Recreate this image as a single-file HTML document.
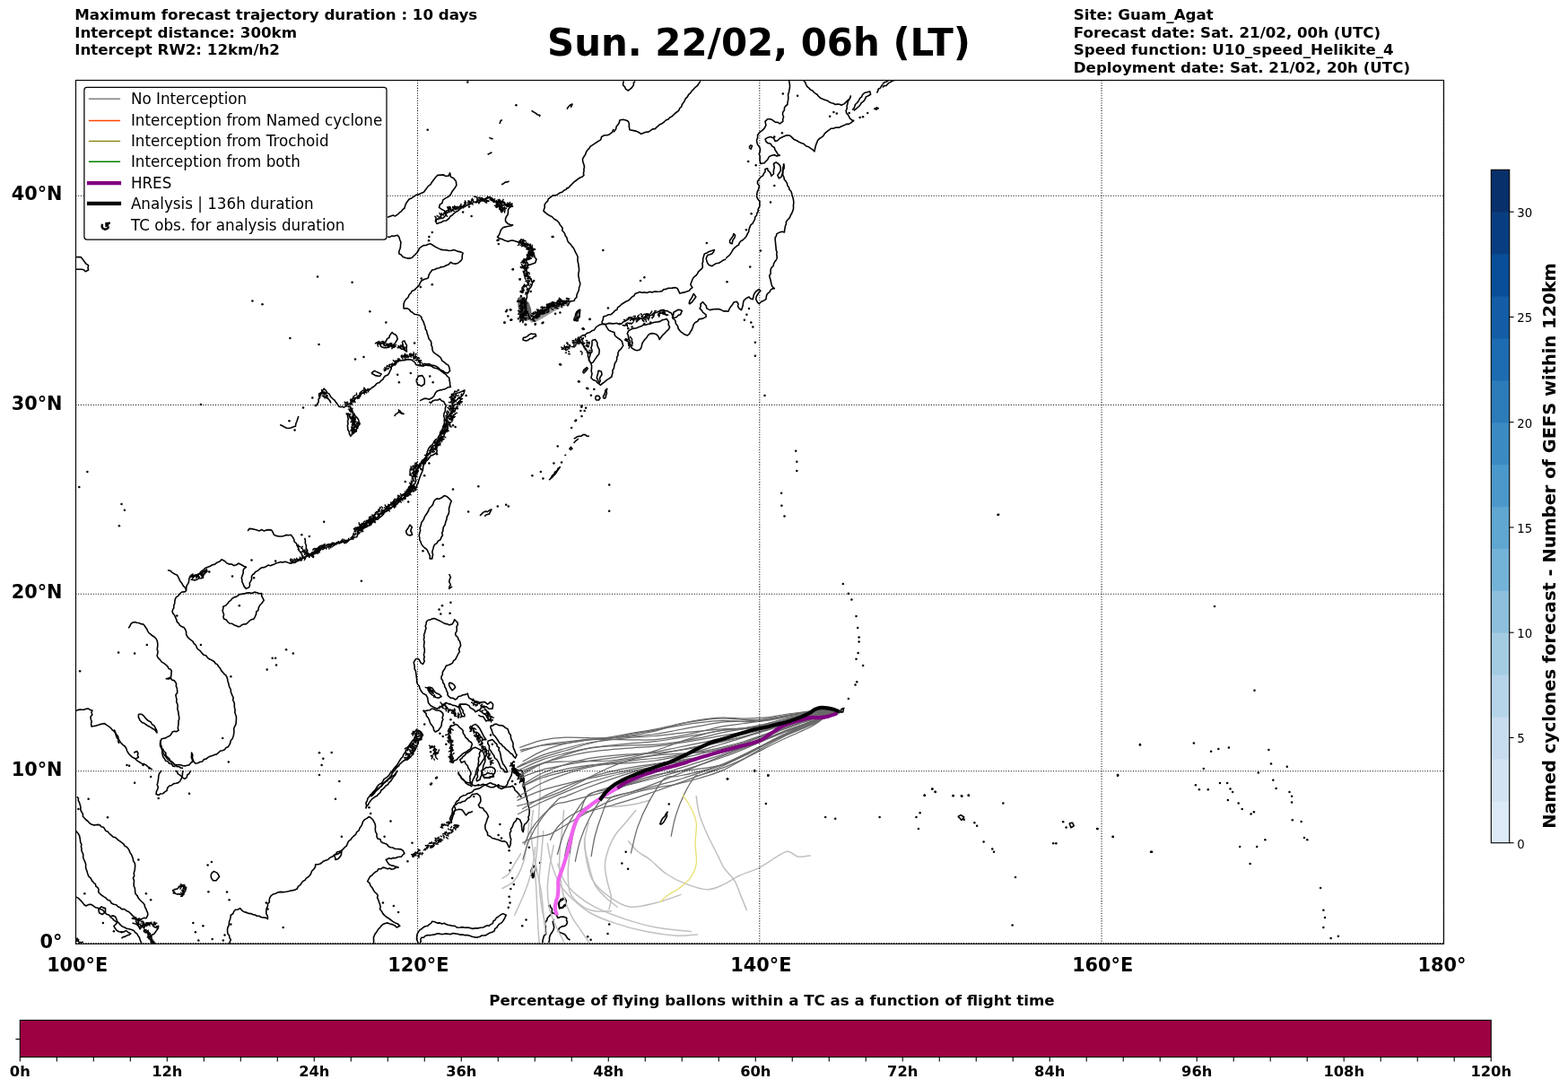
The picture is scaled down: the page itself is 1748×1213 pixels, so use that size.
<!DOCTYPE html><html><head><meta charset="utf-8"><title>Trajectory forecast</title><style>html,body{margin:0;padding:0;background:#fff;overflow:hidden}svg{display:block}</style></head><body><svg width="1748" height="1213" viewBox="0 0 1748 1213" font-family="'DejaVu Sans', 'Liberation Sans', sans-serif">
<rect width="1748" height="1213" fill="#fff"/>
<g font-weight="bold" font-size="16.67" fill="#000">
<text x="83.2" y="22.0">Maximum forecast trajectory duration : 10 days</text>
<text x="83.2" y="41.5">Intercept distance: 300km</text>
<text x="83.2" y="61.0">Intercept RW2: 12km/h2</text>
<text x="1196.8" y="22.0">Site: Guam_Agat</text>
<text x="1196.8" y="41.5">Forecast date: Sat. 21/02, 00h (UTC)</text>
<text x="1196.8" y="61.0">Speed function: U10_speed_Helikite_4</text>
<text x="1196.8" y="80.5">Deployment date: Sat. 21/02, 20h (UTC)</text>
</g>
<text x="846" y="61.5" text-anchor="middle" font-weight="bold" font-size="41.9">Sun. 22/02, 06h (LT)</text>
<defs><clipPath id="ax"><rect x="84.5" y="89.5" width="1525" height="962.8"/></clipPath></defs>
<g clip-path="url(#ax)">
<g fill="none" stroke="#000" stroke-width="1.6" stroke-linejoin="round">
<circle cx="521.3" cy="91.6" r="1.25" fill="#000" stroke="none"/>
<circle cx="476.7" cy="144.8" r="1.25" fill="#000" stroke="none"/>
<circle cx="575.4" cy="117.3" r="1.25" fill="#000" stroke="none"/>
<circle cx="615.7" cy="264.0" r="1.25" fill="#000" stroke="none"/>
<circle cx="672.3" cy="279.1" r="1.25" fill="#000" stroke="none"/>
<circle cx="481.8" cy="258.9" r="1.25" fill="#000" stroke="none"/>
<circle cx="478.4" cy="264.0" r="1.25" fill="#000" stroke="none"/>
<circle cx="478.0" cy="268.3" r="1.25" fill="#000" stroke="none"/>
<circle cx="523.0" cy="230.6" r="1.25" fill="#000" stroke="none"/>
<circle cx="516.1" cy="236.6" r="1.25" fill="#000" stroke="none"/>
<circle cx="525.6" cy="240.9" r="1.25" fill="#000" stroke="none"/>
<circle cx="555.6" cy="267.5" r="1.25" fill="#000" stroke="none"/>
<circle cx="354.0" cy="308.4" r="1.25" fill="#000" stroke="none"/>
<circle cx="281.4" cy="335.4" r="1.25" fill="#000" stroke="none"/>
<circle cx="292.5" cy="339.3" r="1.25" fill="#000" stroke="none"/>
<circle cx="323.4" cy="377.1" r="1.25" fill="#000" stroke="none"/>
<circle cx="355.5" cy="383.9" r="1.25" fill="#000" stroke="none"/>
<circle cx="223.9" cy="450.9" r="1.25" fill="#000" stroke="none"/>
<circle cx="338.0" cy="454.6" r="1.25" fill="#000" stroke="none"/>
<circle cx="348.3" cy="443.5" r="1.25" fill="#000" stroke="none"/>
<circle cx="351.7" cy="452.1" r="1.25" fill="#000" stroke="none"/>
<circle cx="872.8" cy="104.4" r="1.25" fill="#000" stroke="none"/>
<circle cx="889.1" cy="106.7" r="1.25" fill="#000" stroke="none"/>
<circle cx="834.2" cy="180.0" r="1.25" fill="#000" stroke="none"/>
<circle cx="842.7" cy="184.2" r="1.25" fill="#000" stroke="none"/>
<circle cx="863.3" cy="152.5" r="1.25" fill="#000" stroke="none"/>
<circle cx="871.9" cy="148.2" r="1.25" fill="#000" stroke="none"/>
<circle cx="863.3" cy="207.1" r="1.25" fill="#000" stroke="none"/>
<circle cx="859.0" cy="225.4" r="1.25" fill="#000" stroke="none"/>
<circle cx="837.6" cy="238.3" r="1.25" fill="#000" stroke="none"/>
<circle cx="831.9" cy="256.3" r="1.25" fill="#000" stroke="none"/>
<circle cx="787.8" cy="270.9" r="1.25" fill="#000" stroke="none"/>
<circle cx="847.9" cy="279.5" r="1.25" fill="#000" stroke="none"/>
<circle cx="929.4" cy="125.0" r="1.25" fill="#000" stroke="none"/>
<circle cx="932.8" cy="126.4" r="1.25" fill="#000" stroke="none"/>
<circle cx="925.1" cy="129.8" r="1.25" fill="#000" stroke="none"/>
<circle cx="946.6" cy="125.9" r="1.25" fill="#000" stroke="none"/>
<circle cx="958.6" cy="131.0" r="1.25" fill="#000" stroke="none"/>
<circle cx="962.0" cy="130.2" r="1.25" fill="#000" stroke="none"/>
<circle cx="967.2" cy="125.9" r="1.25" fill="#000" stroke="none"/>
<circle cx="835.0" cy="343.9" r="1.25" fill="#000" stroke="none"/>
<circle cx="832.4" cy="350.8" r="1.25" fill="#000" stroke="none"/>
<circle cx="829.9" cy="356.8" r="1.25" fill="#000" stroke="none"/>
<circle cx="837.3" cy="359.4" r="1.25" fill="#000" stroke="none"/>
<circle cx="839.3" cy="364.5" r="1.25" fill="#000" stroke="none"/>
<circle cx="841.9" cy="381.7" r="1.25" fill="#000" stroke="none"/>
<circle cx="841.9" cy="396.8" r="1.25" fill="#000" stroke="none"/>
<circle cx="852.5" cy="440.9" r="1.25" fill="#000" stroke="none"/>
<circle cx="836.2" cy="297.6" r="1.25" fill="#000" stroke="none"/>
<circle cx="810.5" cy="314.2" r="1.25" fill="#000" stroke="none"/>
<circle cx="714.0" cy="313.0" r="1.25" fill="#000" stroke="none"/>
<circle cx="718.3" cy="309.3" r="1.25" fill="#000" stroke="none"/>
<circle cx="701.2" cy="355.1" r="1.25" fill="#000" stroke="none"/>
<circle cx="706.3" cy="356.8" r="1.25" fill="#000" stroke="none"/>
<circle cx="718.3" cy="354.2" r="1.25" fill="#000" stroke="none"/>
<circle cx="728.6" cy="350.8" r="1.25" fill="#000" stroke="none"/>
<circle cx="735.5" cy="349.1" r="1.25" fill="#000" stroke="none"/>
<circle cx="700.3" cy="366.2" r="1.25" fill="#000" stroke="none"/>
<circle cx="704.6" cy="364.5" r="1.25" fill="#000" stroke="none"/>
<circle cx="718.3" cy="361.1" r="1.25" fill="#000" stroke="none"/>
<circle cx="725.2" cy="359.4" r="1.25" fill="#000" stroke="none"/>
<circle cx="690.9" cy="361.1" r="1.25" fill="#000" stroke="none"/>
<circle cx="697.7" cy="378.2" r="1.25" fill="#000" stroke="none"/>
<circle cx="701.2" cy="385.1" r="1.25" fill="#000" stroke="none"/>
<circle cx="650.0" cy="366.2" r="1.25" fill="#000" stroke="none"/>
<circle cx="644.9" cy="378.2" r="1.25" fill="#000" stroke="none"/>
<circle cx="651.7" cy="412.6" r="1.25" fill="#000" stroke="none"/>
<circle cx="645.7" cy="425.4" r="1.25" fill="#000" stroke="none"/>
<circle cx="625.1" cy="406.6" r="1.25" fill="#000" stroke="none"/>
<circle cx="655.2" cy="433.2" r="1.25" fill="#000" stroke="none"/>
<circle cx="648.3" cy="453.8" r="1.25" fill="#000" stroke="none"/>
<circle cx="651.7" cy="458.0" r="1.25" fill="#000" stroke="none"/>
<circle cx="641.4" cy="469.2" r="1.25" fill="#000" stroke="none"/>
<circle cx="637.1" cy="476.9" r="1.25" fill="#000" stroke="none"/>
<circle cx="392.6" cy="314.7" r="1.25" fill="#000" stroke="none"/>
<circle cx="412.3" cy="347.3" r="1.25" fill="#000" stroke="none"/>
<circle cx="430.3" cy="359.4" r="1.25" fill="#000" stroke="none"/>
<circle cx="462.1" cy="382.5" r="1.25" fill="#000" stroke="none"/>
<circle cx="481.8" cy="317.3" r="1.25" fill="#000" stroke="none"/>
<circle cx="443.2" cy="417.7" r="1.25" fill="#000" stroke="none"/>
<circle cx="457.8" cy="416.0" r="1.25" fill="#000" stroke="none"/>
<circle cx="479.2" cy="419.4" r="1.25" fill="#000" stroke="none"/>
<circle cx="482.7" cy="426.3" r="1.25" fill="#000" stroke="none"/>
<circle cx="444.9" cy="426.3" r="1.25" fill="#000" stroke="none"/>
<circle cx="396.0" cy="400.5" r="1.25" fill="#000" stroke="none"/>
<circle cx="405.5" cy="398.0" r="1.25" fill="#000" stroke="none"/>
<circle cx="571.9" cy="300.2" r="1.25" fill="#000" stroke="none"/>
<circle cx="569.3" cy="345.6" r="1.25" fill="#000" stroke="none"/>
<circle cx="564.2" cy="347.3" r="1.25" fill="#000" stroke="none"/>
<circle cx="562.5" cy="359.4" r="1.25" fill="#000" stroke="none"/>
<circle cx="569.3" cy="356.8" r="1.25" fill="#000" stroke="none"/>
<circle cx="585.6" cy="361.9" r="1.25" fill="#000" stroke="none"/>
<circle cx="596.8" cy="361.1" r="1.25" fill="#000" stroke="none"/>
<circle cx="605.4" cy="359.4" r="1.25" fill="#000" stroke="none"/>
<circle cx="579.6" cy="311.3" r="1.25" fill="#000" stroke="none"/>
<circle cx="580.5" cy="325.0" r="1.25" fill="#000" stroke="none"/>
<circle cx="591.7" cy="325.0" r="1.25" fill="#000" stroke="none"/>
<circle cx="595.1" cy="313.0" r="1.25" fill="#000" stroke="none"/>
<circle cx="469.8" cy="310.5" r="1.25" fill="#000" stroke="none"/>
<circle cx="468.9" cy="319.9" r="1.25" fill="#000" stroke="none"/>
<circle cx="511.0" cy="434.9" r="1.25" fill="#000" stroke="none"/>
<circle cx="519.6" cy="440.9" r="1.25" fill="#000" stroke="none"/>
<circle cx="505.0" cy="474.3" r="1.25" fill="#000" stroke="none"/>
<circle cx="507.6" cy="476.1" r="1.25" fill="#000" stroke="none"/>
<circle cx="564.2" cy="562.8" r="1.25" fill="#000" stroke="none"/>
<circle cx="554.8" cy="564.5" r="1.25" fill="#000" stroke="none"/>
<circle cx="522.1" cy="570.5" r="1.25" fill="#000" stroke="none"/>
<circle cx="505.0" cy="545.6" r="1.25" fill="#000" stroke="none"/>
<circle cx="533.3" cy="542.2" r="1.25" fill="#000" stroke="none"/>
<circle cx="593.4" cy="530.2" r="1.25" fill="#000" stroke="none"/>
<circle cx="605.4" cy="533.6" r="1.25" fill="#000" stroke="none"/>
<circle cx="602.8" cy="525.9" r="1.25" fill="#000" stroke="none"/>
<circle cx="621.7" cy="497.6" r="1.25" fill="#000" stroke="none"/>
<circle cx="626.0" cy="515.6" r="1.25" fill="#000" stroke="none"/>
<circle cx="679.2" cy="540.5" r="1.25" fill="#000" stroke="none"/>
<circle cx="679.2" cy="569.7" r="1.25" fill="#000" stroke="none"/>
<circle cx="402.9" cy="647.7" r="1.25" fill="#000" stroke="none"/>
<circle cx="471.5" cy="614.3" r="1.25" fill="#000" stroke="none"/>
<circle cx="493.8" cy="607.4" r="1.25" fill="#000" stroke="none"/>
<circle cx="494.7" cy="620.3" r="1.25" fill="#000" stroke="none"/>
<circle cx="502.4" cy="671.8" r="1.25" fill="#000" stroke="none"/>
<circle cx="493.0" cy="675.2" r="1.25" fill="#000" stroke="none"/>
<circle cx="489.5" cy="679.5" r="1.25" fill="#000" stroke="none"/>
<circle cx="491.3" cy="684.6" r="1.25" fill="#000" stroke="none"/>
<circle cx="501.6" cy="683.8" r="1.25" fill="#000" stroke="none"/>
<circle cx="566.8" cy="564.5" r="1.25" fill="#000" stroke="none"/>
<circle cx="617.4" cy="516.5" r="1.25" fill="#000" stroke="none"/>
<circle cx="478.4" cy="516.5" r="1.25" fill="#000" stroke="none"/>
<circle cx="473.2" cy="530.2" r="1.25" fill="#000" stroke="none"/>
<circle cx="469.8" cy="523.3" r="1.25" fill="#000" stroke="none"/>
<circle cx="457.8" cy="523.3" r="1.25" fill="#000" stroke="none"/>
<circle cx="451.8" cy="537.1" r="1.25" fill="#000" stroke="none"/>
<circle cx="455.2" cy="559.4" r="1.25" fill="#000" stroke="none"/>
<circle cx="440.6" cy="564.5" r="1.25" fill="#000" stroke="none"/>
<circle cx="426.9" cy="571.4" r="1.25" fill="#000" stroke="none"/>
<circle cx="413.2" cy="585.1" r="1.25" fill="#000" stroke="none"/>
<circle cx="399.4" cy="593.7" r="1.25" fill="#000" stroke="none"/>
<circle cx="487.0" cy="506.2" r="1.25" fill="#000" stroke="none"/>
<circle cx="485.3" cy="501.0" r="1.25" fill="#000" stroke="none"/>
<circle cx="97.4" cy="525.9" r="1.25" fill="#000" stroke="none"/>
<circle cx="88.3" cy="543.1" r="1.25" fill="#000" stroke="none"/>
<circle cx="135.5" cy="562.0" r="1.25" fill="#000" stroke="none"/>
<circle cx="138.9" cy="568.8" r="1.25" fill="#000" stroke="none"/>
<circle cx="132.9" cy="586.3" r="1.25" fill="#000" stroke="none"/>
<circle cx="361.2" cy="581.7" r="1.25" fill="#000" stroke="none"/>
<circle cx="280.5" cy="624.6" r="1.25" fill="#000" stroke="none"/>
<circle cx="259.0" cy="642.6" r="1.25" fill="#000" stroke="none"/>
<circle cx="322.5" cy="469.3" r="1.25" fill="#000" stroke="none"/>
<circle cx="328.6" cy="479.6" r="1.25" fill="#000" stroke="none"/>
<circle cx="336.3" cy="596.3" r="1.25" fill="#000" stroke="none"/>
<circle cx="344.9" cy="598.0" r="1.25" fill="#000" stroke="none"/>
<circle cx="233.3" cy="637.5" r="1.25" fill="#000" stroke="none"/>
<circle cx="283.1" cy="644.3" r="1.25" fill="#000" stroke="none"/>
<circle cx="307.1" cy="625.5" r="1.25" fill="#000" stroke="none"/>
<circle cx="324.3" cy="623.8" r="1.25" fill="#000" stroke="none"/>
<circle cx="197.3" cy="686.5" r="1.25" fill="#000" stroke="none"/>
<circle cx="223.9" cy="719.1" r="1.25" fill="#000" stroke="none"/>
<circle cx="257.3" cy="754.2" r="1.25" fill="#000" stroke="none"/>
<circle cx="248.2" cy="822.9" r="1.25" fill="#000" stroke="none"/>
<circle cx="254.8" cy="849.5" r="1.25" fill="#000" stroke="none"/>
<circle cx="163.8" cy="719.1" r="1.25" fill="#000" stroke="none"/>
<circle cx="132.1" cy="727.6" r="1.25" fill="#000" stroke="none"/>
<circle cx="150.1" cy="728.5" r="1.25" fill="#000" stroke="none"/>
<circle cx="89.1" cy="748.2" r="1.25" fill="#000" stroke="none"/>
<circle cx="319.1" cy="724.2" r="1.25" fill="#000" stroke="none"/>
<circle cx="326.8" cy="728.5" r="1.25" fill="#000" stroke="none"/>
<circle cx="303.7" cy="733.7" r="1.25" fill="#000" stroke="none"/>
<circle cx="307.1" cy="733.7" r="1.25" fill="#000" stroke="none"/>
<circle cx="308.0" cy="741.4" r="1.25" fill="#000" stroke="none"/>
<circle cx="297.7" cy="746.5" r="1.25" fill="#000" stroke="none"/>
<circle cx="356.0" cy="839.2" r="1.25" fill="#000" stroke="none"/>
<circle cx="369.7" cy="838.9" r="1.25" fill="#000" stroke="none"/>
<circle cx="360.3" cy="845.7" r="1.25" fill="#000" stroke="none"/>
<circle cx="358.6" cy="852.9" r="1.25" fill="#000" stroke="none"/>
<circle cx="141.5" cy="852.9" r="1.25" fill="#000" stroke="none"/>
<circle cx="144.1" cy="853.8" r="1.25" fill="#000" stroke="none"/>
<circle cx="266.8" cy="675.3" r="1.25" fill="#000" stroke="none"/>
<circle cx="159.5" cy="852.9" r="1.25" fill="#000" stroke="none"/>
<circle cx="166.4" cy="856.4" r="1.25" fill="#000" stroke="none"/>
<circle cx="235.9" cy="961.1" r="1.25" fill="#000" stroke="none"/>
<circle cx="231.6" cy="964.5" r="1.25" fill="#000" stroke="none"/>
<circle cx="253.0" cy="994.6" r="1.25" fill="#000" stroke="none"/>
<circle cx="255.6" cy="1003.2" r="1.25" fill="#000" stroke="none"/>
<circle cx="232.4" cy="994.2" r="1.25" fill="#000" stroke="none"/>
<circle cx="226.4" cy="1032.3" r="1.25" fill="#000" stroke="none"/>
<circle cx="217.9" cy="1039.2" r="1.25" fill="#000" stroke="none"/>
<circle cx="315.7" cy="1034.0" r="1.25" fill="#000" stroke="none"/>
<circle cx="374.0" cy="890.7" r="1.25" fill="#000" stroke="none"/>
<circle cx="378.3" cy="871.0" r="1.25" fill="#000" stroke="none"/>
<circle cx="356.0" cy="864.1" r="1.25" fill="#000" stroke="none"/>
<circle cx="380.9" cy="932.8" r="1.25" fill="#000" stroke="none"/>
<circle cx="98.6" cy="890.7" r="1.25" fill="#000" stroke="none"/>
<circle cx="120.0" cy="911.3" r="1.25" fill="#000" stroke="none"/>
<circle cx="87.4" cy="901.9" r="1.25" fill="#000" stroke="none"/>
<circle cx="154.4" cy="958.5" r="1.25" fill="#000" stroke="none"/>
<circle cx="162.9" cy="996.3" r="1.25" fill="#000" stroke="none"/>
<circle cx="168.1" cy="1003.2" r="1.25" fill="#000" stroke="none"/>
<circle cx="94.3" cy="996.3" r="1.25" fill="#000" stroke="none"/>
<circle cx="114.9" cy="1028.9" r="1.25" fill="#000" stroke="none"/>
<circle cx="126.9" cy="1038.3" r="1.25" fill="#000" stroke="none"/>
<circle cx="135.5" cy="1039.2" r="1.25" fill="#000" stroke="none"/>
<circle cx="211.0" cy="884.7" r="1.25" fill="#000" stroke="none"/>
<circle cx="176.7" cy="889.9" r="1.25" fill="#000" stroke="none"/>
<circle cx="168.1" cy="865.9" r="1.25" fill="#000" stroke="none"/>
<circle cx="150.1" cy="872.7" r="1.25" fill="#000" stroke="none"/>
<circle cx="215.3" cy="1028.9" r="1.25" fill="#000" stroke="none"/>
<circle cx="221.3" cy="1048.6" r="1.25" fill="#000" stroke="none"/>
<circle cx="236.7" cy="1046.9" r="1.25" fill="#000" stroke="none"/>
<circle cx="248.8" cy="1048.6" r="1.25" fill="#000" stroke="none"/>
<circle cx="250.5" cy="1042.6" r="1.25" fill="#000" stroke="none"/>
<circle cx="257.3" cy="1030.6" r="1.25" fill="#000" stroke="none"/>
<circle cx="296.8" cy="1006.6" r="1.25" fill="#000" stroke="none"/>
<circle cx="298.5" cy="1013.5" r="1.25" fill="#000" stroke="none"/>
<circle cx="193.8" cy="995.4" r="1.25" fill="#000" stroke="none"/>
<circle cx="204.1" cy="994.6" r="1.25" fill="#000" stroke="none"/>
<circle cx="480.1" cy="833.2" r="1.25" fill="#000" stroke="none"/>
<circle cx="483.5" cy="836.6" r="1.25" fill="#000" stroke="none"/>
<circle cx="487.0" cy="840.0" r="1.25" fill="#000" stroke="none"/>
<circle cx="481.8" cy="843.5" r="1.25" fill="#000" stroke="none"/>
<circle cx="480.1" cy="838.3" r="1.25" fill="#000" stroke="none"/>
<circle cx="486.1" cy="867.5" r="1.25" fill="#000" stroke="none"/>
<circle cx="481.0" cy="873.5" r="1.25" fill="#000" stroke="none"/>
<circle cx="473.2" cy="807.4" r="1.25" fill="#000" stroke="none"/>
<circle cx="490.4" cy="817.7" r="1.25" fill="#000" stroke="none"/>
<circle cx="493.8" cy="821.1" r="1.25" fill="#000" stroke="none"/>
<circle cx="497.3" cy="829.7" r="1.25" fill="#000" stroke="none"/>
<circle cx="504.1" cy="792.0" r="1.25" fill="#000" stroke="none"/>
<circle cx="502.4" cy="802.3" r="1.25" fill="#000" stroke="none"/>
<circle cx="505.8" cy="805.7" r="1.25" fill="#000" stroke="none"/>
<circle cx="528.2" cy="888.1" r="1.25" fill="#000" stroke="none"/>
<circle cx="533.3" cy="875.2" r="1.25" fill="#000" stroke="none"/>
<circle cx="555.6" cy="875.2" r="1.25" fill="#000" stroke="none"/>
<circle cx="547.0" cy="819.4" r="1.25" fill="#000" stroke="none"/>
<circle cx="548.8" cy="829.7" r="1.25" fill="#000" stroke="none"/>
<circle cx="572.8" cy="860.6" r="1.25" fill="#000" stroke="none"/>
<circle cx="576.2" cy="864.0" r="1.25" fill="#000" stroke="none"/>
<circle cx="579.6" cy="867.5" r="1.25" fill="#000" stroke="none"/>
<circle cx="571.1" cy="870.9" r="1.25" fill="#000" stroke="none"/>
<circle cx="574.5" cy="874.3" r="1.25" fill="#000" stroke="none"/>
<circle cx="567.6" cy="948.2" r="1.25" fill="#000" stroke="none"/>
<circle cx="569.3" cy="962.0" r="1.25" fill="#000" stroke="none"/>
<circle cx="568.5" cy="970.5" r="1.25" fill="#000" stroke="none"/>
<circle cx="571.1" cy="979.1" r="1.25" fill="#000" stroke="none"/>
<circle cx="572.8" cy="986.0" r="1.25" fill="#000" stroke="none"/>
<circle cx="569.3" cy="991.1" r="1.25" fill="#000" stroke="none"/>
<circle cx="567.6" cy="999.7" r="1.25" fill="#000" stroke="none"/>
<circle cx="568.5" cy="1006.6" r="1.25" fill="#000" stroke="none"/>
<circle cx="566.8" cy="1011.7" r="1.25" fill="#000" stroke="none"/>
<circle cx="586.5" cy="1025.5" r="1.25" fill="#000" stroke="none"/>
<circle cx="582.2" cy="1032.3" r="1.25" fill="#000" stroke="none"/>
<circle cx="677.5" cy="1040.9" r="1.25" fill="#000" stroke="none"/>
<circle cx="679.2" cy="1030.6" r="1.25" fill="#000" stroke="none"/>
<circle cx="658.6" cy="1047.8" r="1.25" fill="#000" stroke="none"/>
<circle cx="655.2" cy="1044.3" r="1.25" fill="#000" stroke="none"/>
<circle cx="602.0" cy="962.0" r="1.25" fill="#000" stroke="none"/>
<circle cx="411.5" cy="900.2" r="1.25" fill="#000" stroke="none"/>
<circle cx="413.2" cy="907.1" r="1.25" fill="#000" stroke="none"/>
<circle cx="435.5" cy="915.6" r="1.25" fill="#000" stroke="none"/>
<circle cx="428.6" cy="932.8" r="1.25" fill="#000" stroke="none"/>
<circle cx="459.5" cy="939.7" r="1.25" fill="#000" stroke="none"/>
<circle cx="454.4" cy="960.3" r="1.25" fill="#000" stroke="none"/>
<circle cx="480.1" cy="874.4" r="1.25" fill="#000" stroke="none"/>
<circle cx="487.0" cy="866.7" r="1.25" fill="#000" stroke="none"/>
<circle cx="557.3" cy="919.1" r="1.25" fill="#000" stroke="none"/>
<circle cx="555.6" cy="931.1" r="1.25" fill="#000" stroke="none"/>
<circle cx="559.0" cy="934.5" r="1.25" fill="#000" stroke="none"/>
<circle cx="589.9" cy="944.8" r="1.25" fill="#000" stroke="none"/>
<circle cx="612.2" cy="1010.0" r="1.25" fill="#000" stroke="none"/>
<circle cx="426.9" cy="1006.6" r="1.25" fill="#000" stroke="none"/>
<circle cx="444.1" cy="1016.9" r="1.25" fill="#000" stroke="none"/>
<circle cx="438.9" cy="1010.0" r="1.25" fill="#000" stroke="none"/>
<circle cx="887.2" cy="502.7" r="1.25" fill="#000" stroke="none"/>
<circle cx="888.3" cy="514.7" r="1.25" fill="#000" stroke="none"/>
<circle cx="888.3" cy="525.0" r="1.25" fill="#000" stroke="none"/>
<circle cx="871.1" cy="549.8" r="1.25" fill="#000" stroke="none"/>
<circle cx="871.4" cy="563.8" r="1.25" fill="#000" stroke="none"/>
<circle cx="874.5" cy="575.5" r="1.25" fill="#000" stroke="none"/>
<circle cx="1113.1" cy="573.8" r="1.25" fill="#000" stroke="none"/>
<circle cx="939.8" cy="651.0" r="1.25" fill="#000" stroke="none"/>
<circle cx="945.9" cy="661.7" r="1.25" fill="#000" stroke="none"/>
<circle cx="949.4" cy="668.5" r="1.25" fill="#000" stroke="none"/>
<circle cx="954.5" cy="687.1" r="1.25" fill="#000" stroke="none"/>
<circle cx="956.2" cy="700.1" r="1.25" fill="#000" stroke="none"/>
<circle cx="957.6" cy="710.4" r="1.25" fill="#000" stroke="none"/>
<circle cx="957.6" cy="715.6" r="1.25" fill="#000" stroke="none"/>
<circle cx="956.6" cy="727.9" r="1.25" fill="#000" stroke="none"/>
<circle cx="954.5" cy="734.8" r="1.25" fill="#000" stroke="none"/>
<circle cx="962.1" cy="742.0" r="1.25" fill="#000" stroke="none"/>
<circle cx="955.2" cy="760.2" r="1.25" fill="#000" stroke="none"/>
<circle cx="953.5" cy="763.6" r="1.25" fill="#000" stroke="none"/>
<circle cx="945.9" cy="779.1" r="1.25" fill="#000" stroke="none"/>
<circle cx="1271.0" cy="830.6" r="1.25" fill="#000" stroke="none"/>
<circle cx="1246.0" cy="863.9" r="1.25" fill="#000" stroke="none"/>
<circle cx="811.0" cy="868.3" r="1.25" fill="#000" stroke="none"/>
<circle cx="841.2" cy="859.8" r="1.25" fill="#000" stroke="none"/>
<circle cx="856.3" cy="864.2" r="1.25" fill="#000" stroke="none"/>
<circle cx="1030.7" cy="886.5" r="1.25" fill="#000" stroke="none"/>
<circle cx="1039.3" cy="879.7" r="1.25" fill="#000" stroke="none"/>
<circle cx="1042.7" cy="882.8" r="1.25" fill="#000" stroke="none"/>
<circle cx="1062.6" cy="887.2" r="1.25" fill="#000" stroke="none"/>
<circle cx="1071.9" cy="887.2" r="1.25" fill="#000" stroke="none"/>
<circle cx="1079.8" cy="886.5" r="1.25" fill="#000" stroke="none"/>
<circle cx="841.2" cy="858.9" r="1.25" fill="#000" stroke="none"/>
<circle cx="856.3" cy="864.7" r="1.25" fill="#000" stroke="none"/>
<circle cx="811.0" cy="868.5" r="1.25" fill="#000" stroke="none"/>
<circle cx="745.8" cy="896.6" r="1.25" fill="#000" stroke="none"/>
<circle cx="697.7" cy="949.8" r="1.25" fill="#000" stroke="none"/>
<circle cx="693.3" cy="962.5" r="1.25" fill="#000" stroke="none"/>
<circle cx="700.1" cy="968.7" r="1.25" fill="#000" stroke="none"/>
<circle cx="853.9" cy="895.9" r="1.25" fill="#000" stroke="none"/>
<circle cx="920.2" cy="911.0" r="1.25" fill="#000" stroke="none"/>
<circle cx="931.2" cy="912.8" r="1.25" fill="#000" stroke="none"/>
<circle cx="980.6" cy="911.0" r="1.25" fill="#000" stroke="none"/>
<circle cx="1021.5" cy="911.0" r="1.25" fill="#000" stroke="none"/>
<circle cx="1025.6" cy="906.2" r="1.25" fill="#000" stroke="none"/>
<circle cx="1023.9" cy="924.1" r="1.25" fill="#000" stroke="none"/>
<circle cx="1030.7" cy="887.0" r="1.25" fill="#000" stroke="none"/>
<circle cx="1039.3" cy="879.5" r="1.25" fill="#000" stroke="none"/>
<circle cx="1042.7" cy="882.9" r="1.25" fill="#000" stroke="none"/>
<circle cx="1062.6" cy="887.0" r="1.25" fill="#000" stroke="none"/>
<circle cx="1072.3" cy="887.7" r="1.25" fill="#000" stroke="none"/>
<circle cx="1079.8" cy="887.0" r="1.25" fill="#000" stroke="none"/>
<circle cx="1074.7" cy="913.8" r="1.25" fill="#000" stroke="none"/>
<circle cx="1086.3" cy="917.2" r="1.25" fill="#000" stroke="none"/>
<circle cx="1089.1" cy="920.7" r="1.25" fill="#000" stroke="none"/>
<circle cx="1096.6" cy="938.5" r="1.25" fill="#000" stroke="none"/>
<circle cx="1106.2" cy="946.4" r="1.25" fill="#000" stroke="none"/>
<circle cx="1108.0" cy="949.8" r="1.25" fill="#000" stroke="none"/>
<circle cx="1118.3" cy="895.6" r="1.25" fill="#000" stroke="none"/>
<circle cx="1132.0" cy="978.0" r="1.25" fill="#000" stroke="none"/>
<circle cx="1128.6" cy="1031.5" r="1.25" fill="#000" stroke="none"/>
<circle cx="1174.2" cy="940.2" r="1.25" fill="#000" stroke="none"/>
<circle cx="1177.3" cy="940.2" r="1.25" fill="#000" stroke="none"/>
<circle cx="1185.2" cy="916.2" r="1.25" fill="#000" stroke="none"/>
<circle cx="1188.6" cy="922.4" r="1.25" fill="#000" stroke="none"/>
<circle cx="1223.6" cy="924.1" r="1.25" fill="#000" stroke="none"/>
<circle cx="1240.8" cy="932.7" r="1.25" fill="#000" stroke="none"/>
<circle cx="1246.0" cy="864.7" r="1.25" fill="#000" stroke="none"/>
<circle cx="1283.0" cy="949.8" r="1.25" fill="#000" stroke="none"/>
<circle cx="1354.0" cy="676.1" r="1.25" fill="#000" stroke="none"/>
<circle cx="1398.5" cy="769.7" r="1.25" fill="#000" stroke="none"/>
<circle cx="1270.9" cy="830.1" r="1.25" fill="#000" stroke="none"/>
<circle cx="1330.9" cy="828.5" r="1.25" fill="#000" stroke="none"/>
<circle cx="1350.1" cy="837.7" r="1.25" fill="#000" stroke="none"/>
<circle cx="1358.3" cy="835.0" r="1.25" fill="#000" stroke="none"/>
<circle cx="1369.9" cy="833.4" r="1.25" fill="#000" stroke="none"/>
<circle cx="1414.4" cy="836.0" r="1.25" fill="#000" stroke="none"/>
<circle cx="1417.0" cy="851.5" r="1.25" fill="#000" stroke="none"/>
<circle cx="1434.8" cy="854.8" r="1.25" fill="#000" stroke="none"/>
<circle cx="1341.8" cy="857.1" r="1.25" fill="#000" stroke="none"/>
<circle cx="1402.8" cy="861.4" r="1.25" fill="#000" stroke="none"/>
<circle cx="1246.2" cy="864.1" r="1.25" fill="#000" stroke="none"/>
<circle cx="1419.3" cy="869.7" r="1.25" fill="#000" stroke="none"/>
<circle cx="1422.6" cy="878.9" r="1.25" fill="#000" stroke="none"/>
<circle cx="1332.9" cy="875.3" r="1.25" fill="#000" stroke="none"/>
<circle cx="1336.9" cy="880.2" r="1.25" fill="#000" stroke="none"/>
<circle cx="1346.8" cy="880.2" r="1.25" fill="#000" stroke="none"/>
<circle cx="1360.0" cy="873.0" r="1.25" fill="#000" stroke="none"/>
<circle cx="1368.2" cy="873.0" r="1.25" fill="#000" stroke="none"/>
<circle cx="1371.5" cy="879.6" r="1.25" fill="#000" stroke="none"/>
<circle cx="1374.1" cy="882.9" r="1.25" fill="#000" stroke="none"/>
<circle cx="1368.9" cy="892.1" r="1.25" fill="#000" stroke="none"/>
<circle cx="1380.7" cy="895.4" r="1.25" fill="#000" stroke="none"/>
<circle cx="1384.7" cy="902.0" r="1.25" fill="#000" stroke="none"/>
<circle cx="1394.6" cy="907.6" r="1.25" fill="#000" stroke="none"/>
<circle cx="1397.9" cy="905.3" r="1.25" fill="#000" stroke="none"/>
<circle cx="1437.5" cy="882.9" r="1.25" fill="#000" stroke="none"/>
<circle cx="1440.1" cy="887.8" r="1.25" fill="#000" stroke="none"/>
<circle cx="1440.1" cy="894.4" r="1.25" fill="#000" stroke="none"/>
<circle cx="1440.8" cy="914.2" r="1.25" fill="#000" stroke="none"/>
<circle cx="1450.7" cy="915.9" r="1.25" fill="#000" stroke="none"/>
<circle cx="1454.0" cy="934.0" r="1.25" fill="#000" stroke="none"/>
<circle cx="1457.3" cy="936.3" r="1.25" fill="#000" stroke="none"/>
<circle cx="1410.4" cy="936.3" r="1.25" fill="#000" stroke="none"/>
<circle cx="1401.2" cy="943.9" r="1.25" fill="#000" stroke="none"/>
<circle cx="1382.1" cy="943.9" r="1.25" fill="#000" stroke="none"/>
<circle cx="1393.6" cy="963.0" r="1.25" fill="#000" stroke="none"/>
<circle cx="1284.1" cy="949.8" r="1.25" fill="#000" stroke="none"/>
<circle cx="1240.6" cy="933.0" r="1.25" fill="#000" stroke="none"/>
<circle cx="1223.1" cy="924.1" r="1.25" fill="#000" stroke="none"/>
<circle cx="1472.1" cy="990.1" r="1.25" fill="#000" stroke="none"/>
<circle cx="1475.4" cy="1014.8" r="1.25" fill="#000" stroke="none"/>
<circle cx="1477.0" cy="1023.0" r="1.25" fill="#000" stroke="none"/>
<circle cx="1475.4" cy="1033.9" r="1.25" fill="#000" stroke="none"/>
<circle cx="1483.6" cy="1046.1" r="1.25" fill="#000" stroke="none"/>
<circle cx="1491.9" cy="1043.8" r="1.25" fill="#000" stroke="none"/>
<circle cx="1112.5" cy="573.9" r="1.25" fill="#000" stroke="none"/>
<circle cx="554.5" cy="268.0" r="1.25" fill="#000" stroke="none"/>
<circle cx="555.8" cy="272.0" r="1.25" fill="#000" stroke="none"/>
<circle cx="571.6" cy="300.3" r="1.25" fill="#000" stroke="none"/>
<circle cx="579.6" cy="311.5" r="1.25" fill="#000" stroke="none"/>
<circle cx="583.5" cy="323.4" r="1.25" fill="#000" stroke="none"/>
<circle cx="580.9" cy="330.0" r="1.25" fill="#000" stroke="none"/>
<circle cx="569.0" cy="345.2" r="1.25" fill="#000" stroke="none"/>
<circle cx="565.1" cy="345.8" r="1.25" fill="#000" stroke="none"/>
<circle cx="566.4" cy="352.4" r="1.25" fill="#000" stroke="none"/>
<circle cx="570.3" cy="356.4" r="1.25" fill="#000" stroke="none"/>
<circle cx="562.4" cy="359.7" r="1.25" fill="#000" stroke="none"/>
<circle cx="586.2" cy="361.7" r="1.25" fill="#000" stroke="none"/>
<circle cx="596.7" cy="361.7" r="1.25" fill="#000" stroke="none"/>
<circle cx="604.6" cy="360.3" r="1.25" fill="#000" stroke="none"/>
<circle cx="616.5" cy="264.1" r="1.25" fill="#000" stroke="none"/>
<circle cx="650.8" cy="366.9" r="1.25" fill="#000" stroke="none"/>
<circle cx="657.4" cy="355.7" r="1.25" fill="#000" stroke="none"/>
<circle cx="624.4" cy="348.5" r="1.25" fill="#000" stroke="none"/>
<circle cx="619.1" cy="349.8" r="1.25" fill="#000" stroke="none"/>
<circle cx="624.2" cy="406.2" r="1.25" fill="#000" stroke="none"/>
<circle cx="645.0" cy="425.2" r="1.25" fill="#000" stroke="none"/>
<circle cx="654.3" cy="432.7" r="1.25" fill="#000" stroke="none"/>
<circle cx="662.3" cy="433.9" r="1.25" fill="#000" stroke="none"/>
<circle cx="658.9" cy="440.8" r="1.25" fill="#000" stroke="none"/>
<circle cx="648.5" cy="452.4" r="1.25" fill="#000" stroke="none"/>
<circle cx="653.1" cy="454.7" r="1.25" fill="#000" stroke="none"/>
<circle cx="647.3" cy="458.1" r="1.25" fill="#000" stroke="none"/>
<circle cx="648.5" cy="463.9" r="1.25" fill="#000" stroke="none"/>
<circle cx="642.1" cy="468.5" r="1.25" fill="#000" stroke="none"/>
<circle cx="677.9" cy="343.6" r="1.25" fill="#000" stroke="none"/>
<circle cx="657.7" cy="356.0" r="1.25" fill="#000" stroke="none"/>
<circle cx="649.6" cy="366.4" r="1.25" fill="#000" stroke="none"/>
<path d="M432.1,242.3 L435.5,240.9 L438.1,240.0 L440.6,240.9 L443.2,239.2 L445.2,237.2 L447.5,235.7 L448.8,233.6 L450.9,232.3 L451.8,228.9 L453.5,225.4 L456.1,222.0 L458.8,220.9 L461.2,219.4 L463.5,217.5 L466.4,216.9 L469.4,215.6 L472.4,214.3 L475.0,210.8 L477.5,207.4 L480.1,205.7 L481.2,203.4 L482.7,201.4 L485.3,198.0 L487.8,195.4 L492.1,195.1 L494.5,194.9 L496.4,196.3 L499.8,196.3 L501.6,192.8 L502.4,197.1 L505.8,198.8 L508.4,202.3 L508.9,206.6 L506.7,210.0 L504.1,213.4 L502.4,216.9 L499.8,219.4 L496.4,221.1 L493.8,222.9 L493.0,226.3 L490.4,228.0 L489.5,231.4 L492.1,233.2 L495.5,234.9 L496.4,237.0 L497.3,239.2 L495.5,241.7 L493.7,243.3 L491.3,243.5 L487.0,244.3 L485.3,246.0 L487.0,249.5 L489.5,248.5 L492.1,247.7 L494.5,246.2 L497.3,246.0 L500.7,243.5 L501.9,241.2 L504.1,240.0 L505.8,238.2 L507.6,236.6 L510.4,235.3 L512.7,233.2 L515.0,231.3 L517.9,230.6 L520.2,228.9 L523.0,228.0 L525.7,226.9 L528.2,225.4 L530.7,225.3 L532.8,223.8 L535.0,222.9 L537.3,222.4 L539.7,223.1 L541.9,222.0 L544.2,220.4 L547.0,220.3"/>
<path d="M432.1,264.0 L434.4,264.4 L436.6,263.1 L438.9,263.2 L443.2,262.3 L445.0,264.6 L445.8,267.5 L446.9,269.9 L446.6,272.6 L446.5,275.3 L445.8,277.8 L444.8,280.3 L444.9,282.9 L447.4,284.2 L449.2,286.4 L451.7,287.3 L454.4,288.1 L457.0,287.9 L459.5,287.2 L461.1,285.3 L462.9,283.8 L464.7,281.7 L466.4,279.5 L467.5,276.9 L469.8,275.2 L472.1,273.6 L475.0,273.5 L477.4,272.2 L480.1,271.8 L482.7,273.5 L485.3,275.2 L488.7,276.9 L491.2,278.1 L493.8,278.6 L496.1,278.8 L498.4,278.9 L500.7,279.5 L503.3,279.2 L505.8,278.6 L508.4,279.4 L511.0,280.4 L513.7,280.9 L516.1,282.1 L515.4,284.3 L515.2,286.6 L515.3,288.9"/>
<path d="M684.0,143.9 L682.6,147.3 L679.2,149.9 L676.7,150.8 L674.0,150.8 L670.6,152.5 L669.7,155.9 L667.5,157.1 L665.4,158.5 L662.9,160.2 L660.3,161.9 L658.1,163.2 L656.9,165.4 L654.8,167.3 L653.4,169.7 L652.5,172.4 L650.9,174.8 L649.5,177.2 L649.7,180.0 L650.9,183.4 L651.5,186.0 L650.9,188.5 L651.0,190.8 L650.4,193.1 L650.9,195.4 L649.0,197.2 L646.6,198.0 L643.1,200.5 L639.7,203.1 L637.6,205.3 L635.4,207.4 L633.7,209.4 L631.1,210.0"/>
<path d="M559.0,205.7 L561.3,204.7 L563.3,203.1 L565.6,203.0 L567.6,201.9"/>
<path d="M592.5,123.3 L594.6,124.7 L596.8,125.9 L599.1,127.8 L602.0,128.5 L601.1,130.2"/>
<path d="M632.0,121.6 L633.5,119.3 L635.4,117.3 L638.0,116.1 L636.3,119.9"/>
<path d="M557.0,137.9 L558.2,134.5 L559.9,133.6"/>
<path d="M545.3,153.4 L547.4,154.4 L549.6,154.7"/>
<path d="M543.6,172.2 L546.1,171.1 L548.4,169.7"/>
<path d="M84.9,286.5 L87.4,286.6 L90.0,286.5 L91.8,288.6 L93.4,290.7 L96.0,294.2 L98.6,295.9 L98.0,298.5 L98.6,301.0 L95.2,302.8 L93.4,300.8 L90.9,300.2 L87.9,300.2 L84.9,300.2"/>
<path d="M351.7,452.9 L353.7,450.5 L355.2,447.8 L355.0,445.3 L356.6,443.3 L356.9,440.9 L358.4,438.4 L359.4,435.8 L361.2,433.2 L363.7,435.8 L364.9,438.1 L367.2,439.2 L368.4,442.1 L370.6,444.3 L372.6,445.8 L374.0,447.8 L375.9,450.2 L377.5,452.9 L379.6,453.8 L382.0,453.3 L384.0,454.6"/>
<path d="M358.6,440.9 L360.9,442.0 L363.4,442.7 L365.4,444.3 L367.7,446.6 L368.9,449.5"/>
<path d="M684.0,147.3 L686.6,143.9 L687.2,141.0 L689.1,138.8 L690.4,136.5 L690.9,134.0 L694.3,133.3 L697.7,134.0 L700.3,135.3 L701.4,137.8 L701.2,140.5 L702.0,144.8 L706.3,145.6 L709.0,146.1 L711.5,147.3 L714.9,149.4 L717.4,148.2 L720.0,147.3 L722.8,147.1 L725.2,145.6 L727.5,143.9 L730.3,143.6 L732.0,141.9 L733.8,140.4 L735.5,138.8 L738.1,137.7 L740.4,136.0 L742.3,134.0 L745.0,133.1 L746.7,130.9 L749.2,129.8 L750.8,128.1 L752.5,126.5 L754.4,125.0 L756.6,123.3 L757.8,120.7 L759.7,119.0 L760.4,116.5 L762.9,113.0 L764.2,110.1 L766.4,107.9 L767.7,105.4 L769.8,103.6 L771.2,101.3 L773.2,99.6 L775.1,97.3 L777.5,95.5 L779.2,92.9 L781.0,90.4"/>
<path d="M695.2,90.4 L694.7,92.7 L694.6,95.0 L696.5,96.9 L697.7,99.3 L700.3,101.0 L703.7,98.4 L706.3,95.0 L706.4,92.4 L708.0,90.4"/>
<path d="M879.6,89.9 L880.2,92.8 L880.5,95.9 L880.4,98.2 L879.8,100.4 L879.6,102.7 L878.6,104.9 L878.7,107.3 L878.8,109.6 L878.5,111.9 L878.0,114.1 L877.9,116.5 L876.0,118.0 L874.5,119.9 L874.4,122.7 L872.8,125.0 L872.5,127.7 L873.6,130.2 L872.7,132.7 L872.8,135.3 L869.3,137.9 L867.0,136.4 L864.2,136.2 L860.8,133.6 L858.3,132.7 L855.6,132.8 L853.0,135.3 L853.9,139.6 L852.8,141.9 L851.3,143.9 L849.3,145.8 L847.0,147.3 L844.5,150.8 L844.7,153.5 L843.6,155.9 L843.8,158.5 L844.5,161.1 L847.0,164.5 L847.5,166.9 L847.2,169.2 L846.2,171.4 L847.0,173.6 L847.3,175.9 L847.0,178.2 L847.9,182.5 L852.2,181.7 L853.7,179.8 L855.6,178.2 L857.3,174.8 L860.8,173.1 L863.5,172.8 L865.9,173.9 L869.3,173.1 L867.0,172.0 L865.9,169.7 L864.1,167.3 L863.3,164.5 L860.7,162.8 L859.0,160.2 L855.6,159.4 L853.9,157.6 L853.0,155.1 L855.6,153.4 L859.0,152.5 L862.5,153.9 L864.2,157.6 L866.8,156.8 L869.3,154.2 L872.8,152.5 L875.3,151.4 L877.9,150.8 L880.9,151.3 L883.1,153.4 L885.3,155.6 L888.2,156.8 L890.7,158.2 L893.4,159.4 L896.3,160.6 L898.5,162.8 L901.3,163.7 L903.7,165.4 L906.0,166.9 L908.0,168.8 L908.8,164.5 L909.5,161.9 L910.5,159.4 L911.7,156.4 L914.0,154.2 L916.1,152.9 L918.0,151.4 L919.1,149.1 L920.8,147.6 L922.5,146.2 L924.3,144.8 L926.6,143.2 L929.4,143.1 L932.3,142.0 L935.4,142.2 L938.3,140.7 L941.4,139.6 L943.6,138.4 L946.2,138.4 L948.3,137.1 L951.7,134.5 L949.3,133.7 L947.4,131.9 L945.7,128.5 L943.7,126.3 L943.1,123.3 L944.3,120.9 L944.0,118.2 L944.9,115.9 L945.2,113.4 L946.6,111.3 L947.5,109.2 L948.3,107.0 L947.7,109.6 L945.7,111.3 L943.5,113.4 L941.4,115.6 L938.0,117.3 L935.8,116.2 L933.5,116.1 L931.1,116.5 L929.1,115.3 L926.8,114.7 L924.5,113.8 L922.5,112.2 L919.9,111.5 L917.4,110.5 L914.5,109.2 L912.2,107.0 L910.8,105.2 L908.9,104.1 L907.1,102.7 L905.7,100.9 L903.5,100.1 L902.0,98.4 L899.9,96.6 L898.5,94.1 L897.7,91.7 L895.9,89.9"/>
<path d="M950.0,122.5 L951.9,120.9 L952.8,118.8 L953.4,116.5 L955.6,114.5 L957.3,112.2 L958.6,109.6 L960.6,107.9 L961.7,105.3 L963.7,103.6 L966.7,102.8 L969.7,101.9 L970.6,105.3 L968.1,106.8 L965.4,107.9 L964.4,110.6 L962.7,112.9 L960.3,114.7 L958.9,117.0 L957.2,119.0 L955.2,120.7 L951.7,123.3"/>
<path d="M977.5,103.6 L978.6,101.6 L979.2,99.3 L981.4,98.1 L982.6,95.9 L984.0,94.1"/>
<path d="M974.0,121.6 L977.5,119.9 L979.2,120.7 L975.7,122.5"/>
<path d="M847.0,198.8 L848.4,197.1 L850.5,195.9 L851.3,193.7 L853.0,191.4 L853.0,188.5 L855.6,187.7 L856.2,190.2 L858.2,192.0 L859.3,194.0 L859.9,196.3 L862.5,193.7 L862.3,191.3 L862.6,189.1 L863.3,186.8 L862.5,182.5 L865.1,180.8 L867.6,182.5 L869.4,184.4 L870.2,186.8 L870.3,189.5 L869.3,192.0 L866.8,195.4 L868.5,198.8 L871.1,197.1 L871.7,194.7 L872.6,192.4 L872.9,189.9 L872.7,187.4 L873.5,185.0 L873.6,182.5"/>
<path d="M847.0,198.8 L844.5,202.3 L844.5,204.7 L846.3,206.7 L846.2,209.1 L845.3,211.6 L844.2,214.1 L843.8,216.7 L843.6,219.4 L845.0,222.2 L847.0,224.6 L846.8,226.9 L847.0,229.2 L846.2,231.4 L845.1,233.4 L845.2,235.8 L843.8,237.7 L843.6,240.0 L841.7,242.0 L841.5,244.7 L840.2,246.9 L839.0,249.1 L836.9,250.8 L836.0,253.1 L835.0,255.5 L834.7,258.2 L833.3,260.6 L832.1,263.3 L830.3,265.5 L828.2,267.5 L826.0,268.7 L824.4,270.5 L823.4,273.1 L821.3,274.3 L819.1,276.1 L817.2,278.1 L815.9,280.6 L814.4,282.9 L812.9,284.8 L810.9,286.3 L809.3,288.1"/>
<path d="M873.6,182.5 L874.1,185.1 L874.1,187.7 L872.3,190.2 L872.7,192.8 L872.8,195.4 L873.9,197.7 L874.4,200.3 L876.2,202.3 L877.5,204.5 L877.9,207.1 L879.6,209.1 L880.0,211.5 L881.8,213.2 L882.6,215.4 L883.1,217.7 L884.0,220.5 L884.6,223.3 L884.8,226.3 L884.4,229.1 L884.6,232.1 L883.9,234.9 L882.8,237.5 L881.4,240.0 L880.2,242.9 L877.9,245.2 L876.4,247.2 L876.4,249.8 L875.4,252.0 L875.1,254.3 L874.6,256.6 L874.5,258.9 L871.9,258.2 L869.3,258.9 L865.9,260.6 L865.5,262.9 L864.1,265.0 L864.2,267.5 L864.5,270.3 L864.7,273.2 L865.1,276.1 L865.2,278.6 L866.2,281.2 L865.7,283.8 L866.3,286.3 L865.9,288.9"/>
<path d="M813.6,270.9 L813.6,268.1 L815.3,265.8 L817.0,263.4 L817.9,260.6 L819.6,262.3 L818.8,265.2 L817.0,267.5 L816.1,271.8 L813.6,270.9"/>
<path d="M783.5,288.9 L784.4,285.9 L785.3,282.9 L788.0,282.0 L790.4,280.4 L793.4,279.6 L796.4,278.6 L795.4,280.9 L793.8,282.9 L791.2,283.8 L788.7,284.6 L787.7,286.8 L787.0,288.9"/>
<path d="M835.0,164.5 L836.7,161.9 L838.5,162.5 L837.1,166.2 L835.0,164.5"/>
<path d="M809.3,289.0 L806.5,289.9 L804.1,291.6 L801.4,293.3 L798.1,293.8 L795.9,295.2 L793.8,296.7 L790.4,295.5 L788.7,293.3 L787.8,290.7 L787.5,289.0"/>
<path d="M783.5,289.0 L783.8,291.4 L782.9,293.7 L783.3,296.1 L783.2,298.4 L781.7,300.1 L780.0,301.6 L778.4,303.1 L777.5,305.3 L775.9,307.1 L774.0,308.6 L772.4,310.5 L771.5,312.7 L770.6,315.0 L769.8,317.3 L771.9,320.7 L769.8,322.2 L768.1,324.2 L765.5,325.1 L762.9,325.9 L760.4,326.4 L757.8,327.1 L756.5,324.4 L755.2,321.6 L752.3,320.6 L749.2,321.1 L746.9,321.2 L744.5,321.4 L742.3,322.5 L739.8,322.6 L737.9,324.6 L735.5,325.0 L732.6,325.2 L729.7,324.9 L726.9,325.9 L724.0,325.3 L721.2,326.5 L718.3,325.9 L715.7,326.3 L713.2,325.4 L710.6,326.6 L708.0,327.6 L706.8,329.8 L704.6,331.0 L702.6,333.1 L700.5,335.1 L697.7,336.2 L695.3,337.7 L692.9,339.2 L690.9,341.3 L688.7,342.6 L687.8,345.2 L685.5,346.2 L684.0,348.2"/>
<path d="M865.9,289.0 L864.0,291.4 L862.5,294.1 L862.2,296.5 L860.2,298.2 L859.2,300.3 L859.0,302.7 L859.2,305.1 L857.7,307.2 L858.2,309.6 L858.9,311.8 L859.4,314.2 L859.9,316.5 L860.9,319.5 L863.3,321.6 L861.0,321.9 L859.0,323.3 L858.1,325.4 L856.3,326.8 L854.8,328.5 L854.3,331.0 L853.9,333.6 L851.4,335.2 L848.8,336.2 L846.2,338.8 L844.5,337.1 L842.7,333.6 L843.1,330.9 L844.5,328.5 L845.9,326.1 L847.9,324.2 L846.2,322.5 L842.7,325.0 L841.1,327.0 L840.2,329.3 L839.3,333.6 L836.7,333.0 L835.0,331.0 L831.6,332.8 L829.0,335.3 L828.5,337.9 L828.2,340.5 L827.4,343.1 L826.4,345.6 L823.9,343.9 L822.6,341.5 L823.0,338.8 L821.3,336.2 L817.9,337.1 L816.4,339.8 L814.4,342.2 L813.0,344.7 L811.9,347.3 L809.3,346.8 L806.5,346.9 L804.1,345.6 L801.4,344.5 L798.5,344.6 L795.5,344.8 L791.3,345.6 L787.8,343.9 L787.3,341.0 L785.3,338.8 L783.5,336.7 L781.0,338.8 L781.2,341.5 L780.1,343.9 L782.1,345.8 L783.5,348.2 L787.0,350.8 L787.0,353.4 L783.5,355.1 L779.2,355.9 L777.6,358.3 L775.0,359.4 L773.2,361.7 L772.4,364.5 L771.4,367.3 L769.8,369.7 L768.6,372.2 L766.4,373.9 L764.2,373.2 L762.1,372.2 L758.7,369.7 L756.1,366.2 L755.4,363.3 L753.5,361.1 L752.6,356.8 L750.1,355.1 L749.7,351.9 L748.4,349.1 L746.0,348.1 L744.1,346.5 L741.4,346.6 L738.9,345.6 L736.4,345.8 L734.3,347.2 L732.1,348.2 L729.8,348.7 L728.0,350.6 L725.9,351.5 L723.5,351.6 L721.2,352.2 L719.2,353.5 L717.3,354.9 L714.9,355.1 L712.0,354.3 L709.2,354.8 L706.3,355.1 L703.8,354.1 L701.2,354.2 L699.9,356.4 L697.7,357.6 L694.8,358.9 L692.6,361.1 L689.9,361.4 L687.4,360.2 L684.0,361.1"/>
<path d="M749.2,354.2 L750.7,351.4 L750.9,348.2 L753.5,346.7 L756.1,345.3 L758.3,345.6 L760.4,346.5 L759.4,348.6 L758.7,350.8 L756.1,351.4 L754.4,353.4 L751.9,354.2 L749.2,354.2"/>
<path d="M768.1,338.8 L768.8,335.5 L770.7,332.8 L772.0,330.2 L773.2,327.6 L775.8,331.0 L773.2,334.5 L771.4,336.9 L768.9,338.8 L768.1,338.8"/>
<path d="M515.3,289.0 L512.7,291.6 L510.4,293.5 L507.6,294.1 L504.8,293.8 L502.4,292.4 L500.3,294.8 L497.3,295.9 L494.9,297.2 L492.1,297.6 L489.6,298.7 L487.0,299.3 L484.5,300.5 L481.8,301.0 L479.2,304.4 L478.0,306.9 L477.5,309.6 L475.5,310.8 L473.2,311.3 L469.8,313.0 L468.4,315.3 L467.4,317.9 L465.5,319.9 L463.7,321.5 L462.0,323.4 L459.5,324.2 L458.1,326.6 L456.1,328.5 L455.0,331.5 L452.6,333.6 L451.0,336.0 L450.1,338.8 L450.0,341.3 L450.1,343.9 L454.4,343.9 L456.5,345.3 L457.8,347.3 L460.1,348.5 L462.0,350.3 L464.7,350.8 L467.5,351.5 L469.8,353.4 L470.2,355.7 L471.5,357.6 L472.5,359.9 L473.2,362.2 L474.1,364.5 L474.2,366.8 L475.6,368.7 L476.0,370.9 L476.7,373.1 L477.5,375.5 L478.2,378.0 L480.1,380.0 L480.9,382.2 L480.7,384.7 L481.8,386.8 L481.9,389.5 L482.7,392.0 L484.7,393.9 L487.0,395.4 L489.2,397.0 L491.3,398.8 L493.0,402.3 L495.3,403.8 L497.3,405.7 L499.5,406.9 L500.7,409.1 L501.6,413.4 L499.0,416.0 L496.1,415.3 L493.8,413.4 L490.9,412.3 L488.7,410.0 L486.3,408.3 L483.5,407.4 L480.8,407.0 L478.4,405.7 L475.8,406.1 L473.2,405.4 L470.9,407.0 L468.1,407.4 L463.8,406.6 L462.5,404.0 L460.4,402.3 L458.4,401.0 L456.1,400.9 L453.8,400.8 L451.5,401.6 L449.2,401.4 L446.3,402.3 L443.2,402.3 L441.7,404.2 L439.8,405.7 L438.1,407.5 L436.3,409.1 L436.0,411.6 L434.7,413.7 L433.8,416.0 L432.3,418.0 L429.8,418.9 L428.1,420.6 L426.9,422.9 L424.7,424.5 L422.9,426.6 L420.0,427.4 L418.3,429.7 L416.3,431.3 L414.2,432.5 L412.3,434.3 L409.7,434.9 L407.7,436.3 L405.5,437.5 L403.3,438.7 L401.2,440.0 L399.3,442.1 L396.9,443.4 L395.3,445.8 L392.6,446.9 L391.1,448.6 L389.6,450.3 L387.4,451.2 L384.0,453.8"/>
<path d="M466.4,407.4 L469.0,407.7 L471.5,408.3 L474.4,407.1 L477.5,407.4 L480.9,408.0 L483.5,410.0 L485.9,410.5 L488.3,411.3 L490.4,412.6 L492.6,414.4 L494.9,416.0 L497.3,417.7 L498.7,419.7 L500.7,421.1 L500.9,423.8 L501.6,426.3 L501.6,428.9 L502.4,431.4 L499.6,431.7 L497.3,433.2 L495.0,433.9 L492.8,434.6 L490.4,434.9 L487.4,435.9 L485.3,438.3 L484.0,441.2 L481.8,443.5 L478.4,445.2 L475.9,444.4 L473.2,444.3 L470.6,445.4 L468.1,446.9"/>
<path d="M478.4,447.7 L480.1,449.5 L482.2,447.1 L485.3,446.0 L488.0,446.0 L490.4,444.8 L492.2,446.8 L494.7,447.7 L495.8,450.0 L497.3,452.0 L496.4,455.0 L496.4,458.0 L495.0,460.9 L494.7,464.0 L495.6,466.3 L495.2,468.6 L495.5,470.9 L495.0,473.2 L493.9,475.4 L493.8,477.8 L492.2,479.8 L491.0,482.1 L490.4,484.6 L489.0,486.7 L487.8,488.9"/>
<path d="M500.7,443.5 L502.9,442.2 L504.1,440.0 L506.8,439.5 L509.3,438.3 L512.0,437.8 L514.4,436.6 L517.9,434.9 L517.4,437.6 L516.1,440.0 L514.0,442.4 L511.0,443.5 L509.7,445.6 L507.6,446.9 L506.0,448.8 L504.1,450.3 L505.6,452.7 L505.8,455.5 L503.7,457.7 L502.4,460.6 L500.6,463.1 L499.0,465.8 L498.2,468.0 L497.6,470.3 L497.3,472.6 L496.4,474.8 L496.1,477.2 L495.5,479.5 L495.5,482.3 L493.8,484.6"/>
<path d="M389.1,457.2 L391.4,459.3 L394.3,460.6 L395.7,463.2 L397.7,465.2 L399.4,467.5 L400.2,470.1 L401.2,472.6 L399.2,475.1 L397.7,477.8 L396.6,480.8 L394.3,482.9 L392.3,484.4 L390.9,486.4 L389.6,483.9 L389.1,481.2 L387.9,479.1 L387.6,476.7 L387.4,474.3 L388.1,472.1 L387.5,469.7 L388.3,467.5 L387.8,465.0 L387.3,462.6 L385.7,460.6"/>
<path d="M463.8,424.6 L465.1,422.0 L466.4,419.4 L470.7,418.6 L472.1,420.6 L473.2,422.9 L473.3,425.4 L473.2,428.0 L469.8,430.6 L467.8,429.4 L465.5,428.9 L465.1,426.6 L463.8,424.6"/>
<path d="M423.5,383.4 L426.1,382.7 L428.6,381.7 L430.5,380.1 L431.5,377.7 L433.8,376.5 L434.4,374.2 L435.7,372.3 L437.2,370.5 L438.7,372.3 L440.8,373.1 L442.3,374.8 L443.2,378.2 L441.8,380.3 L440.6,382.5 L438.4,384.6 L435.5,385.1 L433.2,387.1 L430.3,387.7 L427.7,387.6 L425.2,386.8 L423.5,383.4"/>
<path d="M448.4,380.8 L450.9,380.0 L452.0,382.7 L453.5,385.1 L453.2,387.4 L453.2,389.7 L453.5,392.0 L450.9,390.3 L449.7,387.8 L449.2,385.1 L448.4,380.8"/>
<path d="M414.0,416.0 L417.5,413.4 L420.9,415.1 L423.0,416.0 L425.2,416.9 L423.5,419.4 L420.9,419.1 L418.3,418.6 L416.1,417.3 L414.0,416.0"/>
<path d="M439.8,464.0 L441.0,461.9 L443.2,460.6 L445.8,458.0 L447.5,460.3 L450.1,461.5 L447.7,461.1 L445.8,459.8 L444.1,456.3"/>
<path d="M583.1,376.5 L585.7,376.1 L588.0,374.9 L589.9,373.1 L592.1,372.0 L594.5,372.5 L596.8,372.2 L597.7,374.8 L595.2,375.6 L593.4,377.4 L590.8,377.5 L588.8,379.2 L586.5,380.0 L583.1,379.1 L583.1,376.5"/>
<path d="M639.7,357.6 L640.2,354.9 L641.4,352.5 L641.8,349.8 L643.1,347.3 L645.7,345.6 L645.0,348.2 L645.7,350.8 L644.9,353.6 L643.1,355.9 L639.7,357.6"/>
<path d="M639.7,488.9 L641.8,488.2 L643.6,486.7 L645.9,486.4 L648.2,486.2 L650.0,484.6 L652.4,484.6 L654.4,486.3 L656.9,486.4"/>
<path d="M495.5,489.0 L493.4,490.3 L490.9,491.0 L488.9,492.6 L487.0,494.1 L485.3,496.2 L482.5,497.1 L481.0,499.3 L479.8,501.6 L479.4,504.2 L477.5,506.2 L476.7,508.4 L474.7,509.6 L473.2,511.3 L471.6,513.6 L470.1,516.1 L468.1,518.2 L466.9,521.1 L464.7,523.3 L463.8,525.7 L462.7,528.0 L461.2,530.2 L460.1,532.3 L460.9,535.0 L459.5,537.1 L458.5,539.2 L457.8,541.5 L457.8,543.9 L456.5,546.1 L453.8,546.8 L452.6,549.1 L450.7,550.5 L448.7,552.0 L447.5,554.2 L445.4,556.2 L443.1,557.8 L440.6,559.4 L438.5,561.2 L435.5,562.1 L433.8,564.5 L431.4,566.1 L429.3,568.1 L426.9,569.7 L425.3,571.5 L423.7,573.4 L422.3,575.4 L420.5,577.0 L418.3,578.2 L416.2,579.6 L415.1,581.9 L412.7,582.9 L411.5,585.1 L409.4,586.6 L407.1,587.7 L404.6,588.5 L402.0,590.2 L399.4,592.0 L399.4,594.4 L398.5,596.6 L397.7,598.8 L394.9,599.0 L392.6,600.5 L389.6,601.7 L387.4,604.0 L384.0,605.7"/>
<path d="M487.0,489.0 L484.8,491.0 L483.4,493.4 L481.8,495.9 L479.5,497.7 L477.8,500.0 L476.7,502.7 L476.0,505.0 L475.2,507.2 L475.0,509.6 L473.8,511.9 L471.2,512.7 L469.8,514.7 L468.7,517.1 L467.1,519.1 L466.4,521.6 L465.0,523.8 L464.4,526.3 L462.9,528.5 L464.0,530.7 L462.8,533.1 L463.8,535.3 L463.1,538.2 L461.2,540.5 L460.1,542.8 L459.2,545.2 L457.8,547.3 L456.4,550.1 L454.4,552.5 L451.6,553.9 L449.2,555.9 L446.4,557.0 L444.9,559.7 L442.3,561.1 L439.9,562.6 L438.0,564.8 L435.5,566.2 L433.1,567.9 L431.0,569.8 L428.6,571.4 L427.3,573.5 L425.6,575.2 L423.5,576.5 L421.5,578.6 L418.5,579.4 L416.6,581.7 L414.3,583.4 L412.3,585.5 L409.7,586.8 L407.0,588.0 L404.7,589.6 L402.9,592.0"/>
<path d="M490.4,490.7 L488.8,493.1 L487.5,495.7 L485.3,497.6 L486.3,499.7 L487.1,502.0 L487.0,504.4 L484.8,505.8 L482.7,507.4 L480.1,507.9 L478.7,510.3 L477.0,512.4 L474.9,514.2 L473.2,516.5 L472.0,518.6 L471.7,520.9 L471.5,523.3 L470.8,525.5 L469.9,527.7 L468.9,529.7 L468.1,531.9 L467.4,534.1 L466.6,536.3 L466.2,538.6 L464.7,540.5 L464.5,542.9 L462.7,544.9 L462.9,547.3"/>
<path d="M495.5,552.5 L498.5,553.7 L500.7,555.9 L503.3,558.5 L502.4,560.6 L501.6,562.8 L501.1,565.1 L500.4,567.3 L500.7,569.7 L500.3,572.1 L499.3,574.4 L498.1,576.5 L498.0,578.9 L497.1,581.1 L496.4,583.4 L495.9,585.6 L494.4,587.5 L493.9,589.7 L493.8,592.0 L492.6,594.1 L493.5,596.7 L492.1,598.8 L491.0,601.6 L488.4,603.2 L487.0,605.7 L484.8,606.9 L483.5,609.1 L483.0,611.4 L482.2,613.7 L481.8,616.0 L482.7,618.3 L482.0,620.6 L481.8,622.9 L479.2,622.9 L479.4,620.4 L478.6,618.1 L477.5,616.0 L476.6,613.9 L475.3,612.0 L473.2,610.8 L471.4,608.8 L469.8,606.6 L468.9,604.0 L467.8,601.8 L467.8,599.4 L467.2,597.1 L467.8,594.3 L468.6,591.5 L468.1,588.5 L469.3,585.6 L469.8,582.5 L471.2,580.7 L472.5,578.7 L473.2,576.5 L474.6,574.2 L476.2,572.0 L477.5,569.7 L478.6,566.7 L481.0,564.5 L482.7,562.2 L483.5,559.4 L484.9,557.3 L487.0,555.9 L489.7,556.2 L492.1,555.1 L495.5,552.5"/>
<path d="M455.2,588.5 L456.9,585.1 L459.5,587.7 L458.4,589.7 L457.8,592.0 L459.0,594.0 L459.5,596.3 L456.9,596.9 L454.4,596.3 L453.1,594.3 L452.6,592.0 L455.2,588.5"/>
<path d="M612.2,535.3 L614.2,532.9 L615.7,530.2 L617.6,528.7 L618.6,526.3 L620.8,525.0 L622.0,522.4 L624.3,520.7 L622.5,523.3 L620.8,525.9 L619.1,528.5 L617.3,530.1 L615.8,532.0 L614.0,533.6"/>
<path d="M629.4,507.9 L631.1,507.0"/>
<path d="M634.6,501.0 L636.3,498.4 L638.0,500.2 L635.4,501.9"/>
<path d="M639.7,494.1 L641.1,492.1 L643.1,490.7 L644.9,489.0"/>
<path d="M535.0,574.8 L536.9,573.2 L538.5,571.4 L540.9,570.1 L543.6,570.5 L545.6,568.9 L547.9,567.9 L546.7,570.5 L545.3,573.1 L542.4,573.7 L540.2,575.7"/>
<path d="M500.7,640.0 L502.4,643.5 L501.3,645.9 L500.7,648.6 L502.4,652.0 L501.0,653.9 L500.7,656.3 L504.1,653.8"/>
<path d="M384.0,604.0 L381.2,604.3 L378.5,605.0 L375.7,604.9 L373.6,605.9 L371.0,605.3 L368.9,606.6 L366.5,606.8 L364.4,608.1 L362.0,608.3 L360.1,610.2 L357.4,610.6 L355.2,611.7 L352.4,613.2 L350.0,615.2 L347.5,617.0 L344.9,618.6 L342.8,620.1 L340.2,620.6 L338.0,622.0 L335.4,622.5 L333.6,624.7 L331.1,625.5 L329.1,627.1 L326.6,627.4 L324.3,628.0 L321.9,627.6 L319.8,626.6 L317.4,626.3 L315.2,627.1 L312.8,626.4 L310.5,627.2 L308.1,627.7 L306.0,628.9 L303.7,629.8 L301.5,630.8 L298.9,630.1 L296.8,631.5 L294.6,632.6 L292.0,632.7 L289.9,634.0 L287.6,636.1 L284.8,637.5 L283.4,639.5 L281.4,640.9 L280.4,643.1 L280.6,645.6 L279.6,647.8 L278.3,649.9 L278.5,652.4 L277.9,654.6 L274.5,656.4 L272.3,654.1 L271.1,651.2 L270.0,649.0 L269.8,646.7 L269.3,644.3 L270.2,641.5 L271.2,638.8 L271.1,635.8 L272.4,633.6 L274.5,632.3 L271.8,631.2 L269.3,629.8 L265.9,628.0 L263.6,629.8 L260.8,630.6 L258.4,629.0 L255.6,628.9 L252.7,627.7 L250.5,625.5 L247.0,623.8 L244.9,626.1 L241.9,627.2 L239.6,629.1 L236.7,629.8 L234.2,631.2 L231.6,632.3 L228.6,633.5 L226.4,635.8 L224.3,637.0 L222.7,638.9 L221.3,640.9 L218.5,641.0 L216.1,642.6 L213.3,642.8 L211.0,644.3 L210.7,646.7 L210.4,649.1 L209.3,651.2 L208.0,653.3 L207.7,655.7 L207.6,658.1"/>
<path d="M187.0,635.8 L189.9,636.3 L192.1,638.3 L194.6,639.9 L197.3,640.9 L198.6,643.1 L199.7,645.4 L200.7,647.8 L202.7,650.2 L204.1,652.9 L205.8,654.6 L207.2,656.5 L207.6,658.9"/>
<path d="M276.2,592.0 L277.9,589.4 L280.9,589.6 L283.7,590.3 L286.5,591.1 L289.1,591.9 L291.7,590.5 L294.2,591.9 L296.8,591.1 L299.8,590.6 L302.8,591.1 L304.3,593.6 L305.4,596.3 L308.1,597.4 L311.0,598.0 L314.0,598.0 L316.5,597.5 L319.0,596.4 L321.7,596.7 L324.3,596.3 L326.2,598.7 L327.7,601.4 L328.2,604.0 L330.4,605.8 L331.1,608.3 L332.5,610.5 L332.8,613.2 L334.6,615.2 L336.6,617.9 L337.1,621.2"/>
<path d="M339.7,599.7 L340.4,602.6 L340.3,605.5 L341.4,608.3 L341.3,611.2 L342.8,613.9 L342.3,616.9 L344.3,619.1 L344.9,622.0"/>
<path d="M348.3,613.5 L350.2,611.6 L353.2,611.8 L355.2,610.0 L357.3,608.5 L359.9,608.1 L362.0,606.6 L359.7,608.8 L358.6,611.7 L356.5,613.7 L354.2,615.5 L351.7,616.9 L348.7,618.0 L346.6,620.3"/>
<path d="M211.0,642.6 L213.3,642.5 L215.5,641.7 L217.9,641.8 L220.3,641.3 L222.3,639.8 L224.7,639.2 L227.1,637.2 L229.9,635.8 L229.8,638.2 L227.8,639.9 L226.6,641.9 L226.4,644.3 L224.1,644.7 L221.7,644.8 L219.6,646.1 L217.3,646.9 L215.0,646.5 L212.7,646.1"/>
<path d="M312.2,473.6 L314.8,474.8 L317.4,476.2 L319.6,477.2 L321.9,477.5 L324.3,477.0 L326.8,476.0 L329.4,475.3 L329.9,472.2 L331.1,469.3 L331.9,466.7 L332.8,464.1"/>
<path d="M207.6,659.0 L205.3,659.9 L202.7,660.0 L200.7,661.6 L198.9,664.1 L196.4,665.9 L195.3,668.0 L194.9,670.3 L194.7,672.7 L193.7,675.2 L193.8,677.9 L192.5,679.9 L192.1,682.2 L193.1,684.3 L194.7,686.0 L195.5,688.2 L196.7,690.7 L197.3,693.3 L199.1,694.9 L200.4,697.1 L202.4,698.5 L205.0,699.6 L206.7,701.9 L207.6,704.4 L207.6,707.1 L208.9,709.9 L211.0,712.2 L213.0,713.6 L215.0,715.1 L216.1,717.3 L218.5,719.5 L219.6,722.5 L221.2,724.3 L223.2,725.7 L224.7,727.6 L226.8,730.0 L229.9,731.1 L231.2,733.0 L232.8,734.6 L235.0,735.4 L237.0,736.5 L238.9,737.7 L240.2,739.7 L242.4,740.9 L243.6,743.1 L245.3,744.8 L246.7,747.6 L248.8,750.0 L250.2,751.6 L252.0,753.1 L253.0,755.1 L253.7,757.4 L254.0,759.7 L254.8,762.0 L255.3,764.4 L256.1,766.7 L257.3,768.8 L257.3,771.3 L258.2,773.5 L259.0,775.7 L260.2,777.8 L259.6,780.4 L260.8,782.6 L261.4,784.8 L261.2,787.2 L261.6,789.4 L262.1,791.7 L261.8,794.1 L262.5,796.3 L263.3,798.5 L263.5,800.8 L263.3,803.2 L263.2,805.5 L262.8,807.9 L261.6,810.0 L260.7,812.2 L260.9,814.6 L260.8,816.9 L260.5,819.2 L259.8,821.5 L259.0,823.8 L257.2,825.7 L256.7,828.3 L255.6,830.6 L254.2,832.7 L251.8,833.7 L250.5,835.8 L248.1,836.7 L245.5,837.3 L243.6,839.2 L241.6,840.9 L239.0,841.5 L236.7,842.6 L234.2,843.3 L231.9,844.4 L229.9,846.1 L227.3,846.6 L225.6,849.0 L223.0,849.5 L220.5,850.7 L217.9,851.2 L216.1,849.2 L215.1,846.9 L214.4,844.3 L214.8,841.6 L213.6,839.2 L213.6,841.8 L213.3,844.4 L214.4,846.9 L214.4,849.5 L212.3,850.8 L211.0,852.9 L208.7,853.3 L206.5,853.9 L204.1,853.8 L201.9,853.0 L199.6,852.5 L197.3,852.9 L194.7,852.4 L192.8,850.5 L190.4,849.5 L188.8,847.6 L186.6,846.4 L185.3,844.3 L183.4,841.9 L181.8,839.2 L180.7,837.1 L180.2,834.7 L180.1,832.3 L179.1,830.1 L179.1,827.7 L178.4,825.5"/>
<path d="M143.2,700.2 L144.8,698.3 L145.7,695.9 L147.5,694.2 L150.1,693.4 L152.6,694.2 L155.0,694.5 L157.1,695.6 L159.5,695.9 L161.2,697.5 L162.4,699.6 L163.8,701.4 L164.7,703.6 L166.0,705.7 L168.0,707.1 L169.8,708.8 L172.0,710.0 L173.7,711.7 L175.0,713.9 L175.6,716.5 L175.8,719.1 L175.6,721.5 L175.2,723.9 L176.0,726.3 L175.7,728.7 L175.0,731.1 L176.4,733.6 L178.5,735.6 L180.1,737.9 L182.6,739.4 L184.9,741.1 L187.0,743.1 L187.8,745.3 L190.1,746.3 L191.3,748.2 L190.9,750.5 L190.9,752.8 L190.4,755.1 L187.9,756.1 L185.3,756.8 L187.9,757.0 L190.4,756.0 L191.6,758.0 L194.0,758.6 L195.5,760.3 L196.6,762.4 L196.3,764.9 L197.3,767.1 L197.6,769.7 L197.7,772.3 L195.9,774.8 L196.4,777.4 L197.0,780.0 L196.7,782.7 L197.9,785.1 L198.1,787.7 L197.8,790.6 L198.8,793.4 L199.0,796.3 L199.6,798.9 L199.8,801.4 L198.9,804.0 L199.0,806.6 L198.7,809.2 L198.3,811.7 L199.0,814.3 L196.9,815.6 L194.4,815.3 L192.1,816.0 L191.0,818.3 L189.5,820.3 L187.2,821.2 L185.0,822.6 L182.6,823.2 L180.1,823.8 L179.2,826.3 L178.4,828.9 L178.6,831.7 L180.1,834.0 L181.1,836.3 L180.7,838.6 L181.0,840.9 L181.8,843.7 L183.5,846.1 L184.7,848.3 L187.3,849.1 L188.7,851.2 L191.3,851.8 L192.9,854.2 L195.5,854.6"/>
<path d="M179.2,830.6 L179.7,833.3 L181.6,835.2 L182.7,837.5 L184.8,839.4 L184.9,842.4 L187.0,844.3 L188.8,845.9 L189.9,848.3 L192.1,849.5 L193.7,851.4 L195.2,853.3 L197.3,854.6 L199.7,854.7 L201.7,856.3 L204.1,856.4"/>
<path d="M154.4,796.3 L157.8,796.3 L159.8,797.7 L161.3,799.6 L162.9,801.4 L165.2,803.6 L168.1,804.9 L169.4,807.5 L172.0,809.1 L173.2,811.7 L174.6,814.2 L175.0,816.9 L172.4,813.5 L170.3,812.5 L168.4,811.1 L166.4,810.0 L163.7,808.5 L161.2,806.6 L158.3,805.4 L156.1,803.2 L154.4,799.7 L154.4,796.3"/>
<path d="M84.0,792.9 L86.4,791.6 L89.1,791.1 L91.5,791.2 L93.8,791.2 L96.0,790.3 L98.5,790.1 L100.6,791.5 L102.9,792.0 L102.0,794.3 L102.8,796.9 L101.0,799.0 L101.2,801.4 L102.1,804.2 L101.6,807.2 L102.0,810.0 L104.6,809.5 L107.2,809.1 L109.7,808.3 L112.0,807.4 L114.3,807.0 L116.6,806.6 L118.8,808.4 L121.3,809.9 L123.5,811.7 L125.0,813.6 L127.0,815.1 L128.6,816.9 L129.9,819.1 L131.6,821.1 L132.1,823.8 L133.6,826.4 L135.5,828.9 L137.2,830.6 L139.2,832.0 L140.6,834.0 L141.4,836.5 L142.5,838.8 L144.1,840.9 L145.8,842.6 L147.5,844.3 L150.4,845.6 L152.6,847.8 L155.2,849.5 L157.8,851.2 L160.4,851.8 L162.7,852.9 L164.7,854.6 L167.3,856.3 L169.8,858.1"/>
<path d="M126.9,813.5 L128.4,815.5 L128.7,818.0 L129.5,820.3 L130.3,822.5 L131.9,824.3 L131.8,826.8 L132.9,828.9"/>
<path d="M149.2,839.2 L152.6,837.5 L153.9,839.6 L153.4,842.2 L154.4,844.3 L150.9,846.1"/>
<path d="M260.8,665.9 L263.1,665.4 L265.1,664.2 L266.9,662.6 L269.3,662.4 L272.2,661.9 L275.0,661.1 L277.9,660.7 L280.8,661.5 L283.6,660.1 L286.5,660.7 L289.0,661.7 L291.7,661.6 L291.7,664.4 L293.0,666.8 L294.2,669.3 L291.7,672.7 L289.5,675.0 L288.2,677.9 L287.9,680.3 L285.7,682.2 L285.6,684.7 L284.4,687.3 L283.1,689.9 L280.4,690.7 L278.1,692.2 L276.2,694.2 L274.3,695.8 L271.7,695.9 L269.4,696.7 L267.6,698.5 L265.2,698.6 L263.0,697.6 L260.8,696.8 L258.7,695.2 L255.9,695.0 L253.9,693.3 L252.2,691.1 L249.6,689.9 L248.9,687.6 L249.6,685.2 L248.8,683.0 L248.1,680.7 L248.8,678.4 L248.8,676.2 L251.7,675.0 L253.9,672.7 L255.3,670.7 L257.3,669.3 L258.8,667.3 L260.8,665.9"/>
<path d="M204.1,859.0 L203.5,861.9 L203.3,864.8 L202.4,867.6 L200.7,871.0 L198.7,872.6 L196.3,873.2 L193.8,873.6 L191.5,875.4 L188.7,876.2 L186.7,878.4 L186.1,881.3 L183.8,882.8 L181.8,884.7 L179.0,885.0 L176.7,886.5 L174.1,885.6 L174.4,882.4 L175.8,879.6 L176.3,877.3 L175.2,875.0 L175.8,872.7 L176.2,870.4 L176.6,868.2 L176.7,865.9 L177.5,862.4 L180.1,859.0"/>
<path d="M195.5,859.0 L197.4,860.5 L198.5,862.9 L200.7,864.1 L202.4,865.7 L204.0,867.1 L205.8,868.4 L208.1,866.9 L208.8,864.0 L211.0,862.4 L212.7,859.0"/>
<path d="M85.7,888.2 L87.4,889.9 L87.2,892.4 L88.4,894.5 L89.1,896.8 L89.9,899.6 L89.8,902.6 L90.9,905.3 L92.4,907.4 L92.4,910.3 L94.3,912.2 L95.9,914.0 L97.9,915.5 L99.4,917.3 L101.8,919.0 L104.6,919.9 L106.9,919.8 L109.2,919.4 L111.5,919.9 L112.9,921.7 L115.4,922.2 L116.6,924.2 L117.9,926.3 L120.3,927.3 L121.8,929.4 L123.9,931.0 L125.9,932.9 L128.6,933.7 L130.2,935.2 L131.9,936.7 L133.8,937.9 L135.7,939.4 L137.8,940.8 L138.9,943.1 L141.2,944.2 L142.8,946.1 L144.1,948.2 L145.0,950.6 L146.5,952.8 L147.5,955.1 L148.3,957.4 L148.6,959.9 L150.1,962.0 L150.7,964.8 L150.5,967.7 L150.1,970.5 L149.2,973.4 L149.7,976.4 L148.4,979.1 L149.5,981.9 L149.2,984.8 L149.2,987.7 L150.4,990.4 L150.6,993.4 L150.9,996.3 L153.0,998.6 L154.4,1001.4 L156.0,1003.3 L157.7,1005.0 L159.5,1006.6 L161.1,1008.7 L161.6,1011.3 L162.9,1013.5 L163.6,1015.7 L164.7,1017.9 L164.7,1020.3 L162.9,1023.8 L160.2,1023.4 L157.8,1024.6 L155.2,1025.0 L152.6,1024.6 L149.2,1022.0"/>
<path d="M84.0,925.9 L85.7,927.6 L87.4,929.7 L88.6,931.9 L89.1,934.5 L89.5,936.9 L89.7,939.2 L90.9,941.4 L90.4,943.7 L91.0,946.0 L90.9,948.2 L91.8,950.4 L92.8,952.6 L92.6,955.1 L93.2,957.5 L94.2,959.7 L95.2,962.0 L95.7,964.2 L95.5,966.6 L96.0,968.8 L97.0,971.4 L97.7,974.0 L98.8,977.0 L101.2,979.1 L102.5,981.9 L104.6,984.3 L106.4,985.7 L106.9,988.2 L108.9,989.4 L110.1,991.9 L109.7,994.6 L111.4,996.3 L113.2,998.0 L115.6,999.6 L118.0,1001.1 L120.0,1003.2 L122.8,1004.3 L124.3,1007.0 L126.9,1008.3 L129.6,1008.7 L131.4,1010.7 L133.8,1011.7 L135.7,1013.6 L138.6,1013.5 L140.6,1015.2 L143.5,1016.5 L145.8,1018.6 L147.4,1020.4 L149.2,1022.0"/>
<path d="M84.0,999.7 L87.4,1001.4 L89.1,1003.2 L90.9,1004.9 L92.4,1006.8 L93.9,1008.7 L96.0,1010.0 L98.4,1008.6 L101.2,1008.3 L103.9,1009.8 L106.3,1011.7 L109.0,1012.3 L111.5,1013.5 L114.5,1014.5 L116.6,1016.9 L118.8,1019.2 L121.8,1020.3 L123.1,1022.4 L125.2,1023.8 L126.6,1025.7 L128.6,1027.2 L131.7,1028.2 L133.8,1030.6 L136.0,1032.8 L138.9,1034.0 L141.4,1035.3 L144.1,1035.8 L146.7,1036.6 L149.2,1037.5 L150.6,1039.5 L152.6,1040.9 L153.9,1043.2 L155.4,1045.3 L156.1,1047.8 L157.8,1051.7"/>
<path d="M123.5,1021.2 L126.2,1020.9 L128.6,1022.0 L129.6,1024.2 L130.5,1026.4 L130.3,1028.9 L128.8,1030.8 L126.9,1032.3 L128.3,1035.1 L130.3,1037.5 L132.8,1038.7 L135.5,1039.2 L138.2,1038.9 L140.6,1037.5 L143.0,1039.5 L145.8,1040.9 L143.9,1042.3 L141.6,1042.9 L139.7,1044.1 L137.3,1044.6 L135.5,1046.1"/>
<path d="M147.5,1028.9 L150.1,1029.8 L152.6,1030.6 L154.7,1033.0 L156.1,1035.8 L158.0,1033.3 L159.5,1030.6 L162.3,1030.5 L164.7,1028.9 L167.4,1029.3 L169.8,1030.6 L171.1,1032.8 L173.2,1034.0 L176.7,1032.3 L176.3,1035.0 L174.7,1037.1 L173.2,1039.2 L171.8,1041.2 L169.5,1042.3 L168.1,1044.3 L168.2,1047.2 L169.8,1049.5 L173.2,1051.7"/>
<path d="M109.7,1013.5 L113.2,1010.9 L115.2,1012.1 L117.5,1012.6 L117.5,1016.9 L114.0,1019.5 L110.6,1017.7 L109.7,1013.5"/>
<path d="M255.6,1051.7 L257.3,1047.8 L255.9,1045.6 L255.6,1042.9 L253.9,1040.9 L253.6,1038.6 L253.5,1036.3 L253.9,1034.0 L255.1,1031.9 L255.3,1029.5 L255.6,1027.2 L256.5,1025.0 L257.0,1022.7 L257.3,1020.3 L259.7,1018.8 L260.7,1016.3 L262.5,1014.3 L265.2,1014.0 L267.6,1012.6 L269.1,1014.3 L270.7,1015.9 L272.8,1016.9 L275.1,1017.4 L277.3,1018.4 L279.6,1018.6 L281.9,1019.6 L284.3,1020.0 L286.5,1021.2 L288.9,1021.3 L291.0,1022.5 L293.4,1022.9 L296.2,1023.1 L298.5,1024.6 L298.3,1021.4 L296.8,1018.6 L296.8,1015.6 L297.2,1012.7 L298.5,1010.0 L298.4,1007.6 L300.4,1005.6 L300.2,1003.2 L300.8,1000.9 L302.0,998.9 L304.3,997.0 L307.1,996.3 L309.8,994.9 L312.7,994.4 L315.7,994.6 L318.6,994.3 L321.4,993.7 L324.3,992.9 L326.6,992.6 L328.9,992.1 L331.1,991.1 L332.3,988.4 L334.7,986.7 L336.3,984.3 L337.8,982.4 L340.1,981.2 L341.4,979.1 L343.5,977.8 L345.3,976.2 L346.6,974.0 L347.7,971.0 L350.0,968.8 L351.5,966.5 L351.7,963.7 L354.2,963.8 L356.5,963.3 L358.6,962.0 L360.6,960.2 L362.9,959.2 L365.4,958.5 L367.7,956.3 L370.6,955.1 L372.8,953.1 L375.7,952.5 L377.8,951.6 L379.5,950.1 L380.9,948.2 L382.6,946.7 L384.0,944.8"/>
<path d="M372.3,953.4 L374.4,952.1 L375.7,950.0 L378.4,949.3 L380.9,948.2 L380.7,950.6 L380.4,953.0 L379.2,955.1 L377.0,957.4 L374.0,958.5 L373.6,955.8 L372.3,953.4"/>
<path d="M235.0,975.7 L236.3,973.2 L238.5,971.4 L241.9,973.1 L243.4,975.1 L244.5,977.4 L242.8,979.6 L241.0,981.7 L237.6,981.7 L235.6,979.0 L235.0,975.7"/>
<path d="M192.1,992.9 L194.6,991.6 L197.3,991.1 L199.6,989.1 L202.4,987.7 L204.9,988.9 L207.6,989.4 L206.9,992.1 L205.8,994.6 L204.3,996.5 L202.4,998.0 L200.3,996.7 L197.8,996.9 L195.5,996.3 L194.3,994.2 L192.1,992.9"/>
<path d="M476.7,691.6 L479.3,690.9 L481.8,689.9 L484.5,689.5 L487.0,690.7 L489.3,691.7 L491.6,692.9 L493.8,694.1 L496.0,695.4 L498.5,695.6 L500.7,696.7 L504.1,695.9 L505.7,693.4 L506.7,690.7 L508.4,692.5 L510.1,694.1 L510.3,696.5 L509.0,698.6 L509.3,701.0 L509.1,703.8 L507.6,706.2 L508.2,708.7 L510.4,710.5 L511.0,713.0 L512.6,715.0 L513.2,717.4 L513.6,719.9 L512.5,721.9 L511.5,723.9 L512.4,726.6 L511.0,728.5 L509.9,730.8 L508.7,733.1 L507.6,735.3 L505.5,736.7 L504.5,739.1 L502.4,740.5 L499.8,741.4 L497.3,742.2 L496.2,744.9 L494.7,747.3 L493.3,749.4 L493.4,752.1 L492.1,754.2 L492.0,756.7 L493.6,758.7 L493.8,761.1 L495.4,763.1 L495.8,765.8 L497.3,767.9 L497.8,770.2 L499.1,772.4 L499.0,774.8 L500.5,776.7 L502.4,778.2 L505.2,778.4 L507.6,780.0 L509.6,778.6 L511.0,776.5 L513.7,776.0 L516.1,774.8 L518.9,774.4 L521.3,773.1 L521.9,775.7 L523.0,778.2 L526.4,780.0 L529.9,781.7 L532.5,782.3 L535.0,783.4 L537.6,782.8 L540.2,782.5 L543.6,785.1 L547.0,782.5 L549.6,785.1 L549.4,787.7 L548.8,790.3 L545.3,790.3 L541.9,787.7 L539.2,787.5 L536.7,788.5 L535.5,790.8 L533.3,792.0 L529.9,793.7 L528.6,791.5 L526.4,790.3 L524.2,789.1 L523.0,786.8 L519.6,785.1 L516.1,785.1 L512.7,785.1 L511.0,788.5 L507.6,786.8 L504.8,786.4 L502.4,785.1 L499.7,784.6 L497.3,783.4 L495.1,784.6 L493.8,786.8 L490.4,788.5 L487.0,790.3 L483.5,788.5 L480.1,786.8 L477.5,783.4 L477.1,780.8 L476.7,778.2 L475.0,774.8 L471.5,773.1 L469.6,770.6 L468.1,767.9 L467.4,765.1 L465.5,762.8 L464.6,760.3 L464.7,757.6 L464.3,755.4 L464.1,753.1 L463.8,750.8 L463.4,748.1 L462.1,745.6 L462.2,743.3 L461.8,741.0 L461.2,738.8 L462.3,736.5 L463.8,734.5 L466.4,734.5 L467.9,736.5 L468.9,738.8 L471.5,740.5 L473.2,737.1 L472.4,734.8 L473.2,732.4 L472.4,730.2 L472.9,727.9 L473.4,725.7 L473.2,723.3 L472.5,720.8 L472.7,718.2 L473.1,715.6 L472.4,713.0 L472.9,710.5 L472.6,707.8 L473.6,705.3 L474.1,702.7 L475.0,700.5 L474.2,698.1 L475.0,695.9 L475.3,693.5 L476.7,691.6"/>
<path d="M476.7,766.2 L479.3,766.3 L481.8,767.1 L483.3,769.3 L484.8,771.5 L487.0,773.1 L489.9,774.3 L492.1,776.5 L488.7,778.2 L485.8,777.5 L483.5,775.7 L481.5,774.6 L479.9,773.0 L478.4,771.4 L477.6,768.8 L476.7,766.2"/>
<path d="M500.7,761.1 L504.1,761.9 L506.3,763.7 L507.6,766.2 L506.1,768.1 L504.1,769.7 L501.6,766.2 L500.6,763.7 L500.7,761.1"/>
<path d="M471.5,792.0 L474.1,792.8 L476.7,792.0 L479.1,791.8 L481.1,790.2 L483.5,790.3 L485.9,791.9 L488.7,792.0 L491.6,793.1 L493.8,795.4 L494.0,797.7 L493.0,800.0 L493.8,802.3 L492.8,804.4 L492.3,806.7 L492.1,809.1 L490.5,811.8 L488.7,814.3 L485.3,816.0 L483.6,813.9 L483.2,811.3 L481.8,809.1 L480.1,807.1 L479.1,804.8 L478.4,802.3 L477.1,800.1 L475.4,798.0 L475.0,795.4 L473.1,793.8 L471.5,792.0"/>
<path d="M413.2,888.1 L415.2,886.7 L416.8,884.9 L418.3,882.9 L420.0,881.2 L421.9,879.7 L423.4,877.7 L425.2,876.1 L426.5,873.9 L428.7,872.8 L430.2,870.8 L432.1,869.2 L434.1,867.2 L436.0,865.0 L437.2,862.3 L438.8,860.0 L440.7,857.8 L442.3,855.5 L444.4,854.0 L445.7,851.9 L447.5,850.3 L449.8,848.2 L452.6,846.9 L455.4,845.5 L457.8,843.5 L460.0,841.2 L461.2,838.3 L462.8,836.2 L463.8,833.9 L464.7,831.4 L466.1,829.1 L466.4,826.3 L467.8,824.1 L468.9,821.8 L469.8,819.4 L468.1,816.0 L464.7,816.0 L463.9,818.6 L462.9,821.1 L461.5,823.9 L459.5,826.3 L457.6,828.7 L456.1,831.4 L454.9,834.4 L452.6,836.6 L451.6,838.9 L449.9,841.0 L449.2,843.5 L447.2,845.5 L445.6,847.9 L444.1,850.3 L442.7,852.9 L440.7,855.0 L438.9,857.2 L437.3,859.5 L435.3,861.6 L433.8,864.0 L432.2,865.9 L430.1,867.3 L428.1,868.7 L426.9,870.9 L425.6,873.0 L423.3,874.2 L421.4,875.7 L420.0,877.8 L418.5,880.2 L416.6,882.4 L414.9,884.6 L413.2,888.1"/>
<path d="M502.4,809.1 L505.2,809.0 L507.6,807.4 L510.3,808.5 L512.1,810.9 L514.4,812.6 L516.1,814.6 L516.3,817.4 L517.9,819.4 L519.0,822.2 L521.3,824.0 L523.0,826.3 L525.2,827.5 L526.4,829.7 L525.5,832.3 L524.7,834.9 L522.1,836.5 L519.6,838.3 L516.8,839.7 L514.4,841.7 L512.7,843.4 L510.8,845.0 L509.3,846.9 L506.4,848.1 L504.1,850.3 L503.6,848.0 L502.8,845.8 L502.4,843.5 L503.5,840.7 L502.5,837.7 L503.3,834.9 L503.3,832.0 L502.5,829.2 L502.4,826.3 L502.3,823.3 L500.6,820.7 L500.7,817.7 L502.1,815.0 L501.6,811.9 L502.4,809.1"/>
<path d="M524.7,836.6 L526.9,834.2 L529.9,833.2 L533.3,834.9 L536.1,836.3 L538.5,838.3 L539.5,840.8 L540.2,843.5 L539.8,846.1 L538.0,848.1 L536.7,850.3 L535.1,852.7 L533.0,854.7 L531.6,857.2 L531.0,859.8 L530.3,862.5 L529.5,865.1 L528.2,867.5 L527.2,869.7 L526.3,871.9 L526.4,874.3 L523.9,870.9 L524.1,868.3 L523.8,865.7 L525.0,863.2 L524.7,860.6 L523.4,858.4 L522.0,856.3 L521.3,853.8 L519.1,851.5 L517.9,848.6 L514.4,850.3 L512.7,846.9 L514.8,845.5 L516.1,843.5 L518.2,842.1 L519.6,840.0 L522.3,838.5 L524.7,836.6"/>
<path d="M535.0,838.3 L537.6,836.5 L540.2,834.9 L542.7,836.6 L542.2,839.1 L542.3,841.8 L540.7,844.2 L541.0,846.9 L540.6,849.5 L539.5,852.0 L538.6,854.5 L538.5,857.2 L537.3,859.4 L537.1,862.0 L536.7,864.5 L535.6,866.8 L535.0,869.2 L531.6,870.9 L531.2,868.3 L532.6,865.8 L532.0,863.2 L532.4,860.6 L533.3,858.5 L532.6,856.1 L533.0,853.9 L533.1,851.6 L533.6,849.4 L533.5,847.2 L533.4,844.9 L534.9,842.8 L534.4,840.5 L535.0,838.3"/>
<path d="M526.4,809.1 L529.9,807.4 L531.9,808.8 L533.5,810.6 L535.0,812.6 L536.2,814.8 L537.4,817.1 L538.5,819.4 L540.0,822.1 L541.9,824.6 L538.5,824.6 L537.0,822.1 L534.8,820.1 L533.3,817.7 L531.0,816.2 L528.2,816.0 L528.2,813.6 L526.3,811.6 L526.4,809.1"/>
<path d="M512.7,785.1 L513.4,787.6 L514.4,790.0 L516.1,792.0 L516.2,794.4 L517.9,796.4 L517.9,798.8 L514.4,798.8 L514.4,796.4 L513.5,794.2 L512.7,792.0 L511.9,789.7 L511.9,787.4 L512.7,785.1"/>
<path d="M536.7,858.9 L539.7,857.8 L541.9,855.5 L544.2,855.7 L546.5,855.0 L548.8,855.5 L550.9,856.7 L552.2,858.9 L551.6,861.5 L550.3,863.7 L548.8,865.8 L546.3,865.9 L544.2,867.2 L541.9,867.5 L539.4,866.2 L537.6,864.0 L537.8,861.4 L536.7,858.9"/>
<path d="M547.0,809.1 L549.4,809.0 L551.5,807.4 L553.9,807.4 L556.0,808.6 L558.4,808.7 L560.8,809.1 L563.1,811.2 L565.9,812.6 L566.8,815.0 L567.6,817.4 L569.3,819.4 L569.4,821.8 L569.9,824.1 L571.1,826.3 L572.1,829.1 L571.9,832.1 L572.8,834.9 L573.9,837.2 L574.7,839.6 L576.2,841.7 L574.5,845.2 L572.7,843.5 L571.5,841.3 L569.3,840.0 L567.7,838.2 L565.9,836.6 L563.9,835.2 L562.5,833.2 L560.4,831.8 L559.0,829.7 L556.9,828.4 L555.6,826.3 L553.9,823.7 L552.2,821.1 L549.8,819.0 L548.8,816.0 L548.1,813.7 L547.0,811.6 L547.0,809.1"/>
<path d="M543.6,826.3 L546.2,825.4 L548.8,824.6 L550.5,826.3 L552.1,828.1 L553.9,829.7 L554.2,832.1 L556.4,833.7 L555.9,836.4 L557.3,838.3 L558.0,841.2 L558.4,844.0 L559.0,846.9 L559.9,849.3 L560.8,851.7 L562.5,853.8 L563.8,855.9 L564.9,858.3 L565.9,860.6 L562.5,860.6 L561.4,857.9 L558.5,856.5 L557.3,853.8 L556.4,851.4 L555.2,849.1 L553.9,846.9 L551.5,845.1 L550.6,842.2 L548.8,840.0 L547.3,837.3 L545.3,834.9 L545.5,831.9 L543.9,829.2 L543.6,826.3"/>
<path d="M511.0,860.6 L511.4,863.3 L513.3,865.2 L514.4,867.5 L516.7,869.2 L518.6,871.5 L521.3,872.6 L523.7,872.8 L525.4,874.7 L527.6,875.4 L529.9,876.1 L532.7,875.2 L535.7,875.5 L538.5,874.3 L540.7,875.0 L542.8,876.0 L544.9,877.0 L547.0,877.8 L550.0,877.7 L552.7,876.2 L555.6,876.1 L558.5,876.5 L561.4,877.1 L564.2,877.8 L566.5,877.3 L568.9,877.2 L571.1,876.1 L573.1,878.1 L574.0,881.0 L576.2,882.9 L578.0,884.8 L579.6,886.9 L581.4,888.9"/>
<path d="M569.3,850.3 L571.4,852.7 L572.8,855.5 L574.5,858.0 L576.2,860.6 L578.3,863.0 L581.4,864.0 L581.7,866.4 L582.0,868.7 L583.1,870.9 L583.9,873.1 L584.5,875.4 L584.8,877.8 L585.5,880.0 L585.3,882.3 L585.6,884.5 L585.7,886.8 L586.5,888.9"/>
<path d="M531.6,792.0 L534.4,792.1 L536.7,793.7 L539.1,795.7 L541.9,797.1 L543.1,800.1 L545.3,802.3 L541.9,804.0 L540.2,801.4 L538.5,798.8 L535.6,798.7 L533.3,797.1"/>
<path d="M461.2,816.0 L463.7,814.8 L466.4,814.3 L468.7,815.4 L470.2,817.3 L471.5,819.4 L470.0,821.8 L469.8,824.6 L467.2,825.3 L464.7,826.3 L463.6,823.6 L462.1,821.1"/>
<path d="M450.9,834.9 L453.8,833.6 L456.1,831.4 L458.3,833.7 L461.2,834.9 L460.2,837.4 L459.5,840.0 L456.9,840.7 L454.4,841.7 L451.8,838.3"/>
<path d="M443.2,859.0 L441.7,861.5 L440.6,864.1 L438.6,866.2 L437.1,868.6 L435.5,871.0 L433.6,872.5 L432.4,874.8 L430.1,876.0 L428.7,877.9 L426.9,879.6 L424.9,881.0 L424.0,883.5 L422.1,885.1 L420.6,887.0 L418.3,888.2 L416.3,889.6 L414.4,891.1 L413.0,893.1 L411.5,895.0 L410.5,897.2 L408.7,898.8 L408.0,901.0 L408.5,898.0 L408.0,895.0 L409.3,892.8 L409.9,890.3 L411.5,888.2 L412.9,886.2 L414.8,884.6 L416.4,882.8 L418.3,881.3 L420.4,879.5 L422.8,878.1 L425.2,876.7 L426.9,874.4 L428.6,872.1 L431.3,871.1 L432.9,868.7 L435.5,867.6 L436.7,865.4 L439.3,864.5 L440.7,862.5 L442.3,860.7"/>
<path d="M384.0,944.8 L386.3,943.1 L387.4,940.5 L388.5,937.9 L390.9,936.2 L392.4,934.0 L394.4,932.0 L396.6,930.3 L397.7,927.6 L400.1,925.8 L401.1,923.0 L402.9,920.8 L403.9,918.4 L404.6,915.9 L406.3,913.9 L409.0,912.4 L411.5,910.5 L413.5,911.9 L415.3,913.5 L416.6,915.6 L418.0,918.3 L418.6,921.2 L418.3,924.2 L418.6,927.1 L420.1,929.8 L420.0,932.8 L421.2,935.1 L424.0,935.7 L424.7,938.4 L426.9,939.7 L429.4,940.4 L431.6,941.5 L433.1,943.8 L435.5,944.8 L437.9,945.0 L440.0,946.3 L442.3,946.5 L444.8,946.6 L447.1,946.9 L449.2,948.2 L450.9,951.7 L448.9,953.1 L447.5,955.1 L445.1,955.3 L442.8,955.7 L440.6,956.8 L438.3,956.4 L436.1,957.5 L433.8,956.8 L430.3,958.5 L431.9,961.2 L433.8,963.7 L436.2,964.9 L438.9,965.4 L441.5,966.2 L444.1,967.1 L441.3,967.3 L438.9,968.8 L436.6,969.3 L434.3,968.0 L432.1,968.8 L429.6,967.6 L426.9,967.1 L424.6,968.8 L421.8,968.8 L420.6,971.1 L418.3,972.3 L416.4,973.8 L414.9,975.7 L412.8,977.0 L411.5,979.1 L409.7,982.6 L412.1,984.7 L413.2,987.7 L415.2,990.1 L416.6,992.9 L418.0,994.9 L420.0,996.3 L421.2,998.4 L420.6,1001.0 L421.8,1003.2 L422.6,1005.7 L423.5,1008.3 L424.2,1010.9 L423.5,1013.5 L425.4,1015.9 L426.9,1018.6 L428.5,1020.4 L430.3,1022.0 L433.0,1023.7 L435.5,1025.5 L437.9,1027.4 L440.6,1028.9 L443.5,1030.1 L445.8,1032.3 L442.3,1034.0 L440.1,1031.9 L437.2,1030.6 L434.6,1030.0 L432.1,1028.9 L429.4,1029.5 L426.9,1030.6 L425.0,1032.2 L423.6,1034.1 L421.8,1035.8 L420.2,1038.4 L418.3,1040.9 L417.3,1043.1 L416.4,1045.3 L416.6,1047.8 L416.6,1051.7"/>
<path d="M502.4,915.6 L503.9,913.4 L504.6,910.9 L505.2,908.3 L505.8,905.7 L507.6,903.6 L507.5,900.8 L505.8,898.5 L508.6,897.0 L511.0,895.0 L513.4,895.0 L515.5,893.6 L517.9,893.3 L519.7,891.7 L521.3,889.9 L523.5,889.1 L525.1,887.5 L526.4,885.6 L529.0,885.3 L531.6,884.7 L535.0,887.3 L535.8,890.3 L535.9,893.3 L534.7,895.5 L533.3,897.6 L535.0,900.2 L538.5,901.0 L539.7,903.6 L541.9,905.3 L543.4,907.8 L544.5,910.5 L543.3,912.7 L542.6,915.0 L541.9,917.3 L540.9,919.6 L540.8,921.9 L541.0,924.2 L542.2,926.4 L543.5,928.5 L543.6,931.1 L546.4,932.5 L548.8,934.5 L551.1,935.0 L553.3,935.8 L555.6,936.2 L557.8,937.3 L560.0,938.0 L562.5,937.9 L564.7,939.1 L565.9,941.4 L567.6,944.8 L568.7,942.7 L569.3,940.4 L569.3,937.9 L569.7,935.6 L568.9,933.4 L568.5,931.1 L568.4,928.7 L569.7,926.6 L569.3,924.2 L571.0,922.2 L571.9,919.8 L572.8,917.3 L575.1,915.2 L576.2,912.2 L579.6,913.9 L580.5,916.1 L581.5,918.3 L581.4,920.8 L581.8,923.1 L582.0,925.5 L583.1,927.6 L583.9,924.2 L583.9,921.6 L584.8,919.1 L586.8,917.6 L588.2,915.6 L589.5,913.5 L588.9,910.9 L589.9,908.8 L590.1,906.5 L590.2,904.2 L589.9,901.9 L589.3,899.1 L588.3,896.3 L588.2,893.3 L587.2,891.1 L587.5,888.6 L586.5,886.5 L586.1,883.7 L584.8,881.3 L584.2,879.0 L583.0,876.9 L583.1,874.4 L583.9,872.2 L584.1,869.9 L583.9,867.6 L583.1,865.1 L583.1,862.4 L581.4,859.0 L578.8,858.9 L576.2,858.3 L573.6,858.3 L571.1,859.0 L570.6,861.6 L570.2,864.1 L569.0,866.7 L567.6,869.3 L566.3,871.5 L565.8,874.1 L564.2,876.2 L561.9,878.3 L559.0,879.6 L556.2,878.3 L553.9,876.2 L551.8,874.7 L549.2,874.1 L547.0,872.7 L544.8,873.5 L542.8,874.6 L540.6,875.3 L538.5,876.2 L536.4,877.8 L534.2,879.1 L531.6,879.6 L528.5,880.6 L526.4,883.0 L523.9,884.1 L521.3,884.7 L519.3,886.5 L516.6,886.8 L514.4,888.2 L512.4,889.5 L511.4,892.0 L509.3,893.3 L507.9,895.4 L506.9,897.7 L505.4,899.7 L504.1,901.9 L504.4,904.9 L503.8,907.8 L502.4,910.5 L501.6,913.1 L502.4,915.6"/>
<path d="M511.0,860.7 L511.6,863.3 L513.3,865.3 L514.4,867.6 L516.1,869.4 L518.1,870.7 L519.2,873.1 L521.3,874.4 L523.9,875.6 L526.4,877.0"/>
<path d="M538.5,864.1 L541.4,863.5 L543.6,861.6 L546.1,862.5 L548.8,862.4 L550.5,865.9 L547.7,866.2 L545.3,867.6 L542.7,866.8 L540.2,867.6 L538.5,864.1"/>
<path d="M466.4,1051.7 L465.4,1049.4 L464.5,1047.0 L464.7,1044.3 L465.0,1041.6 L466.4,1039.2 L467.7,1037.1 L469.8,1035.8 L471.8,1034.0 L474.0,1032.8 L476.7,1032.3 L478.5,1030.7 L480.5,1029.3 L481.8,1027.2 L484.7,1027.7 L487.4,1029.1 L490.4,1028.9 L492.5,1030.1 L495.2,1029.3 L497.3,1030.6 L499.5,1031.3 L501.9,1031.6 L504.1,1032.3 L507.1,1032.3 L509.7,1034.2 L512.7,1034.0 L515.6,1033.6 L518.4,1034.2 L521.3,1034.0 L524.1,1034.6 L526.9,1035.4 L529.9,1034.9 L532.8,1034.9 L535.6,1034.2 L538.5,1034.0 L540.6,1033.1 L542.5,1031.8 L545.2,1032.2 L547.0,1030.6 L549.3,1029.5 L550.1,1026.8 L552.2,1025.5 L553.3,1023.2 L555.6,1022.0 L558.0,1020.0 L560.8,1018.6 L564.2,1020.3 L562.5,1023.8 L561.0,1026.5 L559.0,1028.9 L556.8,1030.1 L555.1,1031.8 L553.9,1034.0 L551.8,1035.4 L551.0,1038.0 L548.8,1039.2 L546.2,1039.9 L544.0,1041.2 L541.9,1042.6 L539.5,1043.0 L537.1,1043.0 L535.0,1044.3 L532.2,1045.1 L529.3,1044.9 L526.4,1044.3 L523.7,1043.3 L520.9,1042.5 L517.9,1042.6 L515.3,1041.9 L512.7,1042.1 L510.2,1041.2 L507.6,1040.9 L505.0,1040.5 L502.4,1041.6 L499.8,1041.2 L497.3,1040.9 L494.7,1041.3 L492.1,1041.6 L489.5,1040.9 L487.0,1040.9 L484.5,1041.9 L481.9,1042.2 L479.3,1042.8 L476.7,1042.6 L474.3,1043.2 L472.4,1045.1 L469.8,1045.2 L468.9,1047.3 L469.2,1049.7 L468.1,1051.7"/>
<path d="M623.4,1006.6 L624.2,1004.4 L626.8,1003.6 L627.7,1001.4 L631.1,1004.0 L631.2,1007.1 L630.3,1010.0 L627.7,1010.7 L626.0,1012.6 L623.4,1010.9 L623.4,1006.6"/>
<path d="M593.4,979.1 L593.7,976.8 L593.5,974.5 L592.5,972.3 L592.5,969.8 L593.6,967.7 L594.2,965.4 L596.8,967.1 L597.2,970.0 L595.5,972.8 L595.9,975.7 L593.4,979.1"/>
<path d="M936.3,794.5 L937.7,792.7 L938.0,790.4 L940.8,789.4 L940.1,791.6 L939.8,793.8 L936.3,794.5"/>
<path d="M735.5,918.9 L736.6,916.6 L737.5,914.2 L738.9,912.1 L741.1,910.1 L742.3,907.5 L744.1,905.2 L743.3,907.4 L743.5,909.9 L742.4,912.1 L741.0,914.6 L739.5,917.1 L737.2,918.9 L735.5,918.9"/>
<path d="M1067.8,910.4 L1071.2,908.6 L1074.7,911.0 L1071.9,914.5 L1070.1,912.2 L1067.8,910.4"/>
<path d="M1192.1,917.9 L1195.5,917.2 L1197.2,920.7 L1193.8,922.7 L1193.0,920.3 L1192.1,917.9"/>
<path d="M984.0,97.4 L985.5,95.6 L988.1,95.4 L989.6,93.6 L991.4,92.1 L993.5,91.0 L995.6,89.9 L997.9,89.0"/>
<path d="M984.0,93.6 L986.0,91.7 L988.6,90.9 L991.0,89.0"/>
<path d="M528.1,219.2 L530.4,219.3 L532.4,220.7 L534.7,220.5 L537.5,221.3 L540.0,222.5 L542.4,220.7 L545.3,219.9 L547.9,220.5 L549.9,222.5 L551.9,224.5 L554.5,227.1 L553.2,231.1 L557.1,229.8 L559.7,228.8 L562.4,228.5 L565.1,228.8 L567.7,227.8 L571.0,227.1 L570.2,229.5 L568.4,231.1 L566.6,233.5 L566.4,236.4 L566.1,239.3 L564.4,241.6 L563.4,244.2 L563.7,246.9 L566.4,249.6 L568.9,250.5 L571.6,250.9 L569.1,252.0 L566.4,252.2 L563.7,252.9 L561.1,253.5 L558.5,256.2 L557.1,260.1 L556.1,262.3 L554.5,264.1 L557.1,266.0 L559.9,266.6 L562.4,268.0 L566.4,269.3 L568.9,268.2 L571.6,268.0 L575.6,269.3 L579.6,270.7 L583.5,272.0 L587.5,272.0 L589.6,273.1 L591.4,274.6 L593.6,277.0 L596.7,277.9 L594.2,278.9 L592.7,281.2 L595.4,283.8 L596.1,286.8 L598.0,289.1 L596.7,293.1 L592.7,294.4 L588.8,295.7 L588.0,298.1 L586.2,299.7 L587.2,302.2 L587.5,304.9 L588.2,307.9 L590.1,310.2 L592.1,311.8 L592.7,314.2 L595.4,312.9 L593.7,315.3 L592.7,318.1 L591.7,320.3 L590.1,322.1 L588.8,326.0 L587.3,328.5 L587.5,331.3 L586.2,335.3 L584.8,339.2 L586.3,341.7 L586.2,344.5 L587.0,347.4 L588.8,349.8 L589.7,352.4 L590.1,355.1 L592.7,356.4 L595.1,354.5 L598.0,353.7 L600.2,351.1 L603.3,349.8 L606.3,348.3 L608.6,345.8 L611.2,343.9 L613.8,341.9 L616.4,340.7 L619.1,340.6 L621.7,339.8 L624.4,339.2 L627.4,338.5 L629.7,336.6 L632.3,335.8 L634.9,335.9 L637.6,335.7 L640.2,335.3 L641.0,333.0 L642.9,331.3 L643.0,328.6 L644.2,326.0 L645.3,323.5 L645.5,320.8 L646.5,318.2 L646.8,315.5 L645.7,313.0 L645.5,310.2 L644.8,307.6 L644.8,304.9 L645.5,302.3 L645.5,299.7 L645.1,297.0 L644.8,294.4 L644.2,291.8 L643.9,289.2 L644.2,286.5 L643.0,283.8 L641.5,281.2 L640.5,278.8 L639.4,276.5 L637.6,274.6 L636.4,272.6 L634.5,270.9 L633.0,269.1 L632.3,266.7 L631.7,264.6 L630.2,262.8 L629.7,260.6 L628.4,258.8 L626.8,256.9 L627.1,254.2 L625.7,252.2 L624.2,250.4 L623.1,248.2 L620.8,245.8 L617.8,244.3 L615.5,241.8 L612.5,240.3 L610.5,239.0 L608.6,237.7 L605.9,235.1 L607.3,231.1 L607.1,228.3 L608.6,225.8 L610.5,224.2 L611.2,221.9 L613.8,219.9 L616.5,217.9 L619.3,217.9 L621.8,216.6 L624.2,214.9 L627.0,214.0 L628.7,212.2 L631.0,211.3 L632.3,210.0"/>
<path d="M580.7,267.2l-1.4,1.5M580.1,268.5l-1.8,0.6M579.9,269.4l1.0,-2.3M580.2,269.6l-1.7,1.6M580.1,270.3l1.8,-0.5M581.2,269.4l-1.0,-0.2M582.7,268.8l1.2,0.9M583.5,268.9l-0.4,-1.3M582.5,270.8l-1.7,-0.9M582.5,272.1l-0.2,-1.1M583.7,271.1l-1.5,-0.0M584.2,271.0l1.3,1.6M584.4,272.0l-0.0,-1.3M585.6,272.2l1.0,-1.6M584.7,274.1l0.3,-1.6M586.4,272.3l-2.5,1.1M587.4,274.0l2.6,-0.7M588.0,273.9l-1.1,-1.2M589.1,273.0l-1.7,0.8M589.2,273.5l2.4,-0.5M589.6,276.2l-0.2,2.2M590.1,276.3l1.9,-1.0M590.4,276.6l-2.5,1.1M591.3,276.6l-0.7,-1.0M591.9,277.5l-1.9,0.4M592.6,277.6l1.0,1.1M592.2,278.2l0.0,1.2M590.4,279.5l-1.6,-1.3M591.2,279.9l-1.9,0.5M592.9,279.9l0.1,1.4M592.8,280.3l-0.9,-0.5M591.3,281.5l0.1,2.0M593.5,281.6l1.5,-0.1M594.0,282.6l1.2,-1.3M592.7,282.4l-2.2,0.9M593.1,283.0l2.3,-0.6M592.5,283.2l-1.3,1.8M590.4,283.8l-0.1,-2.4M590.1,284.0l-0.7,-2.6M589.6,284.2l2.4,0.1M589.0,284.7l-1.6,-0.8M590.0,286.9l-2.2,0.6M590.0,287.3l-1.6,-0.6M588.5,286.7l1.1,-1.5M590.2,288.4l-0.4,1.2M587.2,287.5l-1.1,2.3M588.1,289.6l0.9,-0.5M587.5,289.6l-2.7,0.0M585.7,289.1l-1.9,-0.2M587.3,291.2l-1.4,-0.9M587.6,292.5l-1.2,1.2M585.5,293.5l-2.0,-2.0M585.1,293.7l0.5,-1.2M583.3,293.2l0.9,-1.7M583.4,293.7l-0.9,-2.3M585.6,296.0l-0.5,1.9M585.3,296.3l0.9,1.9M582.1,295.5l-0.7,-0.8M582.7,296.2l-0.8,2.1M584.3,296.8l1.1,-1.7M583.7,297.7l-1.4,-0.5M581.9,298.9l-1.6,-0.8M585.3,298.5l0.1,-1.2M585.3,298.8l-2.5,-0.3M586.2,299.7l0.2,-1.6M585.8,300.6l-0.1,1.2M584.9,301.9l-0.8,0.7M584.9,303.5l0.0,1.1M584.4,305.0l0.6,-1.4M584.7,306.1l0.1,1.7M587.3,305.6l1.3,-1.3M588.1,306.0l-0.8,1.0M587.1,307.4l1.5,1.3" stroke-width="1.4" stroke-opacity="1" stroke-linecap="round"/>
<path d="M582.8,332.5l1.1,0.5M583.8,333.0l0.5,1.4M585.1,333.1l-0.8,-1.4M581.3,334.3l1.2,0.8M582.9,334.7l1.3,-2.1M583.6,334.9l-0.3,-1.7M580.2,336.3l-1.4,-0.0M585.1,335.7l-0.4,-1.4M583.8,336.7l0.0,2.1M580.9,337.6l1.4,1.3M584.5,337.2l0.2,-1.7M582.8,337.9l-0.6,1.6M585.2,337.8l0.9,-1.3M585.7,338.1l-1.5,-0.6M584.6,338.7l1.4,0.6M585.7,339.6l-0.3,-1.5M581.0,339.2l0.4,-2.6M584.7,340.5l2.2,0.4M584.2,340.8l-1.9,1.1M584.7,341.3l0.9,-1.3M585.0,341.7l2.0,1.8M585.7,342.9l0.7,1.2M583.6,343.0l1.5,0.4M584.8,343.5l1.1,-1.7M583.1,344.0l-0.7,-1.5M580.7,343.9l0.3,-1.5M580.5,344.3l-0.8,-0.7M584.9,345.4l0.4,-1.3M581.2,345.9l-1.8,1.5M584.7,347.2l1.7,-0.6M580.7,346.9l1.0,-1.9M584.4,348.8l-0.6,-1.7M579.4,347.2l1.6,1.7M580.5,348.0l0.5,-1.4M578.9,347.8l-1.3,-1.5M583.9,350.1l-1.1,1.4M582.3,349.9l1.5,1.7M582.6,350.4l0.1,1.9M578.6,349.1l-0.9,1.2M580.4,350.6l-1.2,2.1M579.2,350.5l1.1,1.9M580.7,351.5l0.3,-2.5M581.5,352.2l-0.9,1.1M581.4,352.6l0.7,2.1M582.2,353.3l-0.8,1.6M581.8,353.5l0.9,0.4M578.5,354.5l2.0,-0.3M579.8,354.0l-1.2,0.5M582.4,352.7l1.9,-1.0M578.0,356.1l-0.8,-1.2M582.2,353.8l2.4,0.4M582.3,354.5l-1.6,-1.9M579.8,357.1l1.1,-2.0M583.0,355.4l0.7,-1.4M581.3,357.0l-1.7,1.8M584.1,355.6l-1.9,-0.9" stroke-width="1.4" stroke-opacity="1" stroke-linecap="round"/>
<path d="M593.7,351.9l0.8,1.3M594.8,352.4l0.9,1.5M594.0,349.2l-1.2,0.5M596.5,352.5l1.5,-1.9M595.6,349.8l-1.0,-1.6M596.0,349.9l-2.0,0.8M596.9,349.2l-1.9,0.7M597.0,348.6l1.4,0.8M599.1,351.9l2.1,-1.4M600.1,349.8l-1.2,-1.0M601.0,349.1l-0.5,1.5M600.6,346.7l-0.8,-1.6M602.0,348.7l-1.4,1.5M602.0,347.9l-1.6,-0.7M601.6,346.2l1.5,-1.3M603.4,349.1l-0.0,1.2M602.4,346.2l-2.0,0.1M603.5,347.4l1.5,1.3M603.6,346.3l1.6,0.8M606.8,347.6l-0.2,-1.2M605.0,343.9l2.0,-0.5M607.4,345.8l1.3,0.5M605.4,342.6l-1.1,-0.8M607.7,345.1l-2.3,1.2M609.5,344.1l-1.3,2.0M609.6,342.0l-0.2,-2.7M610.8,342.7l1.6,1.2M612.2,343.8l-0.7,-1.3M611.4,341.5l1.1,-1.7M610.8,339.4l1.9,1.6M612.3,341.6l-0.6,2.2M611.7,339.6l1.4,-1.4M613.7,339.8l1.1,1.5M614.5,338.8l0.9,-2.0M615.2,340.1l1.4,2.1M616.1,341.9l-0.9,-0.7M615.6,338.7l1.6,-1.3M615.9,338.3l-1.2,1.4M616.8,339.1l2.0,0.1M616.8,337.4l-2.7,0.7M617.3,337.9l-0.7,-1.3M618.1,339.5l-0.2,2.0M619.0,341.6l1.1,-0.1M620.7,337.9l0.7,-2.5M622.1,340.2l-0.1,-1.9M622.7,339.0l-0.9,0.6M622.9,337.9l1.9,-0.1M623.2,337.4l0.2,1.6M623.4,336.2l1.3,-1.3M624.1,339.0l-0.4,1.2M624.1,337.6l-0.8,2.2M626.1,340.2l-1.0,-0.6M625.9,338.5l1.6,-0.1M627.0,339.6l1.7,0.8M626.6,336.5l1.3,0.2M627.7,338.4l0.3,1.7M627.9,337.8l1.4,-1.6M628.4,338.3l2.0,-0.5M628.9,338.5l1.1,-1.1M628.1,335.5l-2.5,-0.6" stroke-width="1.4" stroke-opacity="1" stroke-linecap="round"/>
<path d="M553.4,228.0l-0.0,-2.2M553.3,229.1l-0.6,0.9M554.5,227.6l-1.1,-1.1M554.0,229.2l-0.1,1.8M553.9,230.3l-2.6,-1.1M554.7,229.6l-0.3,-1.6M555.6,228.5l1.5,1.9M555.1,230.5l-1.7,0.9M556.8,231.1l-0.1,2.3M557.8,231.7l1.8,-0.3M558.4,231.1l1.2,-0.4M558.7,231.3l-1.3,-2.0M557.7,232.6l0.3,2.3M560.3,231.1l0.7,0.8M558.7,233.6l-0.8,0.9M559.4,233.6l1.1,-0.6M559.6,233.9l0.1,2.8M560.1,234.0l-1.4,2.0M561.1,233.7l1.0,-0.7M560.8,234.9l-2.1,1.5M561.2,235.0l-2.2,1.4M562.6,235.3l-0.1,1.8M562.9,235.5l0.1,-2.2" stroke-width="1.4" stroke-opacity="1" stroke-linecap="round"/>
<path d="M641.5,357.7 L641.6,355.4 L643.2,353.5 L642.9,351.1 L643.4,348.3 L644.8,345.8 L646.8,345.2 L646.4,348.1 L646.2,351.1 L646.1,353.5 L644.2,355.3 L644.2,357.7 L641.5,357.7"/>
<path d="M513.9,440.5l0.7,-1.4M514.6,441.2l1.0,-0.8M512.5,442.6l-1.5,1.8M512.3,443.3l1.5,-0.1M514.6,444.6l1.0,-0.2M512.3,444.5l1.1,0.7M513.4,445.7l2.0,-1.1M513.3,446.8l0.6,-2.2M512.3,446.8l0.2,1.8M513.7,447.7l1.6,-0.1M512.0,447.8l1.2,1.3M511.2,447.8l1.4,1.9M512.0,448.9l-2.7,0.1M512.3,449.4l2.5,-0.5M512.2,450.2l-0.1,1.1M511.0,450.1l-1.7,1.1M512.5,451.0l-0.8,-2.0M510.5,452.9l-2.4,1.3M510.2,453.2l-1.1,0.7M509.2,453.6l1.3,-0.7M510.1,454.7l0.4,1.1M508.1,455.4l-1.0,1.9M507.0,455.7l2.3,0.0M507.4,457.8l-0.1,-1.7M507.4,458.6l-1.7,-1.4M507.0,458.8l-1.4,-0.4M505.8,459.0l-2.3,0.4M507.8,461.1l1.8,-0.9M507.1,462.3l0.8,-1.6M505.7,463.7l1.2,-2.2M506.2,464.3l-0.0,1.2M504.0,463.7l-1.8,-0.2M505.2,464.6l2.3,-0.0M504.8,464.8l0.7,-2.3M504.0,464.8l-1.3,1.4M504.8,465.6l-0.9,1.4M505.2,466.2l-1.0,-0.5M503.4,465.8l-0.2,1.6M502.9,465.9l1.8,1.2M503.9,467.2l0.6,-2.0M504.9,468.0l-1.6,0.6M503.5,468.2l-1.5,-2.0M503.4,468.5l-2.3,-1.3M501.4,468.0l-0.4,-1.6M504.0,469.9l0.1,-1.7M501.6,470.8l-1.8,0.4M501.6,471.6l1.4,-1.1M502.1,474.2l-0.9,-1.8M501.1,474.9l2.2,1.2M501.3,475.6l0.0,-2.0M499.3,474.8l-0.5,-1.8M499.1,475.1l-1.8,1.0M499.5,476.9l-1.0,-0.1M499.3,477.7l-0.6,1.3M499.2,479.2l-0.9,2.4M498.3,479.9l1.9,0.6M497.3,479.7l-2.0,0.1M496.1,479.4l0.8,2.5M497.2,480.9l-1.7,-0.4M497.0,481.6l0.4,-1.5M494.1,482.3l1.7,0.6M493.7,482.9l1.9,0.9M493.4,483.1l-2.3,-0.9M494.8,485.6l0.7,-1.1M494.8,486.4l2.0,1.4M492.7,486.0l-0.1,2.6M494.2,487.7l-0.4,-1.0M493.3,488.0l-1.4,-0.8M490.9,487.3l-1.1,2.2M491.0,487.8l1.7,-0.2M492.1,488.9l-0.9,-1.1M491.5,489.3l-0.2,-1.8M490.0,489.3l1.9,1.8M490.8,491.4l0.0,-1.9M490.0,491.7l1.4,-1.6M490.6,493.0l-0.3,2.6M487.9,491.9l2.0,0.4M487.5,492.5l-0.6,-0.9M488.7,493.8l0.0,2.3M487.5,493.4l-0.3,1.1M487.7,494.4l0.5,-2.0M487.4,495.1l1.8,1.2M487.0,495.2l-1.0,1.3M487.8,496.6l1.5,-0.6M487.2,497.9l0.9,-0.8M485.5,498.0l1.0,1.7M485.8,499.1l-1.1,0.8M485.5,499.3l1.3,-1.4M483.1,498.4l-2.4,0.2M483.0,499.6l0.8,1.2M483.8,500.7l-1.5,-0.2M482.9,500.8l0.2,2.1M483.2,502.4l-2.2,-1.6M481.9,501.9l-0.9,-2.3M481.2,501.8l-2.6,0.6M480.6,501.8l-1.5,0.9M482.4,503.5l-0.2,-2.2M481.9,503.6l0.9,1.0M481.7,503.9l2.8,-0.4M479.2,505.5l1.4,-2.0M478.7,505.6l-0.8,1.0M477.6,506.5l2.4,-1.0M476.6,507.9l0.6,-2.5M476.0,507.9l-2.6,-0.5M475.8,508.1l0.3,-1.4M477.4,510.4l-1.4,0.4M474.7,510.4l0.6,-2.1M475.9,512.8l-1.4,-2.0M474.3,512.0l1.3,-2.1M474.4,512.5l1.2,0.1M473.6,512.8l-1.5,0.4M474.1,513.6l1.2,-1.8M474.6,514.5l-0.3,2.2M472.8,513.5l0.4,-1.1M471.9,513.6l0.6,1.4M473.1,515.5l1.6,-1.3M471.9,515.5l1.8,-0.5M470.5,515.3l1.0,1.7M472.1,517.0l1.7,-0.6M471.1,517.2l1.6,1.2M468.9,516.7l1.7,-1.4M469.5,517.7l-2.6,0.9M469.2,517.9l-1.1,-1.2M467.2,518.5l2.3,0.9M467.1,519.9l1.8,-1.5M467.8,521.3l1.8,2.1M466.6,521.3l-1.0,-0.5M466.0,521.2l-0.9,-1.2M466.1,522.2l-2.4,1.3M464.0,522.8l-0.6,-2.2M466.4,524.3l-2.2,-1.1M466.1,525.0l-2.6,-0.3M464.1,524.5l0.7,1.4M465.3,525.4l-2.0,1.8M465.0,526.1l1.3,-0.5M464.4,526.2l1.1,0.9M464.4,526.6l1.4,-0.3M462.6,526.1l-2.4,0.8M464.6,528.2l0.1,-1.8M463.3,529.2l1.7,-1.0M462.3,529.1l-0.1,2.4M461.5,529.2l-1.5,-0.7M463.1,530.7l1.8,0.8M460.9,530.8l1.2,1.0M459.5,532.6l-0.1,-1.6M459.8,533.1l-0.8,1.1M460.5,535.7l1.6,0.7M459.1,537.0l-0.4,2.5M458.4,537.9l0.0,-1.9M457.4,540.1l-0.6,-2.0M459.3,541.3l-2.0,-1.5M458.7,541.4l0.2,1.2M456.6,542.1l2.3,1.1M458.8,543.3l-0.9,-0.9M458.4,543.6l-1.9,0.7M455.7,543.2l1.1,0.9M457.0,544.5l-1.3,-0.6M455.1,544.5l0.7,-1.8M455.2,544.9l1.9,0.3M457.4,546.2l-1.6,-1.7M455.7,546.2l-1.2,-0.7M453.5,546.5l1.7,0.8M454.5,548.0l-0.9,-2.1M454.7,549.2l-1.2,0.9M453.1,548.1l-1.8,-0.2M452.9,548.4l0.5,1.4M451.9,551.9l2.5,0.2M450.8,552.3l1.1,1.8M451.0,553.6l0.7,1.5M449.9,554.4l1.4,2.0M448.1,556.2l-1.8,-0.7M447.5,556.1l2.6,0.4M445.3,555.9l-1.8,1.6M446.6,558.2l0.5,2.0M446.2,558.6l1.2,-2.1M443.8,556.5l-1.1,-0.2M444.0,557.5l1.4,-1.2M444.3,559.0l1.4,-0.9M443.3,558.2l1.0,1.0M443.0,560.7l-0.2,-1.1M441.1,559.5l-0.3,-1.4M439.5,559.6l-0.9,-0.6M439.1,559.6l0.2,1.7M439.5,563.2l2.4,-0.4M439.4,563.5l0.2,2.7M437.8,562.0l1.9,-0.9M438.3,563.9l2.3,0.3M436.3,561.8l-0.3,-1.3M436.7,563.5l1.9,1.5M435.2,563.2l-2.3,-0.9M435.4,566.4l-1.5,-0.4M435.2,566.8l-0.0,-1.0M432.8,565.8l0.5,1.7M431.8,565.1l-1.6,-0.5M432.0,566.0l1.5,-2.0M432.5,567.3l-0.8,2.2M431.7,566.8l2.4,-0.3M432.6,568.5l1.7,1.5M430.3,567.8l-1.6,-2.1M428.5,568.9l1.0,-1.4M427.4,568.6l-2.1,0.8M428.5,570.6l-0.9,1.3M427.9,570.4l2.2,-0.3M426.6,572.2l-0.9,0.5M425.0,570.6l1.4,-0.8M423.4,572.1l-0.8,2.0M423.8,573.1l1.3,-0.3M421.6,573.1l-1.0,-2.5M422.8,575.3l-0.6,2.6M422.4,575.3l-0.6,-2.7M421.7,575.0l-0.9,-2.1M421.3,576.2l2.2,0.4M421.0,576.4l2.1,-0.5M420.0,578.0l0.9,0.4M419.5,578.0l1.4,1.2M417.4,576.8l0.5,1.1M417.9,578.1l-0.7,-1.7M416.2,577.0l-1.4,2.1M416.1,577.5l0.4,2.5M417.0,580.4l1.0,2.4M415.4,578.8l-1.9,-1.1M416.2,580.5l2.3,1.6M414.8,579.3l-1.3,-0.6M415.9,581.3l0.7,-1.0M413.8,579.7l1.6,1.8M414.3,580.9l-1.2,-0.2M413.1,579.9l-0.4,1.6M413.8,582.0l0.3,1.7M412.6,581.0l-2.5,0.5M412.3,581.1l0.7,-1.2M412.5,582.0l1.4,1.2M412.6,583.3l-1.3,0.2M411.6,582.6l0.8,0.8M411.3,582.7l1.8,-0.8M411.5,583.6l-0.1,-2.0M408.9,582.5l-1.4,-0.2M408.8,582.9l0.3,1.1M408.4,582.9l-2.2,0.6M409.1,584.5l-0.6,1.2M409.2,585.8l1.9,-0.2M409.2,586.3l-1.1,-1.6M407.9,585.2l-0.1,-2.0M407.6,585.4l-1.7,-1.3M406.7,584.7l2.2,-0.8M405.9,584.9l0.6,1.3M406.5,587.4l1.7,0.4M406.3,587.7l-0.0,-2.0M404.7,586.8l2.7,0.2M404.8,587.5l-2.7,-0.2M402.9,587.5l0.8,2.7M402.1,587.7l-0.8,1.6M402.5,588.7l1.7,0.2M401.9,588.6l2.1,0.0M402.6,589.7l-2.1,-0.9M402.8,590.5l2.0,1.9M402.8,591.0l-2.0,-0.3M402.1,591.3l1.0,1.8M400.0,590.2l-1.3,-2.2M399.3,590.5l-0.9,0.6M401.1,593.3l-0.4,1.5M399.1,592.8l1.4,-2.0M399.1,594.3l-1.1,-1.7M398.5,595.7l1.6,-1.2M396.7,594.4l-0.1,1.4M396.9,595.1l-0.5,-1.0M395.5,596.7l-1.0,-2.0M393.8,596.0l0.3,-1.4M393.5,596.3l0.5,1.7M393.3,597.6l-1.4,1.7" stroke-width="1.4" stroke-opacity="1" stroke-linecap="round"/>
<path d="M393.6,599.9l0.3,1.4M393.3,600.2l-1.5,1.0M392.6,599.3l1.9,-0.7M392.2,599.1l-1.2,0.5M391.5,599.4l0.9,1.4M388.8,600.2l-0.5,1.4M387.5,602.7l-2.3,-0.5M387.1,602.7l1.3,0.0M386.3,602.6l-0.2,2.3M385.8,603.1l2.5,-1.1M385.3,602.7l-1.6,-0.2M384.5,603.8l1.1,0.7M383.7,602.5l-0.5,-1.4M382.8,603.2l1.0,2.5M382.5,604.3l-0.6,-1.6M381.3,603.0l0.4,-1.1M380.7,603.5l0.8,-2.3M380.9,605.0l-1.0,-1.7M380.5,604.9l-1.0,-0.6M379.8,605.0l-1.7,0.9M378.7,604.2l0.3,1.5M377.3,605.7l-0.8,-1.3M377.0,606.0l0.3,-2.5M375.6,606.2l-0.2,-1.1M375.1,607.0l-1.3,-0.1M373.7,607.2l-1.9,-0.1M372.9,605.9l-2.4,-0.4M373.0,607.6l-1.4,1.2M372.2,606.2l0.3,1.5M371.0,607.2l2.4,-1.2M370.3,607.4l-1.0,-1.1M369.6,606.2l1.0,-0.7M369.2,608.7l0.0,-2.4M368.3,608.1l2.3,1.5M368.1,608.5l0.1,-1.2M367.9,609.1l1.0,1.7M367.1,609.1l0.2,-1.8M366.8,609.3l0.1,2.7M366.4,609.1l-0.2,-2.6M364.6,609.3l-0.5,-2.3M364.6,610.0l1.2,-0.3M363.9,610.2l-0.1,1.8M362.5,609.2l-0.6,1.2M362.7,611.0l-2.2,1.2M361.1,610.2l-2.1,-1.6M360.3,610.3l0.6,-1.3M360.5,611.5l-1.0,1.3M360.4,612.0l1.5,-0.9M358.3,611.1l0.9,-2.6M357.3,612.3l-1.8,1.7M357.2,612.8l-1.3,2.1M356.5,612.2l1.5,-2.1M356.1,612.2l-0.1,-2.2M355.5,612.7l-1.7,-0.5M355.3,613.0l0.5,-2.5M355.5,614.2l0.0,1.2M355.5,615.0l0.4,-1.3M355.1,615.1l-0.1,-1.4M352.9,614.6l1.5,-1.1M351.7,614.6l-1.1,-0.5M349.7,617.0l-1.8,2.1M348.4,616.1l2.0,0.4M347.6,617.6l1.0,-2.2M347.6,618.4l-0.1,-2.4M346.5,617.1l1.8,-0.1M346.4,617.7l1.2,-0.6M346.5,618.7l-0.1,-1.3M344.5,617.9l2.0,-0.0M344.0,618.3l-2.2,-0.8M343.3,618.6l0.3,1.0M341.1,620.5l0.6,-1.7M340.8,621.7l-1.7,0.9M340.5,622.6l-1.2,1.9M339.6,622.3l-1.3,-0.1M338.3,622.1l-0.4,-2.3M337.1,621.8l1.0,-0.5M336.6,624.0l0.6,-2.1M336.0,623.2l-1.8,-2.1M335.4,622.5l0.0,1.4M335.4,623.5l-1.1,-1.0M335.1,624.0l1.2,0.7M334.6,623.5l0.8,1.7M332.5,623.9l0.8,1.0M332.1,623.7l1.7,-0.4M331.9,624.5l-1.3,1.8M331.8,625.2l1.3,-1.5M330.9,623.7l-0.2,-1.6M329.4,624.9l-1.2,-2.0M328.9,625.5l1.4,-1.9M327.4,624.5l-1.6,-0.5M327.7,626.5l2.0,-1.5M327.2,626.2l-1.9,0.2M326.4,624.9l-1.1,1.6M325.4,626.5l-1.9,-1.5M325.1,626.7l-1.3,1.1" stroke-width="1.4" stroke-opacity="1" stroke-linecap="round"/>
<path d="M331.8,608.5l0.6,-1.2M332.6,608.7l2.3,0.9M332.8,609.0l1.4,0.5M333.4,612.1l-1.2,0.5M335.8,610.9l1.6,-1.7M336.7,611.4l0.7,0.7M337.3,612.3l0.9,1.9M336.6,614.9l-1.6,0.7M338.3,613.4l2.8,-0.4M339.0,613.7l0.9,1.3M338.9,615.0l-0.4,-1.0M338.7,615.8l-1.6,-0.8M340.2,615.4l2.4,-0.9M341.4,615.2l-1.7,1.5M341.1,617.1l0.4,-1.9M341.4,617.2l-1.9,1.1M342.2,618.0l2.6,-0.7M343.5,616.7l-0.3,2.6M345.1,618.5l-0.2,2.1M345.3,618.9l-1.5,0.1M345.9,619.4l0.1,-1.3M347.5,620.1l2.0,1.3M347.9,618.5l1.9,1.7M349.1,619.2l-0.1,2.3M349.1,618.2l-0.2,-1.4M349.3,617.5l2.4,-1.3M350.3,617.4l0.8,-2.2M351.8,617.4l-1.2,0.2M351.8,616.3l2.6,0.9M352.4,615.5l-1.0,1.0M352.6,614.6l2.2,1.3M353.1,614.1l-2.3,0.4M354.6,614.6l0.5,1.1M353.5,612.5l-1.6,-0.0M355.3,613.8l-2.4,0.4M355.6,613.5l0.5,2.6" stroke-width="1.4" stroke-opacity="1" stroke-linecap="round"/>
<path d="M212.6,641.5l2.1,-1.3M213.8,642.5l1.2,-2.5M214.7,643.0l-1.6,-0.6M214.7,641.3l-1.9,0.4M215.2,641.9l-2.2,-0.8M216.2,643.3l-1.8,2.0M216.7,642.3l1.7,-0.4M217.2,640.6l0.3,1.2M217.8,642.3l-2.5,-1.0M218.7,643.1l-1.3,-1.5M219.6,641.9l-0.9,2.6M220.1,643.0l0.9,0.4M220.6,641.5l1.8,1.7M222.3,639.3l-2.5,1.2M223.3,640.5l1.7,0.1M224.1,638.9l1.1,2.3M225.4,640.7l-0.3,2.6M226.1,640.5l-1.9,1.3M226.3,640.0l1.2,-0.1M226.0,637.8l-1.4,1.7M228.7,638.4l-1.6,-0.5M228.6,636.5l0.7,1.1M230.0,637.0l-1.8,-0.9M230.4,636.9l1.1,0.1M230.3,635.9l0.1,-1.4M230.7,635.2l-1.7,0.2" stroke-width="1.4" stroke-opacity="1" stroke-linecap="round"/>
<path d="M355.6,441.2l0.4,2.2M355.8,440.1l1.9,-1.0M355.4,438.8l1.4,0.8M356.7,440.1l-1.4,0.7M356.7,438.2l-0.5,1.5M357.7,437.6l1.2,0.3M359.3,438.2l1.8,0.7M358.8,436.7l-0.1,-2.3M360.3,437.7l-2.0,0.9M359.4,437.8l1.4,0.0M361.3,436.8l1.9,1.2M361.6,437.5l-0.7,-1.2M360.8,438.5l-1.2,0.5M361.3,438.6l2.7,-0.2M361.6,438.8l-1.3,0.1M361.3,439.9l-0.7,2.6M363.4,439.3l-1.2,0.1M363.0,441.7l0.4,-1.1M364.9,440.8l-2.0,-1.1M363.5,442.3l-1.5,1.7M363.1,443.1l-0.9,0.4M363.9,442.9l1.4,-1.6M363.7,443.5l-0.2,-1.2M364.4,443.4l1.1,0.0M364.2,444.0l1.6,-0.0" stroke-width="1.4" stroke-opacity="1" stroke-linecap="round"/>
<path d="M390.2,453.1l-1.6,0.2M390.4,453.5l-1.2,-0.7M390.5,453.8l-1.8,-0.0M390.7,454.5l-0.4,2.4M390.0,456.2l-1.7,-0.1M391.6,456.0l-0.6,-2.4M390.8,456.7l0.4,1.8M392.1,456.6l-1.5,1.8M392.5,457.2l0.5,-2.1M393.4,458.3l-0.7,0.8M393.3,460.6l1.9,1.5M393.4,461.4l-0.2,1.9M393.5,463.2l-1.1,2.5M394.4,463.4l-0.5,2.6M392.5,464.5l1.4,-1.1M392.7,464.8l-0.9,0.9M394.0,465.3l-1.2,-0.8M394.1,465.7l-0.7,0.7M393.0,466.2l-1.1,1.9M395.3,466.5l-1.0,-1.9M394.9,467.0l1.6,-2.1M393.8,467.5l-1.4,-0.7M394.6,467.8l-1.3,-1.6M395.1,468.4l-0.7,1.6M393.1,469.1l2.1,1.8M393.3,469.4l0.1,2.1M395.7,469.4l0.7,-2.4M393.6,470.1l-2.8,0.4M394.9,470.3l0.3,2.1M393.7,471.6l1.2,0.9M393.0,472.2l1.5,1.0M395.9,473.1l1.0,0.6M394.6,473.2l-1.5,-0.1M394.1,474.6l-1.7,0.1M392.9,475.1l-1.0,1.3M395.1,476.6l1.6,-0.5M393.3,476.6l-1.6,-0.3M392.7,476.9l-0.9,1.5M393.9,477.8l1.2,1.9M393.8,478.5l0.3,2.4M392.5,478.7l-1.6,1.6M394.2,479.3l2.2,-0.5M393.3,479.9l0.4,1.2M392.7,480.9l1.4,1.6M393.0,481.3l-0.8,1.8" stroke-width="1.4" stroke-opacity="1" stroke-linecap="round"/>
<path d="M149.3,1023.7l-0.9,-0.8M149.1,1024.5l-2.0,-0.6M150.5,1024.4l1.0,-1.8M151.1,1024.9l2.4,-0.5M151.2,1025.8l2.6,0.6M151.5,1027.2l1.1,2.2M153.8,1024.8l1.4,-1.1M152.6,1028.1l0.8,2.5M154.9,1025.7l-0.6,1.0M153.8,1027.8l0.9,0.9M154.9,1026.9l2.3,-1.3M154.5,1029.2l-0.5,2.6M157.2,1027.7l1.8,-0.9M156.3,1030.2l-2.4,0.5M158.0,1029.1l1.4,-0.4M157.3,1031.3l-1.1,0.9M156.9,1032.2l-1.3,1.4M159.7,1029.9l0.1,-2.3M159.7,1030.9l-1.3,1.9M159.4,1032.3l1.5,2.2M159.7,1032.5l0.3,-1.3M159.3,1033.9l1.2,0.8M161.1,1033.2l-1.2,-0.7M162.4,1032.4l0.4,-1.4M160.9,1035.9l-0.7,2.5M161.9,1037.0l1.3,-0.4M163.0,1036.8l-1.3,-0.1M161.5,1038.0l-1.0,0.8M162.7,1037.8l0.7,1.7M163.4,1037.9l-2.5,-0.1M161.8,1039.1l0.3,1.0M164.9,1038.8l0.3,-1.5M163.9,1040.1l-1.0,-1.3M165.9,1039.5l-1.4,-1.8M164.3,1040.7l-0.1,-1.2M165.9,1041.1l1.3,0.7M165.2,1041.9l-0.0,1.5M165.8,1042.0l0.6,-2.2M166.5,1042.1l1.6,0.1M164.9,1043.2l0.5,-2.7M167.5,1042.4l0.1,-1.7M166.8,1043.5l2.4,1.2M166.5,1044.1l-2.2,0.9M167.8,1044.3l-2.2,1.4M166.2,1045.4l-1.7,-0.7M166.9,1045.9l0.8,-0.9M165.9,1046.8l1.0,-0.1M169.2,1046.8l-0.7,2.2M167.9,1048.4l-1.2,-1.8M168.8,1048.2l-0.9,1.8M169.9,1047.6l-0.7,-1.3M169.2,1049.3l0.4,-1.1M168.5,1050.9l2.3,0.4M171.0,1049.2l-1.5,1.2M171.4,1049.3l-1.5,-0.2M171.0,1050.7l0.4,2.7M170.6,1051.5l0.8,-1.5" stroke-width="1.4" stroke-opacity="1" stroke-linecap="round"/>
<path d="M159.3,1029.5l1.7,0.5M160.2,1030.3l0.1,-1.5M160.6,1030.5l-2.4,1.2M161.3,1030.5l-0.9,0.5M161.8,1031.5l-0.7,1.9M162.6,1031.4l1.2,1.0M163.0,1029.7l1.3,1.3M163.2,1028.9l0.2,1.1M163.6,1029.0l-1.2,-0.1M164.4,1029.1l0.1,2.5M165.0,1030.4l2.2,1.6M165.2,1030.0l0.8,-0.9M165.6,1030.2l-2.0,-1.2M165.9,1029.5l0.7,1.6M166.3,1029.7l-0.5,1.4M167.1,1030.3l-1.4,0.0M167.3,1029.3l-2.3,-0.1M167.6,1029.0l1.2,-0.9M169.6,1029.9l-1.0,-0.9M170.6,1030.5l0.7,1.3M171.8,1029.8l-0.3,-1.1M172.5,1030.1l-1.3,-1.8M173.2,1029.5l1.7,-0.4M173.2,1030.2l-0.8,-2.2M173.6,1031.0l-1.3,-0.1M174.9,1032.6l0.1,2.3" stroke-width="1.4" stroke-opacity="1" stroke-linecap="round"/>
<path d="M200.6,987.9l-1.5,0.2M200.9,988.1l1.4,-2.1M202.5,986.4l-1.3,-0.6M202.9,986.4l1.3,1.9M202.1,988.9l-1.2,2.2M203.3,987.3l-0.8,0.6M203.5,987.8l2.5,0.2M204.4,986.7l1.4,-0.3M204.7,987.0l1.8,1.3M205.0,988.0l-0.6,2.7M204.1,990.5l0.9,-0.8M205.2,989.9l0.8,-2.1M204.8,989.1l1.1,1.6M206.1,989.9l0.8,2.1M203.4,992.0l-0.8,0.9M204.0,992.6l2.0,-0.9M204.4,994.3l0.1,-1.6M203.7,994.4l0.5,-1.3M205.0,996.0l-1.6,0.1M202.5,996.3l-0.9,-1.0M204.6,997.8l-1.0,0.3M203.4,997.8l1.7,-0.5M203.3,999.3l-1.7,0.1" stroke-width="1.4" stroke-opacity="1" stroke-linecap="round"/>
<path d="M84.2,1047.3l-2.2,-1.7M84.5,1047.4l1.2,0.1M84.8,1047.8l1.2,-1.9M85.6,1048.6l1.7,0.1M85.9,1048.8l1.8,0.8M86.4,1048.6l-1.0,0.7M87.8,1047.8l-2.1,-1.5M88.1,1050.3l-0.8,-1.3M89.6,1050.2l-1.1,1.1M90.5,1051.0l1.8,-0.9" stroke-width="1.4" stroke-opacity="1" stroke-linecap="round"/>
<path d="M576.9,332.6 L580.9,330.0 L585.5,333.3 L589.8,337.7 L592.1,344.5 L592.7,351.4 L590.8,356.4 L586.2,358.0 L581.9,355.7 L578.9,350.1 L577.6,341.9Z" fill="#000" fill-opacity="0.6" stroke="none"/>
<path d="M576.4,336.3l1.8,0.3M578.4,335.5l2.1,-0.4M579.2,335.5l-2.2,-0.5M581.7,334.8l0.8,-0.8M579.9,336.8l0.4,-1.4M582.9,335.3l-0.5,-1.9M580.9,337.5l2.3,-0.7M581.7,337.8l-1.2,1.1M581.8,338.6l0.4,-2.7M584.0,337.7l-2.7,0.1M580.2,340.4l-1.6,1.2M584.1,338.9l0.7,1.0M581.8,340.8l-1.1,-0.6M586.3,340.0l1.1,-2.2M580.1,341.6l0.5,-1.3M580.8,341.8l0.5,-1.0M581.5,343.9l1.4,-0.7M586.1,344.4l-0.0,2.0M581.6,345.6l1.1,-0.9M582.4,346.5l0.2,-1.5M586.4,346.1l0.2,-1.8M587.9,347.8l-1.5,2.1M588.1,348.2l0.0,-1.2M586.6,348.6l-1.3,-2.2M585.0,348.6l1.6,0.3M582.2,348.4l-0.5,-2.4M582.9,348.9l1.2,1.2M586.1,349.9l-0.1,-1.4M586.0,350.3l1.4,-1.6M585.2,350.5l2.4,-1.3M583.6,350.5l0.9,-1.1M587.2,351.6l-2.4,-0.0M584.5,351.4l1.9,-0.1M581.3,351.1l1.3,-1.1M582.8,351.8l-0.2,-2.7M583.6,352.7l-0.4,1.8M580.4,352.4l2.2,-1.5M579.9,352.7l1.7,2.0M581.3,357.0l2.5,0.4M582.7,356.7l0.5,2.3M585.3,354.6l0.8,2.3M582.7,358.3l0.3,1.6M585.2,356.3l2.1,-1.7" stroke-width="1.4" stroke-opacity="1" stroke-linecap="round"/>
<path d="M580.8,266.9l1.8,0.8M578.7,272.7l-1.4,0.8M581.6,267.8l1.9,-0.8M581.1,269.5l-0.0,1.6M581.4,269.8l2.0,-0.3M582.9,267.5l0.9,1.4M581.7,272.6l-1.8,0.7M584.3,268.1l2.0,0.9M582.2,273.9l0.7,-1.4M583.7,271.8l-0.8,-1.2M584.2,271.6l2.3,0.5M585.1,271.7l0.1,1.3M583.8,274.0l-2.2,0.7M584.1,274.1l-1.8,-1.2M585.5,273.0l1.0,2.6M585.7,273.9l1.3,0.9M585.2,275.2l1.8,0.1M588.9,272.7l-0.4,-1.5M587.3,276.1l-2.2,-1.1M586.9,277.8l2.6,0.2M589.0,275.5l-1.8,1.5M590.8,273.9l0.4,-1.9M593.0,274.5l0.2,-1.4M593.4,274.7l-0.1,2.2M589.3,278.0l-0.7,-1.2M590.3,277.9l-0.2,-1.3M592.1,277.4l1.3,0.9M590.1,279.6l1.7,1.6M594.3,278.0l-0.0,1.9M589.5,280.8l1.4,-0.6M589.8,282.3l1.0,-0.3M593.9,281.8l0.6,1.7M590.3,280.8l-0.4,1.0M593.9,283.4l1.2,1.1M593.9,283.9l-0.0,2.0M593.0,283.8l-2.4,-0.4M588.8,282.5l0.5,-1.9M592.3,284.7l1.7,1.9M588.3,283.5l0.8,-0.7M590.4,285.4l0.8,-1.4M589.4,285.3l0.8,2.0M587.3,284.6l0.9,2.1M591.4,287.4l0.9,0.9M591.7,288.1l0.3,-1.1M590.8,288.8l0.2,-1.8M589.4,288.7l1.6,-0.4M587.9,288.9l1.1,-0.4M584.5,288.7l1.9,1.4M585.6,290.4l-2.0,1.3M583.9,289.6l-1.8,1.6M584.2,290.8l-0.6,1.9M586.1,292.1l2.2,1.2M582.7,291.3l2.6,-0.9M584.2,292.4l-0.3,-2.1M582.7,292.1l-1.9,0.8M587.9,295.5l1.3,-0.7M587.1,295.5l2.3,-0.1M586.9,295.8l1.8,-1.3M584.9,295.7l0.9,-0.3M587.0,297.1l1.2,-0.0M582.2,297.4l-1.9,0.1M583.5,297.4l0.4,-1.2M585.4,297.7l0.1,1.8M584.0,299.5l1.4,-0.1M585.4,299.6l-0.5,1.1M587.5,299.4l1.6,-0.9M583.2,302.3l0.5,1.9M586.1,302.5l1.1,-2.2M587.3,302.7l1.8,1.4M585.8,305.1l1.9,-1.0M585.0,306.7l-1.1,-0.5M587.3,306.0l-1.8,0.8M587.7,306.3l-1.5,0.7M590.3,305.7l-0.3,-1.7M586.8,307.7l-1.0,1.1M585.0,308.4l1.4,-0.6M588.8,308.0l2.4,0.9M589.4,308.6l-0.8,-2.3M588.6,309.2l0.3,2.4M587.4,310.5l2.3,-0.2M590.5,310.2l2.2,0.9M586.0,311.5l-0.9,-1.6M587.8,312.6l-1.3,0.7M590.5,313.1l-1.1,1.7M589.1,313.8l0.5,-1.2M585.8,313.4l1.5,-0.5M589.0,315.4l-1.5,-1.5M591.3,316.7l1.4,1.4M589.4,316.3l-1.9,-1.8M589.6,316.8l-1.3,-0.8M589.3,317.4l-2.4,1.0M589.6,317.9l0.9,1.0M588.2,317.7l0.1,-1.7M588.0,318.1l0.4,-2.6M584.5,317.0l-0.0,2.8M585.9,318.0l-1.1,1.0M584.4,317.8l-1.4,1.7M586.6,319.1l0.4,1.3M585.5,319.0l-1.0,-0.3M589.2,321.2l-0.1,1.4M587.7,321.8l-0.4,1.5M584.0,320.7l0.5,-2.2M588.5,323.6l0.8,1.3M583.3,321.9l-1.5,-0.9M582.1,321.8l0.0,-1.6M582.0,322.2l-0.1,2.5M584.0,323.3l-1.6,2.0M587.4,325.1l0.8,2.3M585.8,326.0l2.4,1.4M583.4,325.4l-0.8,1.1M581.2,324.9l0.0,1.3M585.7,327.9l0.8,-0.9" stroke-width="1.4" stroke-opacity="1" stroke-linecap="round"/>
<path d="M590.1,357.7 L595.4,352.4 L602.0,347.1 L608.6,343.2 L615.2,339.9 L621.8,337.3 L628.4,334.6 L633.6,333.3 L635.6,336.6 L631.0,340.6 L624.4,343.2 L617.8,347.1 L611.2,351.1 L604.6,355.1 L598.0,358.4 L592.7,359.7Z" fill="#000" fill-opacity="0.4" stroke="none"/>
<path d="M591.4,354.8l-1.9,-0.2M594.2,357.5l1.4,-1.1M595.0,357.9l1.6,0.2M594.1,356.3l0.2,-1.2M595.7,357.6l-0.4,-1.1M592.8,352.7l-0.9,-1.3M593.1,352.5l-1.0,0.7M595.4,354.6l-1.6,-0.6M594.8,352.8l2.3,-1.0M598.0,354.9l-1.1,-0.5M594.6,350.5l1.1,-1.1M597.2,352.9l1.8,1.3M596.3,349.5l0.2,-2.2M597.6,350.5l1.4,2.1M600.1,353.3l-0.8,1.3M600.1,352.7l1.2,-1.1M601.2,353.0l0.1,-2.0M598.7,349.0l1.8,-1.6M598.1,347.6l0.9,2.6M601.9,352.0l-2.0,-0.4M600.2,349.2l-1.1,-0.4M599.5,347.0l-1.0,-1.9M600.1,345.3l0.2,2.4M602.9,348.4l0.2,-1.3M604.9,350.6l-0.0,-1.7M602.4,346.3l2.3,-0.6M604.9,349.0l-2.4,0.2M605.8,349.8l-0.7,-1.7M605.8,349.1l-2.7,-0.5M606.5,349.5l-0.4,-1.8M604.8,345.3l-0.6,-2.4M607.9,349.6l-0.6,-0.9M604.3,343.2l-1.4,-0.7M606.2,345.5l2.3,1.2M606.8,345.1l-0.7,1.9M609.3,348.5l2.2,-0.6M606.4,342.3l-0.7,1.0M610.3,348.0l1.4,-2.4M607.6,342.5l1.5,0.2M609.0,344.5l-0.7,2.1M609.6,344.9l-0.7,2.2M610.1,343.4l-0.2,1.0M611.0,344.4l1.0,2.3M610.7,340.5l-0.3,2.3M610.8,339.0l-1.0,1.3M611.5,339.6l0.9,-1.3M612.8,340.6l1.2,2.4M614.8,344.3l1.8,0.8M614.8,340.4l2.0,-0.0M614.5,337.6l1.4,-0.5M615.8,340.0l-2.4,-1.3M618.0,343.0l1.7,0.2M617.4,339.4l-1.2,-0.7M620.0,343.2l2.0,1.0M618.2,337.2l2.5,1.3M620.6,341.9l2.6,-0.5M619.6,337.8l-2.7,-0.3M621.7,339.5l0.8,-1.1M622.4,339.1l-1.1,-0.6M622.2,336.2l-1.8,1.1M622.1,334.7l1.9,1.3M623.1,336.5l0.9,-2.4M623.3,334.4l0.1,-2.1M623.6,334.4l-1.3,0.6M626.2,341.7l0.3,1.1M625.2,335.6l-2.6,1.0M625.7,336.2l-1.3,0.2M627.0,339.1l-1.1,2.2M625.9,334.4l-1.3,-1.3M628.1,339.1l-0.8,-1.5M628.2,338.0l0.1,-1.8M628.7,338.4l-1.4,-1.1M628.5,336.6l-2.5,-0.8M628.9,335.4l0.4,2.1M630.4,338.0l1.7,-0.0M631.0,337.5l0.9,-1.0M632.0,340.0l1.4,0.6M631.9,338.1l-1.8,-2.0M631.3,332.7l1.7,0.4M632.5,336.1l-0.9,-1.0M634.1,339.3l-1.3,1.6M633.1,333.8l0.2,-1.0M633.5,334.2l1.4,-1.3M633.9,333.9l-1.9,-1.6M635.1,337.5l-1.5,1.2" stroke-width="1.4" stroke-opacity="1" stroke-linecap="round"/>
<path d="M553.2,228.2l2.6,-0.2M555.0,227.0l1.1,-1.9M555.5,228.1l1.7,-0.9M555.8,228.5l-0.7,0.9M557.1,229.1l1.8,1.5M558.5,227.8l2.1,1.4M559.5,231.2l1.2,1.1M559.9,231.7l-2.1,1.2M562.3,230.8l0.2,1.6M562.7,231.7l1.7,0.7M563.0,231.8l-2.3,0.1M564.0,229.4l-0.1,-2.3M565.1,230.9l-0.2,-2.0M565.2,229.7l1.0,0.5M565.1,227.9l2.2,0.7M566.8,229.9l1.0,-1.9M567.0,229.2l-1.2,0.9M567.6,230.3l-1.8,-2.0M567.4,227.9l-1.1,-0.1M568.0,228.9l-2.6,0.3" stroke-width="1.4" stroke-opacity="1" stroke-linecap="round"/>
<path d="M458.9,952.9l2.4,-0.3M459.6,953.2l0.4,2.2M459.6,952.6l-1.0,0.0M461.1,954.2l0.3,1.0M460.9,953.3l-0.8,1.6M461.5,953.5l2.5,0.3M461.0,951.5l0.3,2.6M462.0,952.3l1.1,-2.4M463.3,953.6l-1.1,-0.5M464.0,954.0l-1.0,-1.9M462.7,950.8l2.5,0.3M466.0,953.8l0.8,1.4M466.6,954.0l1.1,-2.3M467.1,954.2l-0.1,2.0M465.9,951.0l2.0,1.4M465.3,949.6l-0.4,2.1M468.1,950.6l0.7,1.3M466.9,948.1l-1.5,2.1M468.0,948.4l-1.6,-1.1M467.9,947.6l-1.9,-0.8M470.4,950.8l0.1,2.1M471.6,951.3l-1.4,1.1M473.6,947.2l-1.3,0.5M474.7,947.5l-1.8,0.1M476.3,946.1l-2.7,0.1M475.6,944.4l1.8,0.3M475.3,942.7l-1.1,0.1M476.8,944.2l-1.1,1.6M476.3,942.2l2.0,0.2M477.7,942.9l-1.0,2.1M479.4,945.0l1.2,0.0M478.3,942.6l-1.4,1.0M479.6,943.3l2.1,-0.5M478.7,940.0l1.9,-0.5M481.6,943.1l-1.5,1.5M482.5,943.8l-1.0,1.1M481.0,940.2l-2.8,0.2M481.1,939.7l0.3,-1.1M483.3,942.3l-0.6,-2.4M483.9,942.7l-1.5,1.9M484.2,942.5l-1.5,0.2M483.2,940.3l1.2,0.4M484.3,939.4l-1.2,0.2M486.1,941.4l-0.3,-1.9M487.4,940.2l0.7,1.2M486.5,938.2l-1.6,-0.9M485.6,936.1l-0.4,-1.9M488.2,939.4l2.5,-1.0M487.3,936.8l-1.4,0.5M488.6,936.8l2.5,-0.5M487.5,934.6l-1.9,0.5M488.7,935.0l1.0,-0.1M490.9,937.0l-2.4,1.2M491.6,937.4l0.2,1.1M489.2,933.2l-2.1,1.8M491.7,936.2l1.9,0.4M491.8,935.2l-1.5,0.5M491.1,932.2l1.4,0.5M494.9,934.6l0.1,-1.8M493.9,931.2l1.4,1.5M493.8,929.7l1.5,-0.3M497.4,933.4l1.9,1.6M497.5,931.3l-1.8,-1.6M496.5,929.1l-0.7,-0.9M496.9,929.0l0.6,-1.9M499.9,932.1l-1.2,-0.7M498.7,929.0l-2.5,-1.3M499.8,929.2l-0.8,1.7M500.1,928.4l-0.8,1.9M501.1,928.5l-0.4,1.4M502.4,928.5l-1.6,0.0M502.9,928.6l2.2,-1.6M500.3,924.8l-0.7,-0.8M502.5,925.9l-0.5,-1.2M504.1,927.2l-0.9,-1.9M502.2,924.4l-0.0,1.1M505.0,924.4l-0.4,1.8M503.5,921.6l-0.8,1.1M507.9,925.1l0.1,-1.2M507.3,923.8l-1.8,-1.2M506.9,922.2l1.1,-1.8M505.8,920.5l1.6,-1.1M508.4,922.9l2.3,-1.2M508.3,921.1l0.6,-1.5M510.1,922.6l-0.3,-1.0M509.2,921.0l2.0,-0.6M509.8,920.6l0.7,1.5M509.6,919.9l2.1,0.6" stroke-width="1.4" stroke-opacity="1" stroke-linecap="round"/>
<path d="M493.7,923.0l-2.6,-0.7M492.5,920.9l-0.4,-1.3M494.1,920.6l-1.2,-1.9M494.3,920.3l-2.0,1.1M494.4,919.8l-2.2,0.2M494.9,919.9l1.5,-0.3M495.1,919.0l-2.6,0.2M496.8,920.0l-1.4,-1.3M497.6,919.4l1.1,1.1M498.6,917.5l-1.0,-0.3M498.7,916.4l2.6,-0.1M500.0,918.6l-0.5,2.4M501.4,918.2l-2.3,-0.6M501.8,916.8l-0.7,0.9M502.9,916.9l0.8,-0.8M503.4,917.3l-1.9,-0.4M503.4,915.8l-0.8,-1.4" stroke-width="1.4" stroke-opacity="1" stroke-linecap="round"/>
<path d="M613.2,1008.6 L613.6,1011.2 L615.4,1013.0 L615.4,1016.1 L614.7,1019.0 L612.4,1021.2 L610.2,1023.5 L609.8,1025.7 L608.5,1027.5 L607.3,1029.4 L608.3,1032.3 L608.0,1035.4 L608.4,1038.3 L608.7,1041.3 L606.6,1043.1 L605.8,1045.8 L605.0,1048.3 L605.0,1051.0"/>
<path d="M615.4,1017.5 L619.2,1019.0 L620.8,1021.1 L622.1,1023.5 L625.0,1022.3 L628.1,1022.0 L631.8,1023.5 L631.4,1025.8 L632.5,1027.9 L631.7,1030.6 L629.6,1032.4 L626.4,1032.9 L623.6,1034.6 L622.1,1037.6 L624.0,1039.6 L626.6,1040.6 L629.2,1041.4 L631.1,1043.5 L632.7,1046.3 L635.5,1048.0"/>
<path d="M611.7,1051.0 L612.5,1048.3 L612.5,1045.5 L613.2,1042.8 L614.6,1040.5 L616.2,1038.3 L617.1,1036.2 L617.7,1033.9 L617.0,1030.9 L616.2,1027.9 L617.7,1024.9"/>
<path d="M622.1,1007.1 L624.1,1005.2 L625.1,1002.6 L627.5,1002.5 L629.6,1001.1 L630.6,1003.3 L631.1,1005.6 L630.8,1008.0 L628.6,1009.4 L628.1,1011.6 L625.8,1012.1 L623.6,1013.0 L623.1,1010.0 L622.1,1007.1"/>
<path d="M592.4,974.4 L592.0,971.3 L593.1,968.4 L594.6,964.7 L596.5,966.9 L596.8,970.0 L595.7,972.9 L594.5,975.7 L594.6,978.8 L593.3,976.7 L592.4,974.4"/>
<path d="M503.1,914.9 L503.8,911.9 L504.6,908.9 L506.3,907.3 L506.1,904.7 L507.6,903.0 L509.9,902.8 L512.1,902.2 L514.6,902.7 L516.5,904.5 L517.9,906.8 L519.5,908.9 L522.5,905.9 L524.8,905.6 L526.9,904.5"/>
<path d="M507.1,436.8l2.4,-0.5M506.2,438.0l0.7,-2.0M508.7,439.7l-1.2,2.3M504.8,438.9l1.0,0.4M509.7,441.3l1.6,-0.5M505.3,439.9l-2.1,-0.4M507.3,441.1l1.4,-0.4M507.1,441.4l0.8,1.0M505.2,441.0l-1.0,0.5M504.4,441.4l2.1,0.6M507.8,443.2l-2.1,1.1M506.8,443.1l-1.6,1.1M503.7,442.3l0.5,1.2M506.9,444.0l-0.2,-1.1M503.4,443.3l-0.6,1.7M505.5,444.5l-0.4,2.2M504.4,444.5l-0.5,1.8M504.2,444.8l-1.0,-1.4M507.4,446.5l0.8,1.1M504.2,445.6l-1.4,2.2M506.4,446.8l0.5,1.1M506.1,447.5l0.8,-2.1M504.0,447.1l-1.0,-1.5M505.3,447.8l1.6,-0.6M502.7,447.9l1.1,-1.3M504.2,448.6l-0.0,1.4M503.1,448.7l-2.7,-0.2M505.9,451.3l2.5,-0.4M503.9,451.9l1.2,1.6M505.6,452.7l1.4,-1.5M502.8,452.7l-0.4,2.5M502.3,453.0l-1.5,-0.5M503.1,453.5l-2.4,-0.4M504.8,454.3l-0.8,2.3M502.1,454.0l1.1,0.2M504.9,455.5l-2.7,0.5M502.3,455.2l-1.7,0.9M500.3,455.1l-1.4,-0.8M504.2,456.4l2.3,-1.0M501.7,456.2l-1.3,-0.4M500.9,456.3l1.1,1.7M504.9,457.7l1.1,1.9M504.6,459.1l1.8,-0.5M499.7,458.5l-1.4,0.2M504.0,460.2l-1.2,-0.7M500.2,459.8l-1.7,-1.5M500.1,460.5l-2.1,1.6M502.2,462.3l2.3,-1.5M498.8,462.0l-1.1,-2.3M501.0,463.4l0.6,-2.1M498.2,462.9l1.0,0.2M502.5,464.6l0.6,-1.0M502.1,465.2l0.1,-2.2M499.3,464.7l-2.6,-0.9M499.6,465.2l-1.7,0.4M498.5,465.6l2.1,-1.0M500.3,466.5l1.0,0.7M497.2,466.0l0.9,-1.0M497.0,467.0l0.6,1.5M497.7,467.6l-1.5,0.5M499.2,468.8l0.3,1.8M497.6,469.1l-1.0,0.0M498.1,469.9l1.3,-0.4M500.0,470.9l1.5,2.1M500.8,471.5l-0.3,1.9M499.2,471.4l1.5,-1.0M497.4,471.2l1.5,1.3M497.5,472.0l-0.9,2.2M499.1,474.0l-0.7,-2.4M497.7,473.9l-0.4,1.8M495.6,474.0l0.1,-1.5M497.0,475.2l-2.2,-0.4M494.8,474.9l0.8,1.3M493.8,475.7l2.6,0.6M499.0,477.6l0.1,-1.3M498.3,478.2l-0.7,0.9M496.9,478.1l-0.1,-1.9M493.4,477.9l1.6,-1.2M497.4,480.0l-0.6,1.3M494.8,479.3l-1.1,2.1M493.5,479.1l2.2,1.3M494.4,479.9l0.2,2.2M493.8,480.0l-1.1,-0.6M493.5,480.3l2.1,0.2M493.6,480.7l-0.9,1.6M493.2,481.0l1.7,0.8M494.0,481.7l-0.1,1.4M492.1,481.3l-1.7,2.0M493.8,482.7l2.7,0.1M493.7,483.5l-2.2,0.1M491.4,482.9l-0.8,-0.8M492.1,484.3l1.7,-2.0M491.2,484.4l0.0,2.4M490.6,484.9l0.9,-2.6M491.2,485.9l-0.8,-1.5M492.4,486.8l0.3,1.4M491.3,488.3l-0.5,-0.9M489.0,487.7l0.5,1.8M492.8,489.7l0.5,-0.9M488.5,489.4l-1.3,1.3M489.7,490.4l0.8,0.6M492.2,492.7l0.6,-1.3M488.7,491.4l-0.8,1.8M487.9,491.3l0.5,-2.0M490.9,494.4l-1.1,2.1M490.6,494.6l0.1,1.9M490.8,495.2l-1.2,0.4M487.0,493.3l0.4,-1.5M485.6,492.7l-1.3,-1.1M485.4,493.4l-0.6,1.6M486.6,494.7l1.7,-1.5M484.8,493.8l-0.3,-1.9M486.3,495.8l0.5,-2.3M486.4,496.8l-0.2,2.1M486.3,497.1l-2.0,-0.5M486.8,498.4l0.5,1.1M485.7,498.9l2.1,-1.4" stroke-width="1.4" stroke-opacity="1" stroke-linecap="round"/>
<path d="M468.3,518.8l0.0,1.9M467.3,518.3l-2.2,0.4M467.6,519.1l-0.6,1.0M467.4,519.4l0.8,-2.5M464.2,516.7l1.2,-1.8M463.9,516.9l0.9,0.5M462.9,517.0l0.0,-1.1M463.8,518.4l1.3,1.7M465.3,520.4l-1.4,0.2M462.9,519.0l-0.8,-0.8M462.5,520.2l-2.4,0.1M463.6,521.8l-1.4,-0.1M462.3,521.0l1.6,-1.7M462.1,521.3l-1.8,-1.0M461.8,521.6l-1.0,-2.4M460.4,520.7l-0.5,-1.1M462.1,522.9l-1.1,1.5M458.2,521.7l-0.2,-1.7M458.5,522.1l1.1,1.8M458.6,522.9l0.5,-1.5M459.0,523.3l-1.4,0.8M459.3,523.8l2.1,-1.6M461.3,525.0l1.4,0.1M462.3,525.6l-1.2,0.2M460.8,525.6l0.0,2.2M463.0,526.5l1.2,-2.0M461.4,526.9l-0.4,-1.2M459.6,527.2l1.4,0.5M457.0,526.9l1.3,1.6M457.0,527.2l-0.0,-2.5M461.0,529.0l1.9,0.5M461.3,529.4l1.2,2.4M456.5,528.9l0.7,1.1M457.4,529.5l2.0,1.4" stroke-width="1.4" stroke-opacity="1" stroke-linecap="round"/>
<path d="M461.8,540.9l-0.6,0.9M461.9,541.5l-2.4,-0.1M463.5,543.6l0.6,2.5M461.1,542.2l1.8,0.4M460.7,542.3l-0.4,-2.2M463.5,545.7l-1.4,-1.7M459.8,542.5l1.3,-1.0M460.4,543.6l1.9,-1.0M459.6,543.3l-1.1,0.1M460.9,545.1l-0.9,1.5M461.1,545.8l-0.0,-2.6M458.5,543.8l1.4,1.4M460.7,547.4l2.0,-0.5M459.6,546.9l1.5,1.3M457.1,544.9l-1.2,-2.0M457.4,545.7l1.9,2.1M457.8,546.6l0.4,1.1M458.5,548.8l-2.4,0.2M455.5,546.3l2.0,1.3M456.4,547.8l-1.1,-0.2M456.0,547.9l0.8,-0.8M455.2,547.6l1.9,1.7M457.2,550.6l0.9,1.1M454.8,548.7l1.8,-0.8M454.7,549.3l1.8,0.0M456.0,552.2l0.4,-1.1M454.5,550.3l-1.0,-0.2M453.7,549.7l-1.0,0.7M454.3,551.5l1.1,-0.0M454.9,553.2l-2.6,-0.9M452.9,551.2l-1.7,2.1M453.1,553.0l-1.8,0.8M451.9,551.6l1.5,0.9M451.4,552.3l0.1,-2.5M450.2,551.6l0.7,2.0M451.5,554.5l0.7,1.5M448.7,551.3l2.3,1.5M448.2,551.9l1.7,-0.7M447.8,552.5l-1.4,-1.9M449.6,556.3l-2.1,-0.3M449.0,556.0l-2.5,-1.1M446.8,552.9l2.1,-0.5M447.7,555.2l-1.2,0.2M447.8,556.0l1.2,2.3M445.7,553.2l-2.4,-1.0M446.7,557.0l-1.4,-0.6M444.8,555.4l-0.9,1.5M443.2,553.9l1.6,-0.1M443.9,556.6l0.8,2.3M442.9,555.8l1.9,-1.0M443.4,557.1l1.2,1.3M444.4,559.0l1.7,-0.2M443.2,558.0l1.9,0.8M443.7,559.3l-1.7,-2.0M441.7,557.1l-1.6,-0.9M443.9,560.7l-1.2,1.6M440.1,556.2l-1.4,2.1M441.0,559.2l0.7,-1.0M442.5,561.8l-1.8,0.1M439.9,560.1l1.9,1.4M440.8,561.9l0.8,-0.8M439.4,560.6l1.2,-0.0M438.0,559.3l-1.4,2.3M439.7,562.2l-0.9,2.4M437.9,560.3l2.1,-1.8M438.0,561.6l0.2,1.2M436.8,560.6l-1.1,-0.6" stroke-width="1.4" stroke-opacity="1" stroke-linecap="round"/>
<path d="M434.2,567.9l2.1,-1.1M432.2,563.9l1.4,-0.2M433.3,567.6l-1.4,-1.5M431.9,565.0l-1.5,-0.3M431.4,566.8l1.5,1.8M430.5,565.3l-1.3,-2.4M430.6,566.5l2.4,-0.4M431.2,568.9l1.0,-0.5M428.6,569.3l2.1,1.1M428.5,569.9l-1.4,-0.5M426.8,566.5l-1.7,-1.6M426.9,568.8l-1.5,0.7M425.4,568.0l0.2,1.0M423.9,567.0l-0.3,-1.5M423.1,567.8l-1.4,0.6M423.4,569.8l-1.5,-0.3M422.8,569.6l-0.5,-2.2M421.8,568.9l1.2,0.1M422.5,570.3l-1.4,-0.2M424.0,572.7l2.7,0.6M421.4,570.6l-2.0,-0.1M419.2,571.3l-1.1,2.4M419.0,573.3l0.2,-1.1M418.6,573.3l-0.3,-1.6M417.5,573.6l1.4,-0.9M417.8,574.6l0.8,-1.3M417.8,575.1l-0.7,-1.0M416.2,574.2l-0.9,0.5M416.4,575.1l2.3,1.5M416.5,575.7l1.4,0.3M415.6,575.2l0.9,1.7M415.6,575.8l-0.7,-1.8M414.5,576.1l-2.4,0.2M413.4,575.8l0.3,2.2M413.2,576.1l-1.7,0.6M414.3,578.1l0.3,2.2M414.1,578.9l1.4,-0.6M412.8,577.9l-1.9,1.9M413.4,579.7l0.9,1.6M411.7,578.2l0.8,-0.7M413.2,580.6l-0.5,1.2M412.1,579.9l-0.4,-2.7M410.7,579.2l1.4,1.5M411.4,581.7l1.8,-1.3M409.4,580.4l2.3,0.3M410.8,583.2l-0.3,-2.8M409.2,582.4l1.0,-2.5M409.3,583.0l1.8,-0.0M408.7,582.9l-0.4,-2.7M406.7,581.0l-1.4,1.0M406.0,584.6l1.9,0.1M406.9,586.3l1.6,-0.1M405.3,585.4l0.5,-2.2M405.6,586.9l1.2,-2.1M403.8,585.2l0.6,-1.8M403.8,585.8l-0.2,-2.3M402.6,584.8l-1.6,1.6M402.0,584.5l2.2,-0.9M403.3,586.9l-1.9,0.8M402.5,586.4l1.0,-0.5M400.5,585.0l-0.4,-2.3M402.6,588.9l1.6,-2.0M400.9,587.8l-1.6,-0.2M400.8,588.2l2.1,-0.3M399.0,587.6l-1.5,1.4M398.8,587.9l-0.7,2.1M398.4,588.0l-2.2,0.1M400.1,591.5l1.5,-1.2M396.1,588.4l-1.8,1.5M397.2,591.1l-1.1,1.2M395.6,589.6l2.6,1.0M395.7,590.8l-0.7,2.3" stroke-width="1.4" stroke-opacity="1" stroke-linecap="round"/>
<path d="M411.3,433.6l0.3,1.4M410.0,433.5l0.4,0.9M409.9,434.0l0.8,1.8M410.4,435.5l-0.1,-1.6M410.1,437.1l1.1,-1.7M408.1,434.5l-2.5,-0.8M407.0,433.4l-1.3,-1.2M408.6,438.1l-1.2,-1.2M406.2,434.8l1.7,1.9M407.3,437.4l1.2,0.3M406.3,436.4l1.2,-0.5M406.4,437.3l-1.0,-1.3M406.6,439.1l-2.0,-1.1M406.3,439.2l-0.5,-1.0M404.5,438.2l1.1,0.4M402.9,436.4l2.0,-1.3M403.3,438.4l-1.1,-1.6M402.1,437.1l-0.5,1.6M402.2,439.4l-1.1,0.8M400.9,438.2l0.7,1.7M401.2,439.2l0.2,-1.2M402.2,441.0l-1.3,-1.8M401.8,441.0l-0.5,1.5M400.0,441.0l0.6,1.7M399.6,441.7l0.8,2.4M399.0,441.6l2.1,0.7M397.8,440.6l-0.4,-2.3M399.2,442.9l-0.9,-0.6M398.1,443.2l1.8,0.9M398.3,444.6l-0.7,-1.7M395.0,441.6l1.1,-1.1M396.0,443.4l-2.4,0.8M395.4,444.4l-2.0,-0.6M394.2,443.4l-1.2,0.4M393.9,444.1l-0.1,-2.1M394.6,446.1l1.1,1.8M395.3,447.6l0.9,1.0M393.7,446.1l-1.0,0.2M394.0,447.1l0.9,0.6M393.3,446.8l0.9,1.6M392.0,445.7l1.1,-1.1M391.0,445.0l1.9,1.1M390.5,445.9l1.4,1.8M390.8,448.2l1.0,-1.4M392.2,450.2l0.4,1.2M390.6,449.6l2.2,-0.4M391.2,450.7l-1.0,1.1M387.6,448.2l-0.1,1.1M387.8,449.3l-1.2,-0.9M386.5,449.1l-2.5,-1.0M387.1,450.7l-0.3,-2.2M386.8,451.0l0.1,-1.3M388.8,453.4l-1.1,-0.3M385.0,450.7l-0.2,-1.8M386.7,452.9l-2.0,-1.6" stroke-width="1.4" stroke-opacity="1" stroke-linecap="round"/>
<path d="M392.5,458.1l-1.1,-1.9M388.2,462.1l-0.6,-1.0M390.0,461.7l-0.9,2.5M391.0,461.7l-2.7,-0.1M388.9,463.0l-0.3,-2.0M394.1,462.4l0.4,2.1M390.9,464.0l-1.0,1.4M392.1,465.1l2.7,-0.2M390.3,466.6l1.2,0.3M391.4,466.9l-0.5,-1.2M391.8,469.1l2.1,-0.9M394.4,468.4l-0.5,-1.6M394.1,468.9l1.2,1.4M392.9,470.1l0.6,2.6M393.6,470.0l-0.8,-1.1M394.1,470.6l0.7,1.7M396.1,470.5l0.8,-0.8M395.4,471.4l-0.9,0.4M393.9,472.8l-1.5,0.4M398.1,470.5l2.2,1.2M397.1,472.0l1.4,0.7M395.2,473.7l-2.5,-0.1M399.1,471.9l1.5,1.7M395.0,475.1l1.0,0.4M397.1,474.5l-1.0,-0.7M398.3,474.2l-0.2,-2.4M397.8,475.4l1.1,-0.7M396.9,475.3l1.0,-0.0M397.0,476.1l0.6,-1.0M398.0,477.0l0.1,-2.3M398.7,477.8l0.2,-2.3M395.4,476.5l1.4,-0.5M394.1,477.0l-1.1,2.5M393.5,477.1l1.8,-1.6M396.1,478.8l-2.1,-1.3M393.6,478.0l0.4,1.9M397.4,480.3l-0.3,1.1M394.8,479.4l-1.9,1.5M394.3,479.5l1.4,0.8M396.9,481.2l0.7,-1.0M395.6,481.0l-1.2,-2.3M391.7,480.6l0.1,-1.5M394.0,482.2l0.7,-1.0" stroke-width="1.4" stroke-opacity="1" stroke-linecap="round"/>
<path d="M420.3,381.6l-1.9,1.3M420.5,383.0l0.8,-0.8M420.7,384.0l0.9,2.3M421.5,381.2l1.8,0.1M422.3,380.5l-0.6,2.5M422.8,382.1l-2.0,1.1M423.1,382.0l-1.4,-0.0M423.2,383.6l-1.1,-0.0M423.7,383.0l0.2,1.7M424.7,381.5l0.8,-0.8M425.1,383.1l-1.7,-0.5M426.5,381.3l0.8,2.5M427.4,382.6l-0.7,-1.9M428.0,382.8l-1.0,-2.5M428.1,384.6l1.7,1.4M428.5,384.3l-0.4,1.3M428.8,384.4l-0.6,-2.6M429.6,381.9l0.5,-1.4M430.1,383.5l1.4,0.3M430.5,385.3l0.7,-1.8M431.5,383.6l-1.1,-0.2M432.1,384.4l-0.2,1.7M432.6,383.3l1.0,1.9M432.9,386.1l1.1,0.9M433.6,383.7l-2.6,0.2M433.9,384.6l-1.0,-1.0M434.3,384.1l1.8,-1.6M434.9,382.7l-1.5,1.9M435.0,384.0l-0.7,-0.8M436.1,384.3l0.9,-1.2M436.7,384.9l-1.3,1.0M438.2,384.8l-1.7,1.9M438.4,385.7l0.9,1.8M438.6,386.7l-1.8,2.0M439.6,385.3l2.0,-0.9M440.8,386.6l-1.4,-1.7M441.2,386.4l-1.6,-0.3M443.2,387.5l1.8,-1.2M443.8,385.7l2.5,0.7M444.7,387.1l1.7,0.2M445.1,386.3l-1.3,1.7M446.6,384.9l2.5,0.2M446.3,386.2l1.2,0.2M445.8,388.0l1.5,0.5M446.7,387.0l0.4,2.1M448.2,386.5l1.2,0.9M449.0,385.7l0.5,-1.4M449.2,388.3l1.3,-1.7M449.4,389.5l-1.6,-0.3M450.4,388.4l0.9,2.0M451.5,388.6l0.1,-1.2M453.4,387.8l-0.4,-1.2" stroke-width="1.4" stroke-opacity="1" stroke-linecap="round"/>
<path d="M460.3,815.2l2.1,1.8M461.1,816.0l-1.6,1.6M460.6,817.5l-1.7,0.7M461.3,817.8l-1.3,2.3M464.9,814.7l-1.2,-0.8M464.8,815.3l-0.4,-2.3M466.0,815.2l-1.0,-0.6M462.7,819.5l0.9,-2.0M466.0,817.3l2.1,0.9M466.1,818.7l1.5,-0.8M464.2,821.1l0.2,-2.6M468.3,820.3l-1.9,0.1M464.5,819.7l-0.0,2.7M467.4,820.8l0.7,-1.2M466.5,821.3l-1.4,0.3M468.4,823.2l-2.2,0.9M462.8,822.2l2.2,-0.2M466.0,823.3l1.6,0.7M467.1,824.3l-2.5,-0.6M465.5,824.7l0.3,2.4M465.3,825.0l1.1,-1.1M462.1,824.6l-0.7,1.8M464.0,825.8l-2.2,1.2M463.6,825.5l-2.0,-1.0M466.1,827.8l-1.0,1.2M462.9,825.9l-1.8,-0.3M465.6,828.8l-0.2,-1.1M461.1,826.3l1.1,-1.3M463.5,828.5l0.2,-1.8M461.1,828.6l-2.0,0.1M460.0,828.2l2.0,-0.2M463.8,831.4l-2.4,-1.1M460.3,829.3l-0.1,2.3M461.0,830.2l0.2,-1.0M462.2,832.1l-0.7,1.9M462.6,833.3l0.3,2.1M459.1,831.1l-0.2,-1.6M461.9,833.6l-1.7,-1.4M459.1,832.0l1.8,2.1M457.7,831.4l-0.7,-1.2M458.1,833.3l0.1,-2.2M456.5,832.9l1.5,-1.0M460.2,835.9l0.1,1.9M459.8,836.1l-0.1,-1.0M456.9,835.5l-0.1,1.9M460.5,837.7l1.1,-1.2M455.4,835.6l-1.4,1.4M458.0,837.3l1.8,-1.8M459.5,839.3l1.5,1.6M457.6,838.7l-0.3,-1.4M458.5,840.0l0.2,-1.3M456.3,840.1l0.3,1.2M455.4,840.5l-1.0,1.1M454.2,840.3l-1.2,0.5M456.7,842.4l1.1,1.7M452.7,841.2l-0.7,-2.4M455.1,842.8l1.2,0.8M452.3,842.2l1.3,-2.3M454.7,843.8l0.8,-1.4M456.7,845.2l-1.9,-0.4M455.2,844.9l-0.9,-1.0M455.4,846.2l-1.4,-0.7M452.2,845.0l-1.4,-0.5M451.9,845.3l1.4,-0.8M454.5,847.0l-2.0,0.4M452.2,846.3l-1.0,-0.3" stroke-width="1.4" stroke-opacity="1" stroke-linecap="round"/>
<path d="M478.6,831.1l1.2,1.6M479.2,834.2l1.9,-0.9M482.1,831.8l-2.3,0.3M484.0,832.3l-1.8,0.9M484.6,832.7l-0.2,-1.3M483.9,835.5l0.2,-1.4M485.8,835.1l-1.8,-1.2M486.8,835.7l-1.6,-0.4M485.6,837.0l1.1,-1.0M484.0,839.3l-0.1,1.5M485.1,839.1l-0.6,-1.6M485.8,839.1l-1.0,1.7M488.5,838.2l1.1,-2.3M487.9,839.0l-2.2,1.1M485.4,838.4l2.2,1.4M486.4,839.9l2.3,-0.4M484.6,839.2l1.2,-0.9M485.8,841.9l0.3,-2.0M485.1,842.3l0.7,1.3M483.0,841.2l0.7,-1.9M485.9,844.6l1.8,1.7M481.8,842.1l-1.5,0.6M483.7,846.0l0.6,1.3M481.8,844.7l-0.5,1.3" stroke-width="1.4" stroke-opacity="1" stroke-linecap="round"/>
<path d="M571.7,849.5l2.0,0.1M569.4,851.1l1.8,0.3M571.3,851.0l1.5,-2.3M570.5,853.0l-2.1,1.2M572.0,852.6l-1.9,0.6M573.4,852.8l-2.0,1.7M571.2,854.3l-2.0,-1.5M571.0,854.8l2.6,-0.8M572.4,854.5l-1.4,-1.9M571.2,856.4l-0.8,1.1M572.0,856.3l0.7,1.3M573.0,856.2l-2.4,1.4M572.4,857.0l-1.6,1.2M572.9,857.5l-0.8,1.1M574.9,856.6l-0.2,1.0M573.1,858.3l1.8,1.6M573.1,858.7l-2.2,1.0M573.8,859.1l-0.2,2.3M575.3,858.5l2.7,0.6M575.4,858.9l1.0,-0.5M574.9,859.7l-1.0,-2.2M576.7,859.4l0.2,1.0M574.7,861.2l0.9,-0.7M573.8,862.2l-1.5,-0.9M577.4,860.2l0.4,2.1M575.8,861.7l0.4,-0.9M576.4,861.8l-1.8,-1.5M577.1,862.2l-1.3,-1.3M576.5,863.5l-0.9,-1.6M576.3,864.0l-2.3,-1.6M577.2,863.8l2.4,-0.4M578.2,863.6l0.8,1.6M577.9,864.3l-0.1,1.9M579.5,863.7l-1.2,-1.9M579.1,864.4l1.8,0.4M578.1,865.9l-0.9,-0.7M578.6,866.0l2.0,-1.0M579.8,865.6l1.5,1.6M581.0,865.7l-0.4,2.2M577.8,868.1l-0.8,0.7M577.9,868.4l-0.3,-1.1M580.4,868.0l-1.0,0.1M581.2,868.5l2.0,0.4M581.7,870.6l-1.5,-0.9M583.0,870.6l1.5,-1.6M581.2,871.6l0.9,-0.9M579.3,872.9l0.8,-2.6" stroke-width="1.4" stroke-opacity="1" stroke-linecap="round"/>
<path d="M502.4,809.1l-0.7,1.5M501.5,810.8l1.5,-1.0M502.5,812.1l-0.5,-1.2M503.1,812.5l2.1,1.6M501.4,814.4l1.0,1.0M502.0,814.9l-0.8,-1.2M499.9,814.9l0.5,-2.6M501.3,815.9l1.2,-2.1M501.3,816.2l-0.9,-0.5M500.2,816.4l-0.9,-1.6M502.6,817.9l-0.1,-2.4M499.9,817.8l1.1,-2.0M499.0,818.8l-2.3,0.7M500.4,819.8l2.0,1.2M501.3,820.1l-0.4,2.4M500.0,821.0l1.0,2.2M500.9,823.0l-1.4,-0.6M500.2,823.5l1.1,-2.5M500.7,824.5l-1.6,-2.2M502.5,825.0l2.3,0.7M502.1,825.4l1.8,0.6M500.9,826.3l0.1,-2.2M501.3,827.0l-2.4,-1.4M500.5,827.9l-1.1,-1.1M503.4,828.1l1.4,-1.2M502.4,829.0l0.2,2.4M502.9,829.6l0.3,1.3M504.1,830.2l-1.4,1.2M503.0,831.1l2.3,-0.4M503.1,831.4l0.2,1.3M502.2,831.9l1.5,1.1M502.4,832.3l-1.2,1.8M503.4,832.8l1.2,0.7M501.2,834.3l1.4,-0.9M503.8,835.0l-0.3,-1.8M503.1,835.4l1.4,1.2M504.7,835.5l-2.2,-0.3M502.9,836.6l-2.4,1.3M505.5,836.5l-2.0,-0.9M504.1,837.1l-0.8,1.2M503.6,838.3l-1.2,0.3M505.6,840.6l0.4,-1.1M503.1,841.0l1.1,0.4M501.9,841.8l0.3,-1.4M503.8,842.9l-0.5,1.3M504.5,843.4l1.0,2.4M503.3,843.5l0.8,-2.1M501.7,843.6l2.3,-1.0M502.1,844.1l-0.7,-0.8M502.6,844.5l-2.6,-0.7M501.5,845.8l2.4,0.0M503.1,846.4l-1.1,0.4M503.9,847.6l0.3,-1.9M503.6,848.0l1.4,-0.5M503.0,848.2l1.9,-1.6M502.1,848.4l1.1,0.2M502.1,848.8l0.7,0.8M504.3,849.9l1.0,0.6M502.2,849.9l-0.8,-1.3" stroke-width="1.4" stroke-opacity="1" stroke-linecap="round"/>
<path d="M524.6,809.6l1.6,1.3M523.6,810.6l0.5,1.9M525.5,809.9l-0.2,2.1M525.8,811.4l-0.9,1.2M525.7,812.7l-0.9,1.9M526.0,813.0l-1.6,0.0M528.6,811.8l2.1,1.5M527.5,812.9l-0.5,-0.9M525.9,814.7l-1.9,0.8M527.8,814.4l-0.0,-2.4M528.7,815.1l-1.1,-0.1M528.5,816.0l-0.1,1.3M530.5,817.8l0.4,2.0M528.8,819.2l0.2,1.5M531.2,819.0l-0.1,-1.3M530.1,820.5l2.4,1.2M532.7,819.8l2.1,-1.3M530.7,821.4l-1.3,-0.7M533.3,820.7l1.4,-1.8M532.5,821.5l-0.7,-1.5M532.4,822.1l1.1,-0.4M532.7,822.3l2.8,-0.3M532.3,822.9l0.9,1.0M533.0,822.9l2.7,-0.1M531.8,824.0l-0.4,-1.1M531.9,824.8l1.8,1.9M534.1,824.7l0.1,-2.0M534.0,826.5l-2.1,-1.5M535.1,826.2l0.6,-1.3M534.0,827.3l-1.1,-1.5M534.5,827.4l-1.2,0.7M536.8,826.5l1.3,-2.0M536.4,828.0l1.0,-0.0M537.5,827.7l0.7,1.3M535.4,829.8l-1.2,0.6M536.8,829.4l-1.1,1.5M537.5,829.4l-1.2,-0.0M537.3,831.2l1.1,0.6M537.9,831.3l0.7,1.3M536.8,832.3l1.4,1.8M538.2,832.3l-1.2,2.1M538.2,833.1l1.2,1.4M539.1,833.0l-1.3,-1.9M540.8,832.4l-2.5,0.8M541.7,835.6l-0.5,-2.0M542.6,836.3l-0.7,-1.0M542.4,836.9l-1.8,1.3M540.8,839.1l-0.7,-2.5M544.9,839.1l-0.5,-2.5M544.5,839.8l-2.3,0.9M544.9,840.4l0.6,2.3M542.7,842.1l-1.1,0.7M545.5,840.9l0.8,-0.7M544.8,841.7l1.4,0.3M543.7,843.6l2.1,-1.4M544.5,845.7l0.1,-1.8M546.6,845.6l-2.4,-1.3M545.1,846.6l-1.5,-2.2M545.9,846.7l2.0,-1.7M547.1,848.1l2.7,-0.4M548.0,848.1l0.2,2.5M546.4,849.1l0.5,1.5M547.4,849.5l-0.4,2.3M547.2,850.0l-0.1,2.7M547.3,850.3l2.6,0.5M547.6,851.7l-1.0,0.9" stroke-width="1.4" stroke-opacity="1" stroke-linecap="round"/>
<path d="M491.7,783.9l-0.7,-0.9M492.0,784.0l1.1,2.1M490.2,787.3l-0.4,2.4M491.8,787.6l1.7,-0.9M493.7,785.3l-0.1,2.7M493.6,786.2l-1.0,-0.2M495.1,786.0l2.0,-1.4M493.6,789.4l-0.7,-0.8M494.7,789.8l-1.8,-1.2M496.5,787.8l0.3,-1.0M497.1,787.5l-1.1,-0.6M496.1,790.3l2.4,-1.4M497.4,789.1l0.4,-1.5M497.4,790.4l-0.1,2.3M498.1,789.9l-0.4,-2.5M499.0,789.3l0.6,2.3M499.5,791.1l1.6,0.1M499.4,792.5l0.4,1.7M500.4,792.6l-0.9,0.6M500.8,792.7l1.0,-2.0M503.8,792.3l1.0,0.6M504.0,792.7l-2.3,-1.0M503.3,795.0l0.7,-1.2M505.4,792.4l0.3,1.3M505.8,792.4l0.9,-2.4M506.5,792.7l1.0,-1.3M505.6,795.3l-1.6,-0.3M506.9,793.4l-0.6,-2.6M507.1,793.9l-1.5,-0.2M506.9,795.1l-0.1,1.2M506.7,796.4l1.3,1.5M507.1,797.2l0.5,-2.7M508.5,796.0l-2.4,0.8M510.7,795.9l0.6,1.3M509.0,798.9l-2.3,-0.8M510.4,797.6l0.4,2.6M510.9,797.5l-0.1,-2.6M511.5,797.9l0.8,-1.6M511.6,798.3l-0.5,1.4M511.8,799.2l-0.4,1.1M513.6,799.9l1.2,-2.1" stroke-width="1.4" stroke-opacity="1" stroke-linecap="round"/>
<path d="M527.2,780.1l0.6,-0.9M526.9,781.5l-0.7,-2.1M528.2,781.4l1.1,1.1M527.2,784.1l-1.7,-0.9M527.7,784.1l0.1,2.4M529.1,782.0l1.3,1.5M528.9,783.2l-0.3,-1.4M529.4,783.2l-1.5,1.1M530.3,782.1l1.7,1.6M530.6,785.6l-1.8,-0.4M531.9,783.8l1.7,-0.2M532.1,785.0l-0.2,1.4M532.8,784.4l-1.1,-1.4M532.3,786.1l-2.2,0.9M534.2,784.7l1.7,-1.3M535.9,786.6l1.9,-1.7M536.1,787.4l1.3,-0.4M537.0,787.0l-0.6,1.7M536.5,788.0l1.6,0.4M536.9,788.6l1.8,-1.2M539.0,788.1l1.9,0.7M539.2,788.9l0.1,-2.0M539.4,789.1l-1.9,-0.7M538.2,791.9l-0.8,1.6M538.5,792.1l-1.1,0.4M540.7,790.5l1.1,0.1M540.1,791.6l1.2,0.0M542.9,792.6l1.5,1.9M543.0,793.4l-1.7,-2.1M540.5,795.7l-1.3,-0.3M541.6,795.3l1.2,-0.6M543.7,794.3l0.4,1.4M543.6,794.8l-0.7,-1.2M543.2,795.5l0.5,1.0M544.8,794.8l-0.5,-1.0M542.1,797.2l-1.2,-1.0M543.8,796.4l-0.5,1.0M545.0,796.0l0.4,1.5M543.7,797.4l0.6,1.8M543.7,798.3l0.3,-1.8M546.1,796.9l-0.6,-1.6M546.2,797.3l1.1,2.4M544.0,799.4l0.8,-1.2M543.9,799.5l0.2,2.1M545.9,799.4l2.5,-0.7M547.8,799.7l2.6,0.4M545.1,802.6l-0.2,1.3M545.2,803.0l1.5,-0.6M546.0,803.0l0.9,-2.5M548.2,802.3l-2.7,-0.2M547.7,803.7l1.8,-1.0M547.6,805.1l-0.6,-1.7" stroke-width="1.4" stroke-opacity="1" stroke-linecap="round"/>
<path d="M476.6,767.1l-2.4,-0.8M477.4,767.1l-0.1,2.4M478.7,767.1l1.3,1.6M479.1,767.6l-1.8,-1.1M478.9,768.3l-0.8,1.2M478.2,769.6l-1.3,-0.4M478.5,769.8l1.7,-2.0M479.7,769.5l1.1,0.8M478.8,770.5l1.8,-1.0M479.8,770.3l0.9,1.2M480.5,770.8l1.7,-1.3M481.0,771.3l0.1,-1.0M482.7,771.4l0.3,-1.3M482.0,773.2l-0.7,-1.4M483.3,773.1l-1.0,-2.4M484.4,774.8l0.3,1.2M484.2,775.7l-0.4,1.5" stroke-width="1.4" stroke-opacity="1" stroke-linecap="round"/>
<path d="M684.0,348.2 L680.8,350.8 L678.3,350.7 L676.2,351.9 L672.7,353.1 L672.2,356.6 L671.0,358.8 L671.6,361.2"/>
<path d="M684.0,360.9 L680.8,360.6 L678.4,360.4 L676.2,361.2 L673.9,361.4 L671.6,361.2"/>
<path d="M671.6,361.2 L668.1,362.3 L664.6,364.6 L662.3,368.1 L659.8,368.8 L657.7,370.4 L654.3,371.6 L652.3,373.4 L649.6,373.9 L646.2,376.2 L645.0,378.5 L647.3,380.8 L649.6,384.3 L651.9,387.7 L653.8,389.7 L654.3,392.3 L655.6,394.5 L655.4,397.0 L656.3,399.2 L656.6,401.6 L658.9,405.0 L659.6,407.9 L659.5,410.8 L659.1,413.8 L660.0,416.6 L659.5,418.9 L658.9,421.2 L661.2,423.5 L664.6,424.7 L666.0,426.8 L668.1,428.1 L669.3,429.3 L671.6,427.5 L673.9,425.8 L676.1,423.9 L678.5,422.4 L682.0,420.0 L682.3,417.7 L683.1,415.4 L682.9,412.9 L684.3,410.8 L684.8,407.9 L685.4,405.0 L686.9,403.0 L687.7,400.7 L687.7,398.1 L689.0,396.0 L688.9,393.5 L690.1,390.8 L692.4,388.9 L694.7,385.4 L694.0,383.1 L693.5,380.8 L691.2,378.5 L687.7,376.2 L685.4,373.9 L684.8,370.4 L680.8,369.2 L678.5,368.1 L676.2,364.6 L675.0,361.7 L671.6,361.2"/>
<path d="M660.0,379.6 L663.5,378.5 L665.8,381.9 L665.8,384.9 L667.0,387.7 L668.1,389.9 L668.1,392.3 L667.6,395.0 L665.8,397.0 L663.5,400.4 L661.2,403.9 L658.9,405.0 L656.6,401.6 L656.7,399.1 L657.7,397.0 L658.2,394.3 L660.0,392.3 L659.8,389.9 L658.9,387.7 L659.8,385.5 L660.0,383.1 L660.0,379.6"/>
<path d="M667.0,413.1 L670.4,414.3 L671.0,417.7 L669.3,420.0 L668.4,422.4 L669.3,424.7 L668.1,427.0 L666.4,423.5 L665.3,421.3 L665.8,418.9 L666.7,416.1 L667.0,413.1"/>
<path d="M700.4,373.9 L700.5,376.3 L701.6,378.5 L702.1,380.8 L701.6,383.1 L703.4,385.1 L703.9,387.7 L707.4,390.0 L710.2,390.8 L713.1,390.0 L714.7,387.9 L715.4,385.4 L715.9,382.8 L717.3,380.6 L718.9,378.5 L720.9,376.3 L722.4,373.9 L724.4,372.2 L727.0,371.6 L729.3,372.0 L731.6,372.7 L733.3,374.3 L734.5,376.2 L735.1,378.5 L736.8,376.2 L738.5,373.9 L740.9,371.6 L743.1,369.2 L745.3,367.3 L746.6,364.6 L745.2,361.9 L745.5,358.9 L743.1,355.4 L740.9,356.2 L738.5,356.6 L735.9,358.4 L732.8,358.9 L729.9,359.3 L727.0,360.0 L724.8,361.1 L722.4,361.2 L720.1,362.2 L717.5,362.0 L715.4,363.5 L712.5,364.4 L709.7,365.8 L706.7,366.1 L703.9,366.9 L700.4,369.2 L699.3,372.1 L700.4,373.9"/>
<path d="M630.4,393.4l1.1,-0.2M627.5,389.5l-1.4,-2.1M627.7,389.2l-1.4,-0.0M633.6,394.5l1.7,0.3M628.0,388.4l-2.3,-1.4M631.1,391.0l-0.8,-2.4M628.9,387.7l1.8,-1.0M633.7,391.6l0.9,0.8M631.0,388.3l-1.9,1.1M633.0,389.3l-1.4,0.9M629.2,385.0l-0.1,2.3M632.8,387.1l0.5,1.3M633.3,386.5l-1.8,-0.4M633.7,386.4l-2.4,1.1M634.4,386.1l0.5,2.7M634.9,386.0l1.8,0.1M631.8,382.5l1.1,1.5M634.1,384.3l1.5,0.5M633.0,382.6l-1.1,-0.8M637.5,386.6l1.9,0.2M639.8,385.8l0.1,-1.9M641.5,385.4l-1.2,1.5M638.5,382.5l1.1,0.1M638.3,381.4l1.9,1.8M642.1,383.5l-0.3,1.8M640.1,381.7l-0.5,-2.0M638.0,379.8l1.0,-0.3M641.2,381.5l2.5,-0.4M643.7,382.7l-2.0,0.5" stroke-width="1.4" stroke-opacity="1" stroke-linecap="round"/>
<path d="M641.9,377.6l-0.9,2.0M644.6,376.0l-0.9,2.7M641.9,378.9l1.8,1.6M647.1,375.9l2.1,1.9M645.7,377.4l-1.2,-0.3M646.3,377.9l-0.1,1.3M652.1,374.0l0.6,1.8M645.3,379.5l0.9,1.1M646.3,379.3l-0.5,1.3M649.6,377.2l-1.8,1.7M650.3,377.8l-0.0,-1.4M643.4,380.9l1.3,-0.8M649.2,379.0l0.6,2.3M645.4,381.7l1.2,-0.5M644.0,383.0l0.5,-1.7M654.6,379.6l-1.1,-0.1M645.9,383.5l-1.3,-0.7M649.3,382.5l-2.6,-0.2M650.5,382.4l-1.6,0.5M651.5,382.4l-1.3,-0.4M650.1,383.4l1.7,-0.7M655.7,381.5l-1.6,-0.2M650.9,383.8l-1.2,-1.1M656.1,382.9l-2.1,-0.3M654.2,384.1l-1.3,1.9M651.0,385.7l0.3,2.1M657.0,383.7l0.1,-2.4M654.6,386.3l-0.5,-1.7M656.4,385.9l-1.8,-1.4M655.7,387.0l-0.8,-0.9M652.3,390.0l0.2,-1.6M649.0,392.9l-1.8,-1.3M658.2,391.0l-1.3,-0.5M649.2,394.0l-0.7,1.2M656.0,392.7l2.1,-0.1M656.2,393.0l1.4,1.2M656.2,393.4l-0.8,-1.6" stroke-width="1.4" stroke-opacity="1" stroke-linecap="round"/>
<path d="M695.8,362.4l1.4,0.3M696.5,363.2l-2.5,-0.6M697.1,362.6l2.2,0.3M697.7,362.3l0.2,-1.9M696.2,356.6l1.8,0.9M696.6,356.7l-1.1,-0.2M698.2,360.3l1.1,1.6M699.1,361.8l0.6,2.6M699.6,359.9l2.5,1.2M698.9,355.5l1.3,1.0M701.7,360.3l2.0,0.1M700.2,354.6l1.9,-1.1M702.6,357.3l1.6,-1.2M703.0,356.2l1.4,0.1M702.9,354.0l2.2,0.8M705.7,359.6l-1.9,1.7M705.0,355.2l-1.4,-0.2M706.2,358.4l0.7,-2.7M706.4,356.3l-1.8,-1.1M707.7,355.7l1.6,0.3M707.2,352.3l-1.1,0.4M709.3,359.0l1.0,-0.6M708.3,352.3l-0.6,1.9M709.7,356.3l1.9,0.8M710.4,356.1l2.4,-1.0M711.4,357.3l-2.2,0.6M711.4,355.7l-0.2,-2.0M711.7,353.9l-1.0,-1.5M712.1,354.1l-0.5,2.1M713.3,356.0l-2.1,-0.4M712.8,350.9l-1.3,1.5M716.0,356.5l1.8,1.9M715.7,353.8l-0.7,-1.8M715.6,350.6l-1.2,-0.8M717.8,357.8l-1.5,-0.3M716.6,351.7l-0.0,1.2M717.5,350.5l2.6,-0.4M719.3,356.3l-2.6,-0.9M718.8,352.9l2.0,0.1M720.0,356.2l0.4,2.6M720.2,355.6l-0.6,-2.6M719.8,351.2l0.1,1.2M720.3,351.5l0.4,-0.9M721.0,352.9l1.2,1.9M721.8,354.7l1.3,2.3M720.9,349.5l0.8,1.1M721.7,351.2l1.6,-0.3M722.9,354.5l1.0,0.5M722.4,349.8l0.9,2.1M724.2,353.8l-1.3,0.3M723.8,350.8l-0.0,2.4M724.2,351.1l-0.1,-1.1M725.3,349.3l1.5,-2.3M726.8,354.0l0.4,1.1M727.5,354.0l0.8,-1.3M727.2,351.4l-0.0,-1.1M727.7,350.2l0.6,1.0M727.9,349.5l2.2,-1.4M729.2,352.0l-0.9,1.6M729.1,350.2l-2.4,0.9M729.9,347.1l0.3,1.9M731.5,346.5l-1.6,0.2M734.0,351.9l-0.3,-1.9M734.7,353.2l0.6,-1.9M735.0,351.6l-1.5,-0.5M735.0,350.0l0.9,-1.0M736.0,349.5l-1.6,0.1M735.7,347.3l2.3,-0.9M736.9,348.8l1.6,0.7M738.3,349.7l2.6,0.8M738.7,349.9l-0.9,-1.0M738.4,347.7l0.7,1.5M739.4,349.8l1.9,-0.4M739.3,348.2l1.4,1.8M739.7,347.0l1.6,1.6M741.1,350.7l2.3,1.0M740.7,347.9l-0.6,-2.6M741.8,349.2l-1.2,0.6M742.7,350.8l2.2,0.3" stroke-width="1.4" stroke-opacity="1" stroke-linecap="round"/>
<path d="M702.1,376.3l0.7,-1.0M703.5,376.5l1.2,2.2M698.8,378.8l1.6,2.1M700.4,378.6l-2.0,-0.4M698.8,380.0l-2.2,-1.0M698.9,380.3l-0.3,-1.8M699.7,380.4l-2.6,-1.0M700.5,381.7l-0.3,-1.1M704.7,380.4l0.5,2.3M700.3,382.9l0.8,1.1M704.3,382.3l-0.2,-2.5M702.6,383.5l-0.8,1.8M701.3,384.6l0.9,-2.2M704.9,384.0l-0.0,-2.5M705.2,385.1l-1.5,0.2M702.1,386.3l-1.0,2.0" stroke-width="1.4" stroke-opacity="1" stroke-linecap="round"/>
<path d="M672.7,444.3 L672.5,441.8 L673.9,439.7 L674.5,437.4 L675.0,435.1 L676.8,433.3 L676.0,435.9 L676.4,438.5 L675.5,441.0 L675.0,443.7 L672.7,444.3"/>
<path d="M663.5,443.7 L664.6,441.4 L667.5,441.4 L669.0,443.7 L667.5,446.0 L664.6,446.0 L663.5,443.7"/>
<path d="M649.6,414.8 L651.4,412.0 L654.3,409.7 L655.2,410.8 L653.1,413.7 L650.8,416.0 L649.6,414.8"/>
<path d="M485.7,244.2l0.8,2.2M486.5,244.8l-0.6,-0.9M486.2,243.0l-1.3,-1.7M487.5,244.3l1.0,0.5M489.2,242.4l2.6,-1.0M488.7,241.1l-1.7,-0.4M490.7,241.4l1.4,1.4M490.7,239.5l2.3,-1.1M490.8,239.0l-0.8,-1.5M491.8,239.9l-0.2,1.2M492.5,239.7l0.0,-1.9M492.4,238.9l-2.1,-0.8M494.4,240.0l-1.3,-0.7M494.4,239.3l1.6,-2.2M494.8,237.5l1.0,-1.1M495.7,238.1l1.2,0.1M496.5,238.7l0.3,-1.1M497.3,239.2l1.2,2.1M498.0,237.7l-0.2,-1.0M497.9,236.3l-2.0,-0.3M499.3,237.2l-1.2,-0.2M498.1,234.8l-2.1,1.0M498.9,234.7l2.1,-0.4M499.9,235.6l0.0,1.1M499.8,233.5l-1.2,-2.5M501.0,235.7l0.7,0.9M500.3,232.8l-0.3,-2.6M500.8,233.2l1.7,0.5M501.2,233.2l0.5,-1.1M502.5,234.7l0.9,1.0M502.9,233.6l-1.5,-2.4M502.7,232.3l-1.1,-1.9M504.4,234.6l1.8,0.8M504.9,234.8l0.3,-1.4M504.7,233.5l-0.8,0.8M504.7,231.6l0.6,0.8M506.0,232.9l2.2,-0.8M506.8,233.0l0.5,-1.3M506.8,231.9l-2.1,-1.5M507.9,232.8l0.7,1.0M508.0,232.1l-1.6,-0.9M508.1,230.5l-1.5,-0.9M509.5,233.0l-2.3,0.5M509.2,231.3l1.3,0.5M509.4,230.8l1.5,2.3M509.6,230.3l1.5,0.7M511.1,232.3l-1.6,-1.5M511.4,231.9l-1.2,0.4M511.6,231.6l1.2,0.5M512.4,230.7l-1.8,1.0M512.4,229.7l2.0,-0.3M513.0,230.3l1.8,-0.3M513.6,230.9l0.8,-1.1M513.6,228.9l0.5,-1.6M515.0,230.6l1.2,1.3M515.3,230.4l1.4,-1.2M515.8,230.7l-1.2,1.0M516.1,230.4l0.6,-1.8M517.0,228.8l1.3,-1.3M517.3,228.7l0.5,1.3M518.3,228.4l-1.1,-0.0M518.1,226.9l-0.4,-1.2M518.9,227.9l0.1,-2.8M519.5,227.5l-1.6,-1.2M519.7,226.0l-1.3,-2.2M521.5,226.7l1.0,-1.9M521.7,226.4l0.6,-1.2M522.8,228.0l-1.9,0.6M523.6,227.3l-0.5,-1.7M523.0,223.9l-1.1,0.1M524.5,226.7l1.3,-0.2M524.1,224.7l-1.2,0.4M525.0,225.2l-0.3,2.1M525.3,224.9l0.6,-0.8M525.5,223.2l1.1,-1.9M526.2,226.5l0.9,1.7M526.9,222.9l1.1,2.5M527.6,222.9l-0.9,-1.0M530.4,225.2l2.2,0.2M530.9,226.2l0.4,-1.8M531.9,223.1l-0.1,2.3M533.7,223.0l-2.1,-1.2M534.2,224.7l-0.8,1.4M534.5,223.5l-1.1,-0.6M535.3,224.7l-1.5,2.2M535.3,221.8l-0.6,-1.6M536.7,224.2l-0.7,-1.4M537.0,224.2l-1.0,-0.5M537.3,223.2l1.6,1.0M537.6,222.7l0.0,-2.3M538.1,223.8l2.1,-0.1M538.6,222.2l-0.7,1.3M539.0,222.3l-2.5,-0.0M539.9,224.3l-1.0,-1.1M540.3,224.6l1.0,1.1M540.6,224.3l2.5,-0.9M541.3,221.3l0.1,1.2M541.7,221.5l-0.5,1.0M542.4,224.3l0.1,1.9M543.1,223.7l-1.0,-0.3M544.2,224.6l-1.9,-1.0M544.1,220.8l-0.6,-2.2M544.5,220.8l-1.4,-0.7M545.2,224.1l-1.1,-0.5M546.9,223.0l1.4,0.5M547.1,222.1l-1.2,-0.1M547.8,221.3l-0.9,-0.5M548.4,223.4l-0.2,-1.7M548.7,223.2l0.8,-0.8M549.0,222.3l-0.5,-1.3M551.6,221.7l-1.7,1.8M551.4,224.3l-2.7,-0.3M552.2,225.0l-2.2,0.3M553.2,223.4l0.7,1.5M553.2,224.3l0.7,1.1M553.7,225.1l1.8,0.2M555.2,224.2l-0.8,0.6M556.0,223.2l0.9,-1.0M555.8,224.6l-0.7,-2.0M556.5,223.9l2.4,0.2M556.9,223.8l0.5,1.8M557.1,224.1l1.1,0.8M557.5,224.2l2.0,1.6M557.7,224.7l-0.3,1.1M558.0,224.9l-0.5,-1.4M557.6,226.8l-1.2,-1.3M558.1,226.5l1.3,-0.6M559.2,225.6l1.4,0.2M559.9,224.7l1.2,-2.4M559.4,227.1l-0.6,1.9M559.6,227.6l-2.1,-0.2M560.8,226.3l-0.4,-1.8M562.0,225.3l0.5,2.7M562.6,225.7l-1.7,-1.0M562.7,228.4l2.3,-0.2M563.6,228.0l-1.0,-2.2M564.3,229.0l-2.2,-1.6M564.9,228.5l1.5,-1.8M566.2,227.0l-0.9,2.0M565.8,229.0l1.0,0.9M566.3,228.7l-0.5,-2.7M567.3,227.1l1.3,-1.6M567.9,228.6l0.3,1.8M567.5,230.6l1.1,-0.8M568.5,231.0l2.2,-0.8M569.2,230.2l0.2,-1.6M570.3,228.3l1.4,2.0" stroke-width="1.4" stroke-opacity="1" stroke-linecap="round"/>
<path d="M430.4,412.5l-2.1,1.0M429.5,410.8l-0.7,-1.3M430.5,411.5l-2.6,0.1M431.0,411.0l-1.0,-0.7M431.6,411.1l1.9,-0.8M432.5,411.8l0.4,-1.3M431.1,409.4l0.1,-1.4M432.5,408.2l-0.8,-0.6M434.0,408.5l-1.2,-0.3M434.7,408.7l0.6,1.1M435.5,409.2l1.0,-0.7M434.4,406.7l-0.0,2.2M436.4,408.6l-0.4,1.6M435.4,406.2l-1.5,0.3M436.5,407.1l1.7,-0.5M436.4,406.4l1.1,-1.4M436.5,405.9l0.2,1.6M437.5,406.6l-0.2,-1.1M438.1,406.8l1.7,-1.7M438.1,406.2l2.0,1.0M438.7,406.4l1.0,-1.5M440.1,404.7l1.2,1.4M439.2,403.0l-0.9,-1.5M441.1,404.8l-0.5,1.9M440.0,402.8l2.4,-0.1M441.9,404.1l2.3,-1.4M440.7,402.1l1.0,0.6M441.9,402.4l-1.4,1.8M442.6,402.7l1.5,-0.4M443.0,402.6l-0.9,2.4M443.0,401.5l1.2,1.6M444.2,402.4l-0.4,-2.8M444.5,401.1l1.2,1.1M445.0,400.0l-1.7,1.2M446.0,400.9l-2.3,0.7M447.2,397.8l0.9,-2.1M449.0,399.9l-1.7,-2.1M449.3,397.5l-2.1,-0.7M449.6,397.1l0.9,-0.7M450.9,398.7l-1.2,-0.8M450.8,397.3l-1.5,-0.3M451.3,396.7l-0.5,-1.4M452.1,396.9l-0.5,-2.6M452.9,398.1l-1.4,2.4M452.6,396.0l2.0,0.0M453.6,396.9l-1.4,0.9M454.0,397.1l-0.5,-0.9M454.6,396.7l0.4,2.2M455.1,396.9l-1.6,1.0M455.8,397.9l-1.4,0.7M456.3,397.2l-1.1,0.6M456.4,395.3l2.7,-0.2M457.3,396.9l-0.7,-1.4M457.4,396.1l0.9,2.2M458.3,396.5l1.8,-0.4M458.2,394.1l-1.6,0.4M460.2,394.8l1.1,0.1M461.1,394.9l-2.4,1.1M461.8,394.7l-0.7,-2.1M460.1,396.9l1.8,-2.0M461.7,397.3l-1.0,1.3M463.1,396.4l0.9,-2.2M462.5,397.5l2.0,0.3M461.8,398.7l-0.8,1.8M462.1,398.9l1.5,0.1M462.7,398.8l-1.8,1.8M464.3,397.7l-1.1,0.3M463.7,398.8l-1.2,-0.6M464.0,399.0l-1.8,0.6M465.5,398.5l2.2,1.0M465.4,399.6l-0.9,2.5M464.8,400.7l0.9,0.6M465.2,400.8l-2.4,0.8M467.2,401.8l1.3,1.7M468.4,401.6l-2.1,0.5M467.8,402.7l-1.5,-1.7M468.9,402.6l0.7,-0.8M469.2,402.8l-1.8,-1.2M468.7,403.8l-2.0,-1.0M468.5,404.5l-0.2,1.7M468.5,405.0l-1.8,-1.7M470.0,404.5l1.0,0.6" stroke-width="1.4" stroke-opacity="1" stroke-linecap="round"/>
</g>
<g fill="none" stroke-linecap="round" stroke-linejoin="round">
<g stroke="#c0c0c0" stroke-width="1.5">
<path d="M601.2,853.2 C601.4,857.0 602.3,868.5 602.3,876.1 C602.3,883.7 601.6,891.4 601.2,899.0 C600.8,906.6 600.4,914.2 600.0,921.9 C599.7,929.5 599.5,937.1 598.9,944.8 C598.3,952.4 596.8,960.0 596.6,967.6 C596.4,975.3 597.4,982.9 597.8,990.5 C598.1,998.2 598.5,1005.8 598.9,1013.4 C599.3,1021.0 599.7,1030.0 600.0,1036.3 C600.4,1042.6 601.0,1048.7 601.2,1051.2"/>
<path d="M605.8,926.5 C605.4,931.0 604.2,944.8 603.5,953.9 C602.7,963.1 601.2,972.2 601.2,981.4 C601.2,990.5 602.3,1000.4 603.5,1008.8 C604.6,1017.2 607.3,1027.9 608.1,1031.7"/>
<path d="M596.6,944.8 C596.2,947.8 595.5,957.0 594.3,963.1 C593.2,969.2 591.7,975.3 589.7,981.4 C587.8,987.5 585.6,993.2 582.9,999.7 C580.2,1006.2 575.3,1016.8 573.7,1020.3"/>
<path d="M635.5,949.3 C635.1,953.2 633.2,964.6 633.2,972.2 C633.2,979.8 633.2,989.0 635.5,995.1 C637.8,1001.2 642.4,1005.4 647.0,1008.8 C651.5,1012.3 657.3,1014.6 663.0,1015.7 C668.7,1016.8 678.2,1015.7 681.3,1015.7"/>
<path d="M651.5,935.6 C651.9,939.4 652.3,950.9 653.8,958.5 C655.3,966.1 656.5,974.5 660.7,981.4 C664.9,988.2 672.1,994.7 679.0,999.7 C685.9,1004.6 693.1,1010.0 701.9,1011.1 C710.6,1012.3 722.1,1008.8 731.6,1006.5 C741.2,1004.3 754.5,998.9 759.1,997.4"/>
<path d="M700.7,937.9 C702.4,939.8 707.0,945.9 711.0,949.3 C715.0,952.8 719.4,954.3 724.8,958.5 C730.1,962.7 736.2,969.9 743.1,974.5 C749.9,979.1 758.3,983.1 765.9,985.9 C773.6,988.8 782.0,991.7 788.8,991.7 C795.7,991.7 801.4,988.4 807.1,985.9 C812.9,983.5 816.7,979.8 823.2,976.8 C829.6,973.7 839.2,971.1 846.0,967.6 C852.9,964.2 859.0,959.3 864.3,956.2 C869.7,953.2 873.9,949.5 878.1,949.3 C882.3,949.1 885.3,954.3 889.5,955.1 C893.7,955.8 901.0,954.1 903.2,953.9"/>
<path d="M776.2,887.6 C776.8,891.0 777.6,900.9 779.7,908.1 C781.8,915.4 785.4,923.4 788.8,931.0 C792.3,938.7 797.2,947.8 800.3,953.9 C803.3,960.0 804.1,963.1 807.1,967.6 C810.2,972.2 815.5,976.4 818.6,981.4 C821.6,986.3 823.2,991.9 825.4,997.4 C827.7,1002.9 831.2,1011.7 832.3,1014.6"/>
<path d="M610.3,940.2 C611.1,944.0 612.6,955.4 614.9,963.1 C617.2,970.7 620.3,979.5 624.1,985.9 C627.9,992.4 632.1,996.6 637.8,1002.0 C643.5,1007.3 650.4,1013.4 658.4,1018.0 C666.4,1022.6 675.6,1026.0 685.9,1029.4 C696.2,1032.9 708.7,1036.3 720.2,1038.6 C731.6,1040.9 745.0,1042.6 754.5,1043.2 C764.0,1043.7 773.6,1042.2 777.4,1042.0"/>
<path d="M621.8,963.1 C622.9,966.1 625.2,975.7 628.6,981.4 C632.1,987.1 636.7,992.4 642.4,997.4 C648.1,1002.3 653.8,1006.5 663.0,1011.1 C672.1,1015.7 685.9,1021.0 697.3,1024.9 C708.7,1028.7 719.4,1031.7 731.6,1034.0 C743.8,1036.3 764.0,1037.8 770.5,1038.6"/>
<path d="M589.7,917.3 C589.4,921.1 588.6,932.6 587.5,940.2 C586.3,947.8 585.2,956.2 582.9,963.1 C580.6,969.9 577.5,976.8 573.7,981.4 C569.9,985.9 562.3,989.0 560.0,990.5"/>
<path d="M580.6,951.6 C579.5,953.5 576.0,959.3 573.7,963.1 C571.4,966.9 569.2,971.8 566.9,974.5 C564.6,977.2 561.1,978.3 560.0,979.1"/>
<path d="M708.7,903.6 C706.8,905.9 701.1,912.7 697.3,917.3 C693.5,921.9 688.9,926.5 685.9,931.0 C682.8,935.6 680.9,939.4 679.0,944.8 C677.1,950.1 674.8,957.0 674.4,963.1 C674.0,969.2 675.6,975.3 676.7,981.4 C677.8,987.5 680.9,994.3 681.3,999.7 C681.7,1005.0 679.4,1011.1 679.0,1013.4"/>
<path d="M656.1,917.3 C655.3,921.1 651.5,932.6 651.5,940.2 C651.5,947.8 654.2,955.4 656.1,963.1 C658.0,970.7 659.9,979.8 663.0,985.9 C666.0,992.1 670.2,995.5 674.4,999.7 C678.6,1003.9 685.9,1009.2 688.1,1011.1"/>
<path d="M674.4,899.0 C676.7,899.0 682.8,899.4 688.1,899.0 C693.5,898.6 700.4,897.8 706.5,896.7 C712.6,895.6 721.7,892.9 724.8,892.1"/>
<path d="M628.6,903.6 C628.3,907.4 627.1,918.8 626.4,926.5 C625.6,934.1 624.5,941.7 624.1,949.3 C623.7,957.0 623.3,963.8 624.1,972.2 C624.8,980.6 626.4,991.3 628.6,999.7 C630.9,1008.1 634.8,1016.5 637.8,1022.6 C640.9,1028.7 643.9,1031.7 647.0,1036.3 C650.0,1040.9 654.6,1047.7 656.1,1050.0"/>
<path d="M594.3,903.6 C593.9,907.4 592.0,918.8 592.0,926.5 C592.0,934.1 593.2,941.7 594.3,949.3 C595.5,957.0 597.4,964.6 598.9,972.2 C600.4,979.8 602.3,987.5 603.5,995.1 C604.6,1002.7 605.0,1010.4 605.8,1018.0 C606.5,1025.6 607.7,1037.1 608.1,1040.9"/>
<path d="M617.2,942.5 C616.4,946.7 613.8,959.6 612.6,967.6 C611.5,975.7 610.3,982.9 610.3,990.5 C610.3,998.2 611.1,1006.5 612.6,1013.4 C614.2,1020.3 616.8,1025.6 619.5,1031.7 C622.2,1037.8 627.1,1047.0 628.6,1050.0"/>
</g>
<g fill="none" stroke-linecap="round" stroke-linejoin="round" stroke="#6a6a6a" stroke-width="1.25">
<path d="M936.0,794.0 C934.7,793.6 931.0,792.2 928.0,791.7 C925.0,791.3 921.8,791.0 918.0,791.1 C914.2,791.2 909.7,791.9 905.0,792.5 C900.3,793.1 895.5,793.8 890.0,794.5 C884.5,795.2 878.3,796.0 872.0,797.0 C865.7,797.9 859.0,799.5 852.0,800.2 C845.0,800.9 837.8,801.0 830.0,801.0 C822.2,801.0 813.3,799.8 805.0,800.1 C796.7,800.4 788.3,801.4 780.0,802.7 C771.7,804.0 763.3,805.8 755.0,807.9 C746.7,810.0 738.3,813.2 730.0,815.2 C721.7,817.2 713.3,818.5 705.0,819.8 C696.7,821.0 688.3,822.1 680.0,822.6 C671.7,823.1 663.3,822.8 655.0,822.7 C646.7,822.6 638.3,821.8 630.0,822.2 C621.7,822.6 612.5,823.6 605.0,825.1 C597.5,826.6 589.2,830.0 585.0,831.4 C580.8,832.8 580.5,833.0 579.6,833.3"/>
<path d="M936.0,794.0 C934.7,793.6 931.0,792.3 928.0,791.9 C925.0,791.4 921.8,791.1 918.0,791.4 C914.2,791.6 909.7,792.4 905.0,793.2 C900.3,794.0 895.5,795.0 890.0,796.0 C884.5,797.0 878.3,798.0 872.0,799.0 C865.7,800.0 859.0,801.5 852.0,802.0 C845.0,802.6 837.8,802.6 830.0,802.4 C822.2,802.2 813.3,800.7 805.0,800.9 C796.7,801.0 788.3,802.2 780.0,803.3 C771.7,804.4 763.3,805.9 755.0,807.5 C746.7,809.2 738.3,811.4 730.0,813.1 C721.7,814.7 713.3,815.9 705.0,817.3 C696.7,818.8 688.3,820.5 680.0,821.8 C671.7,823.1 663.3,824.1 655.0,825.2 C646.7,826.3 638.3,827.6 630.0,828.6 C621.7,829.5 612.5,829.9 605.0,831.0 C597.5,832.1 589.2,834.3 585.0,835.2 C580.8,836.1 580.9,836.3 580.1,836.5"/>
<path d="M936.0,794.0 C934.7,793.7 931.0,792.4 928.0,792.0 C925.0,791.5 921.8,791.3 918.0,791.4 C914.2,791.5 909.7,792.2 905.0,792.8 C900.3,793.4 895.5,794.2 890.0,795.2 C884.5,796.1 878.3,797.2 872.0,798.3 C865.7,799.5 859.0,801.2 852.0,802.1 C845.0,803.1 837.8,803.6 830.0,804.1 C822.2,804.6 813.3,804.2 805.0,805.1 C796.7,806.0 788.3,807.9 780.0,809.3 C771.7,810.8 763.3,812.5 755.0,814.0 C746.7,815.5 738.3,817.4 730.0,818.5 C721.7,819.7 713.3,820.1 705.0,820.8 C696.7,821.5 688.3,822.2 680.0,822.8 C671.7,823.4 663.3,823.6 655.0,824.3 C646.7,825.0 638.3,826.0 630.0,827.1 C621.7,828.1 612.5,829.0 605.0,830.6 C597.5,832.2 589.0,835.5 585.0,836.7 C581.0,838.0 581.7,837.9 581.0,838.2"/>
<path d="M936.0,794.0 C934.7,793.7 931.0,792.5 928.0,792.2 C925.0,791.9 921.8,791.8 918.0,792.1 C914.2,792.5 909.7,793.5 905.0,794.4 C900.3,795.2 895.5,796.3 890.0,797.2 C884.5,798.2 878.3,799.3 872.0,800.3 C865.7,801.4 859.0,802.9 852.0,803.6 C845.0,804.3 837.8,804.5 830.0,804.5 C822.2,804.4 813.3,803.2 805.0,803.4 C796.7,803.6 788.3,804.7 780.0,805.7 C771.7,806.6 763.3,807.9 755.0,809.3 C746.7,810.7 738.3,812.6 730.0,814.1 C721.7,815.6 713.3,816.6 705.0,818.1 C696.7,819.7 688.3,821.6 680.0,823.5 C671.7,825.3 663.3,827.2 655.0,829.5 C646.7,831.7 638.3,834.5 630.0,837.0 C621.7,839.4 612.5,841.8 605.0,844.4 C597.5,846.9 589.7,850.3 585.0,852.2 C580.3,854.1 578.1,855.0 576.7,855.6"/>
<path d="M936.0,794.0 C934.7,793.7 931.0,792.6 928.0,792.3 C925.0,792.0 921.8,791.9 918.0,792.2 C914.2,792.4 909.7,793.2 905.0,793.9 C900.3,794.5 895.5,795.2 890.0,796.1 C884.5,797.0 878.3,798.0 872.0,799.2 C865.7,800.4 859.0,802.1 852.0,803.4 C845.0,804.6 837.8,805.5 830.0,806.5 C822.2,807.6 813.3,808.3 805.0,809.9 C796.7,811.4 788.3,814.1 780.0,815.9 C771.7,817.8 763.3,819.8 755.0,821.2 C746.7,822.7 738.3,824.1 730.0,824.7 C721.7,825.3 713.3,824.9 705.0,824.9 C696.7,824.8 688.3,824.4 680.0,824.4 C671.7,824.4 663.3,824.0 655.0,824.8 C646.7,825.6 638.3,827.1 630.0,829.2 C621.7,831.2 612.5,834.0 605.0,837.1 C597.5,840.2 588.5,845.9 585.0,847.8 C581.5,849.7 584.0,848.3 583.9,848.4"/>
<path d="M936.0,794.0 C934.7,793.8 931.0,792.7 928.0,792.5 C925.0,792.3 921.8,792.3 918.0,792.8 C914.2,793.3 909.7,794.6 905.0,795.7 C900.3,796.9 895.5,798.2 890.0,799.5 C884.5,800.9 878.3,802.3 872.0,803.9 C865.7,805.4 859.0,807.4 852.0,808.8 C845.0,810.1 837.8,811.2 830.0,811.8 C822.2,812.5 813.3,812.3 805.0,812.8 C796.7,813.4 788.3,814.4 780.0,815.2 C771.7,816.0 763.3,816.8 755.0,817.7 C746.7,818.6 738.3,819.8 730.0,820.5 C721.7,821.3 713.3,821.5 705.0,822.2 C696.7,822.9 688.3,823.8 680.0,824.9 C671.7,825.9 663.3,826.9 655.0,828.5 C646.7,830.1 638.3,832.3 630.0,834.5 C621.7,836.8 612.5,839.2 605.0,841.9 C597.5,844.6 589.6,848.7 585.0,850.9 C580.4,853.0 578.5,854.1 577.3,854.7"/>
<path d="M936.0,794.0 C934.7,793.8 931.0,792.8 928.0,792.6 C925.0,792.4 921.8,792.4 918.0,792.8 C914.2,793.2 909.7,794.3 905.0,795.2 C900.3,796.1 895.5,797.1 890.0,798.3 C884.5,799.5 878.3,800.9 872.0,802.5 C865.7,804.0 859.0,806.1 852.0,807.6 C845.0,809.1 837.8,810.4 830.0,811.5 C822.2,812.6 813.3,813.2 805.0,814.4 C796.7,815.6 788.3,817.4 780.0,818.8 C771.7,820.2 763.3,821.6 755.0,822.9 C746.7,824.2 738.3,825.7 730.0,826.7 C721.7,827.7 713.3,828.0 705.0,828.7 C696.7,829.5 688.3,830.3 680.0,831.2 C671.7,832.2 663.3,832.9 655.0,834.4 C646.7,835.8 638.3,837.8 630.0,839.9 C621.7,842.0 612.5,844.2 605.0,846.8 C597.5,849.4 589.6,853.4 585.0,855.5 C580.4,857.5 578.8,858.5 577.5,859.1"/>
<path d="M936.0,794.0 C934.7,793.8 931.0,792.9 928.0,792.8 C925.0,792.6 921.8,792.7 918.0,793.2 C914.2,793.6 909.7,794.7 905.0,795.5 C900.3,796.4 895.5,797.2 890.0,798.4 C884.5,799.5 878.3,800.8 872.0,802.4 C865.7,803.9 859.0,805.9 852.0,807.6 C845.0,809.3 837.8,810.8 830.0,812.3 C822.2,813.8 813.3,815.1 805.0,816.9 C796.7,818.6 788.3,821.0 780.0,822.7 C771.7,824.4 763.3,826.0 755.0,827.3 C746.7,828.5 738.3,829.6 730.0,830.2 C721.7,830.8 713.3,830.5 705.0,830.8 C696.7,831.1 688.3,831.2 680.0,831.9 C671.7,832.5 663.3,833.1 655.0,834.7 C646.7,836.4 638.3,838.9 630.0,841.6 C621.7,844.4 612.5,847.9 605.0,851.3 C597.5,854.7 589.2,859.8 585.0,862.1 C580.8,864.4 580.4,864.7 579.5,865.2"/>
<path d="M936.0,794.0 C934.7,793.8 931.0,793.0 928.0,792.9 C925.0,792.8 921.8,792.9 918.0,793.4 C914.2,794.0 909.7,795.2 905.0,796.3 C900.3,797.3 895.5,798.5 890.0,799.9 C884.5,801.3 878.3,803.0 872.0,804.8 C865.7,806.6 859.0,808.9 852.0,810.8 C845.0,812.7 837.8,814.4 830.0,815.9 C822.2,817.5 813.3,818.6 805.0,820.1 C796.7,821.5 788.3,823.2 780.0,824.7 C771.7,826.1 763.3,827.4 755.0,828.7 C746.7,829.9 738.3,831.2 730.0,832.1 C721.7,832.9 713.3,833.2 705.0,833.8 C696.7,834.5 688.3,835.1 680.0,835.9 C671.7,836.7 663.3,837.3 655.0,838.6 C646.7,840.0 638.3,841.8 630.0,843.8 C621.7,845.8 612.5,848.1 605.0,850.8 C597.5,853.5 589.2,858.0 585.0,860.0 C580.8,862.0 580.8,862.2 580.0,862.6"/>
<path d="M936.0,794.0 C934.7,793.9 931.0,793.1 928.0,793.2 C925.0,793.3 921.8,793.5 918.0,794.4 C914.2,795.3 909.7,797.1 905.0,798.5 C900.3,799.8 895.5,801.2 890.0,802.5 C884.5,803.9 878.3,805.1 872.0,806.5 C865.7,807.8 859.0,809.4 852.0,810.5 C845.0,811.5 837.8,812.0 830.0,812.6 C822.2,813.2 813.3,812.9 805.0,814.1 C796.7,815.3 788.3,817.4 780.0,819.8 C771.7,822.1 763.3,825.2 755.0,828.1 C746.7,831.0 738.3,834.5 730.0,837.2 C721.7,839.8 713.3,842.2 705.0,844.0 C696.7,845.8 688.3,847.2 680.0,848.0 C671.7,848.8 663.3,848.6 655.0,848.7 C646.7,848.9 638.3,848.6 630.0,849.0 C621.7,849.4 612.5,849.6 605.0,851.1 C597.5,852.6 588.5,856.8 585.0,858.0 C581.5,859.2 584.2,858.4 584.0,858.5"/>
<path d="M936.0,794.0 C934.7,793.9 931.0,793.2 928.0,793.2 C925.0,793.3 921.8,793.5 918.0,794.2 C914.2,795.0 909.7,796.4 905.0,797.7 C900.3,798.9 895.5,800.1 890.0,801.7 C884.5,803.2 878.3,804.9 872.0,806.8 C865.7,808.7 859.0,811.0 852.0,813.0 C845.0,815.0 837.8,816.8 830.0,818.5 C822.2,820.2 813.3,821.5 805.0,823.2 C796.7,824.8 788.3,826.7 780.0,828.4 C771.7,830.1 763.3,831.8 755.0,833.5 C746.7,835.1 738.3,836.9 730.0,838.3 C721.7,839.7 713.3,840.6 705.0,841.8 C696.7,843.0 688.3,844.1 680.0,845.3 C671.7,846.4 663.3,847.3 655.0,848.6 C646.7,849.9 638.3,851.4 630.0,853.0 C621.7,854.6 612.5,856.1 605.0,858.1 C597.5,860.1 589.4,863.5 585.0,865.1 C580.6,866.7 579.6,867.3 578.5,867.8"/>
<path d="M936.0,794.0 C934.7,793.9 931.0,793.3 928.0,793.4 C925.0,793.4 921.8,793.7 918.0,794.4 C914.2,795.1 909.7,796.4 905.0,797.6 C900.3,798.8 895.5,799.9 890.0,801.5 C884.5,803.1 878.3,804.9 872.0,807.0 C865.7,809.1 859.0,811.7 852.0,814.0 C845.0,816.3 837.8,818.7 830.0,820.9 C822.2,823.1 813.3,825.1 805.0,827.1 C796.7,829.1 788.3,831.1 780.0,832.7 C771.7,834.3 763.3,835.6 755.0,836.8 C746.7,837.9 738.3,839.0 730.0,839.6 C721.7,840.3 713.3,840.4 705.0,840.9 C696.7,841.3 688.3,841.8 680.0,842.6 C671.7,843.4 663.3,844.1 655.0,845.8 C646.7,847.4 638.3,849.7 630.0,852.4 C621.7,855.1 612.5,858.4 605.0,861.8 C597.5,865.3 588.8,871.0 585.0,873.2 C581.2,875.4 582.6,874.7 582.1,875.0"/>
<path d="M936.0,794.0 C934.7,793.9 931.0,793.4 928.0,793.6 C925.0,793.7 921.8,794.1 918.0,795.0 C914.2,795.9 909.7,797.6 905.0,798.9 C900.3,800.3 895.5,801.6 890.0,803.2 C884.5,804.9 878.3,806.6 872.0,808.6 C865.7,810.6 859.0,813.1 852.0,815.2 C845.0,817.3 837.8,819.4 830.0,821.2 C822.2,823.1 813.3,824.6 805.0,826.3 C796.7,828.1 788.3,829.9 780.0,831.6 C771.7,833.3 763.3,835.0 755.0,836.7 C746.7,838.3 738.3,840.1 730.0,841.6 C721.7,843.1 713.3,844.2 705.0,845.6 C696.7,847.0 688.3,848.4 680.0,849.9 C671.7,851.3 663.3,852.6 655.0,854.3 C646.7,856.1 638.3,858.1 630.0,860.2 C621.7,862.3 612.5,864.5 605.0,867.0 C597.5,869.5 588.6,873.8 585.0,875.3 C581.4,876.8 583.9,875.8 583.7,875.9"/>
<path d="M936.0,794.0 C934.7,793.9 931.0,793.5 928.0,793.7 C925.0,793.9 921.8,794.3 918.0,795.1 C914.2,795.9 909.7,797.4 905.0,798.6 C900.3,799.8 895.5,800.8 890.0,802.3 C884.5,803.8 878.3,805.5 872.0,807.6 C865.7,809.6 859.0,812.1 852.0,814.5 C845.0,816.9 837.8,819.3 830.0,821.8 C822.2,824.3 813.3,826.9 805.0,829.5 C796.7,832.0 788.3,834.7 780.0,837.1 C771.7,839.4 763.3,841.6 755.0,843.4 C746.7,845.2 738.3,846.9 730.0,848.0 C721.7,849.2 713.3,849.7 705.0,850.3 C696.7,850.9 688.3,851.3 680.0,851.8 C671.7,852.3 663.3,852.4 655.0,853.4 C646.7,854.4 638.3,855.7 630.0,857.7 C621.7,859.6 612.5,862.0 605.0,865.0 C597.5,868.0 588.6,873.5 585.0,875.4 C581.4,877.3 583.6,876.3 583.3,876.4"/>
<path d="M936.0,794.0 C934.7,794.0 931.0,793.6 928.0,793.9 C925.0,794.1 921.8,794.6 918.0,795.6 C914.2,796.6 909.7,798.4 905.0,800.0 C900.3,801.5 895.5,803.0 890.0,804.8 C884.5,806.7 878.3,808.8 872.0,811.1 C865.7,813.4 859.0,816.3 852.0,818.9 C845.0,821.5 837.8,824.2 830.0,826.5 C822.2,828.9 813.3,831.2 805.0,833.1 C796.7,835.1 788.3,836.7 780.0,838.2 C771.7,839.7 763.3,840.9 755.0,842.2 C746.7,843.4 738.3,844.5 730.0,845.5 C721.7,846.4 713.3,847.0 705.0,847.9 C696.7,848.9 688.3,849.9 680.0,851.2 C671.7,852.5 663.3,853.8 655.0,855.7 C646.7,857.7 638.3,860.3 630.0,863.1 C621.7,865.9 612.5,869.2 605.0,872.7 C597.5,876.1 589.7,881.0 585.0,883.7 C580.3,886.4 578.0,888.0 576.6,888.9"/>
<path d="M936.0,794.0 C934.7,794.0 931.0,793.7 928.0,794.0 C925.0,794.3 921.8,794.8 918.0,795.8 C914.2,796.7 909.7,798.4 905.0,799.9 C900.3,801.4 895.5,802.7 890.0,804.6 C884.5,806.4 878.3,808.7 872.0,811.2 C865.7,813.8 859.0,816.9 852.0,819.8 C845.0,822.7 837.8,826.0 830.0,828.6 C822.2,831.2 813.3,833.8 805.0,835.5 C796.7,837.2 788.3,838.0 780.0,838.8 C771.7,839.6 763.3,839.7 755.0,840.3 C746.7,840.9 738.3,841.3 730.0,842.4 C721.7,843.5 713.3,844.5 705.0,846.7 C696.7,848.9 688.3,852.0 680.0,855.5 C671.7,859.0 663.3,863.4 655.0,867.6 C646.7,871.8 638.3,876.8 630.0,880.6 C621.7,884.3 612.5,887.6 605.0,890.3 C597.5,893.0 589.7,895.2 585.0,896.5 C580.3,897.9 578.1,898.2 576.7,898.5"/>
<path d="M936.0,794.0 C934.7,794.0 931.0,793.8 928.0,794.2 C925.0,794.6 921.8,795.2 918.0,796.4 C914.2,797.6 909.7,799.7 905.0,801.4 C900.3,803.0 895.5,804.5 890.0,806.3 C884.5,808.2 878.3,810.2 872.0,812.5 C865.7,814.8 859.0,817.5 852.0,820.0 C845.0,822.5 837.8,825.1 830.0,827.5 C822.2,830.0 813.3,832.3 805.0,834.5 C796.7,836.6 788.3,838.6 780.0,840.7 C771.7,842.7 763.3,844.6 755.0,846.6 C746.7,848.5 738.3,850.5 730.0,852.4 C721.7,854.2 713.3,855.8 705.0,857.6 C696.7,859.4 688.3,861.2 680.0,862.9 C671.7,864.7 663.3,866.3 655.0,868.2 C646.7,870.1 638.3,872.1 630.0,874.2 C621.7,876.3 612.5,878.4 605.0,880.8 C597.5,883.2 589.7,886.7 585.0,888.7 C580.3,890.6 578.3,891.6 576.9,892.2"/>
<path d="M936.0,794.0 C934.7,794.1 931.0,793.9 928.0,794.3 C925.0,794.8 921.8,795.4 918.0,796.6 C914.2,797.8 909.7,799.9 905.0,801.6 C900.3,803.2 895.5,804.7 890.0,806.7 C884.5,808.6 878.3,810.8 872.0,813.4 C865.7,815.9 859.0,818.9 852.0,821.8 C845.0,824.6 837.8,827.7 830.0,830.5 C822.2,833.2 813.3,836.0 805.0,838.3 C796.7,840.5 788.3,842.2 780.0,843.8 C771.7,845.5 763.3,846.7 755.0,848.0 C746.7,849.4 738.3,850.5 730.0,851.7 C721.7,853.0 713.3,853.8 705.0,855.3 C696.7,856.7 688.3,858.3 680.0,860.3 C671.7,862.3 663.3,864.5 655.0,867.3 C646.7,870.2 638.3,873.7 630.0,877.2 C621.7,880.8 612.5,884.9 605.0,888.7 C597.5,892.6 588.8,898.1 585.0,900.3 C581.2,902.5 582.8,901.6 582.4,901.8"/>
<path d="M936.0,794.0 C934.7,794.1 931.0,794.0 928.0,794.5 C925.0,795.0 921.8,795.8 918.0,797.1 C914.2,798.4 909.7,800.6 905.0,802.3 C900.3,804.0 895.5,805.4 890.0,807.3 C884.5,809.2 878.3,811.3 872.0,813.7 C865.7,816.1 859.0,819.0 852.0,821.8 C845.0,824.6 837.8,827.6 830.0,830.4 C822.2,833.2 813.3,836.2 805.0,838.6 C796.7,841.0 788.3,843.0 780.0,844.9 C771.7,846.9 763.3,848.5 755.0,850.1 C746.7,851.8 738.3,853.3 730.0,854.9 C721.7,856.4 713.3,857.7 705.0,859.5 C696.7,861.3 688.3,863.2 680.0,865.5 C671.7,867.8 663.3,870.3 655.0,873.2 C646.7,876.2 638.3,879.7 630.0,883.1 C621.7,886.5 612.5,890.3 605.0,893.7 C597.5,897.2 589.6,901.5 585.0,903.8 C580.4,906.2 578.8,907.0 577.5,907.6"/>
<path d="M936.0,794.0 C934.7,794.1 931.0,794.1 928.0,794.7 C925.0,795.4 921.8,796.2 918.0,797.7 C914.2,799.3 909.7,801.9 905.0,803.9 C900.3,805.9 895.5,807.6 890.0,809.7 C884.5,811.8 878.3,814.0 872.0,816.5 C865.7,818.9 859.0,821.8 852.0,824.5 C845.0,827.1 837.8,830.0 830.0,832.4 C822.2,834.8 813.3,837.0 805.0,839.0 C796.7,840.9 788.3,842.3 780.0,844.0 C771.7,845.7 763.3,847.2 755.0,849.0 C746.7,850.8 738.3,852.8 730.0,854.8 C721.7,856.8 713.3,858.8 705.0,861.2 C696.7,863.6 688.3,866.3 680.0,869.1 C671.7,871.9 663.3,874.9 655.0,878.0 C646.7,881.2 635.5,885.9 630.0,888.1 C624.5,890.3 626.4,887.5 622.1,891.3 C617.9,895.2 609.7,904.1 604.5,911.4 C599.2,918.6 594.3,927.0 590.7,934.7 C587.1,942.5 584.2,954.2 582.9,958.1"/>
<path d="M936.0,794.0 C934.7,794.2 931.0,794.2 928.0,794.9 C925.0,795.6 921.8,796.6 918.0,798.2 C914.2,799.8 909.7,802.5 905.0,804.5 C900.3,806.5 895.5,808.2 890.0,810.2 C884.5,812.3 878.3,814.3 872.0,816.6 C865.7,819.0 859.0,821.7 852.0,824.1 C845.0,826.6 837.8,829.2 830.0,831.5 C822.2,833.9 813.3,836.0 805.0,838.1 C796.7,840.2 788.3,842.0 780.0,844.2 C771.7,846.4 763.3,848.7 755.0,851.3 C746.7,853.8 738.3,856.6 730.0,859.5 C721.7,862.3 713.3,865.3 705.0,868.3 C696.7,871.4 687.9,874.8 680.0,877.7 C672.1,880.6 664.2,880.9 657.8,885.6 C651.4,890.3 646.3,898.4 641.4,905.7 C636.6,912.9 632.0,921.3 628.7,929.1 C625.4,936.9 622.6,948.6 621.4,952.5"/>
<path d="M936.0,794.0 C934.7,794.2 931.0,794.3 928.0,795.0 C925.0,795.7 921.8,796.7 918.0,798.2 C914.2,799.8 909.7,802.3 905.0,804.2 C900.3,806.1 895.5,807.5 890.0,809.5 C884.5,811.5 878.3,813.5 872.0,816.0 C865.7,818.4 859.0,821.2 852.0,824.0 C845.0,826.7 837.8,829.7 830.0,832.5 C822.2,835.4 813.3,838.5 805.0,841.3 C796.7,844.1 788.3,846.6 780.0,849.3 C771.7,851.9 763.3,854.7 755.0,857.4 C746.7,860.1 738.3,862.9 730.0,865.5 C721.7,868.2 713.3,870.9 705.0,873.5 C696.7,876.1 688.3,878.7 680.0,881.1 C671.7,883.5 663.3,885.7 655.0,887.9 C646.7,890.1 636.0,892.8 630.0,894.3 C624.0,895.8 623.5,894.3 619.1,897.0 C614.7,899.7 608.2,905.5 603.6,910.4 C599.0,915.2 594.8,920.7 591.6,925.9 C588.5,931.1 585.9,938.9 584.7,941.5"/>
<path d="M936.0,794.0 C934.7,794.2 931.0,794.4 928.0,795.2 C925.0,796.0 921.8,797.0 918.0,798.6 C914.2,800.3 909.7,803.0 905.0,804.9 C900.3,806.9 895.5,808.4 890.0,810.4 C884.5,812.4 878.3,814.6 872.0,817.1 C865.7,819.6 859.0,822.5 852.0,825.5 C845.0,828.4 837.8,831.6 830.0,834.8 C822.2,838.0 813.3,841.5 805.0,844.5 C796.7,847.5 788.3,850.2 780.0,852.8 C771.7,855.5 763.3,858.1 755.0,860.6 C746.7,863.0 738.3,865.3 730.0,867.5 C721.7,869.8 713.3,871.8 705.0,873.9 C696.7,875.9 688.1,877.9 680.0,879.9 C671.9,881.9 661.8,881.6 656.3,885.8 C650.8,890.0 649.6,898.3 646.8,905.4 C644.0,912.4 641.4,920.6 639.4,928.2 C637.5,935.8 635.9,947.2 635.2,951.0"/>
<path d="M936.0,794.0 C934.7,794.2 931.0,794.5 928.0,795.4 C925.0,796.3 921.8,797.5 918.0,799.2 C914.2,800.9 909.7,803.8 905.0,805.8 C900.3,807.8 895.5,809.3 890.0,811.2 C884.5,813.1 878.3,815.0 872.0,817.3 C865.7,819.6 859.0,822.2 852.0,824.8 C845.0,827.5 837.8,830.3 830.0,833.3 C822.2,836.3 813.3,839.6 805.0,842.9 C796.7,846.2 788.3,849.5 780.0,852.9 C771.7,856.3 763.3,860.0 755.0,863.4 C746.7,866.9 738.3,870.4 730.0,873.6 C721.7,876.8 713.3,879.9 705.0,882.5 C696.7,885.1 685.7,887.7 680.0,889.2 C674.3,890.6 674.4,887.2 670.6,891.0 C666.9,894.8 661.3,904.3 657.4,911.8 C653.5,919.3 649.8,928.0 647.1,936.1 C644.4,944.2 642.2,956.3 641.3,960.3"/>
<path d="M936.0,794.0 C934.7,794.2 931.0,794.6 928.0,795.4 C925.0,796.3 921.8,797.3 918.0,799.0 C914.2,800.6 909.7,803.3 905.0,805.4 C900.3,807.4 895.5,809.1 890.0,811.5 C884.5,813.9 878.3,816.7 872.0,819.9 C865.7,823.0 859.0,826.8 852.0,830.6 C845.0,834.4 837.8,838.9 830.0,842.5 C822.2,846.2 813.3,850.2 805.0,852.7 C796.7,855.1 788.3,856.0 780.0,857.2 C771.7,858.4 763.3,858.8 755.0,860.0 C746.7,861.2 738.3,862.2 730.0,864.2 C721.7,866.2 713.3,868.7 705.0,872.1 C696.7,875.5 688.3,880.0 680.0,884.5 C671.7,889.0 662.5,894.8 655.0,899.1 C647.5,903.4 639.7,907.1 634.7,910.2 C629.8,913.4 628.0,915.3 625.2,918.2 C622.3,921.0 619.7,924.3 617.7,927.4 C615.8,930.5 614.2,935.1 613.5,936.6"/>
<path d="M936.0,794.0 C934.7,794.3 931.0,794.7 928.0,795.7 C925.0,796.6 921.8,797.8 918.0,799.6 C914.2,801.4 909.7,804.4 905.0,806.5 C900.3,808.6 895.5,810.1 890.0,812.4 C884.5,814.6 878.3,817.0 872.0,819.9 C865.7,822.8 859.0,826.1 852.0,829.7 C845.0,833.2 837.8,837.3 830.0,841.1 C822.2,845.0 813.3,849.4 805.0,852.6 C796.7,855.8 788.3,857.9 780.0,860.1 C771.7,862.2 761.6,864.2 755.0,865.5 C748.4,866.9 745.7,863.7 740.5,868.2 C735.3,872.8 728.8,884.1 723.8,893.1 C718.9,902.1 714.2,912.4 710.8,922.1 C707.5,931.8 704.7,946.3 703.4,951.1"/>
<path d="M936.0,794.0 C934.7,794.3 931.0,794.8 928.0,795.9 C925.0,796.9 921.8,798.2 918.0,800.2 C914.2,802.2 909.7,805.4 905.0,807.7 C900.3,810.0 895.5,811.6 890.0,813.9 C884.5,816.1 878.3,818.4 872.0,821.1 C865.7,823.8 859.0,826.9 852.0,830.2 C845.0,833.5 837.8,837.1 830.0,840.8 C822.2,844.5 813.3,848.8 805.0,852.3 C796.7,855.8 788.3,858.7 780.0,861.6 C771.7,864.5 763.3,867.1 755.0,869.6 C746.7,872.1 738.3,874.1 730.0,876.3 C721.7,878.5 713.3,880.5 705.0,882.8 C696.7,885.0 685.8,885.5 680.1,889.9 C674.4,894.4 673.4,902.3 670.6,909.3 C667.9,916.4 665.2,924.4 663.3,932.0 C661.4,939.6 659.8,950.9 659.1,954.7"/>
<path d="M936.0,794.0 C934.7,794.3 931.0,794.9 928.0,796.0 C925.0,797.0 921.8,798.3 918.0,800.2 C914.2,802.1 909.7,805.2 905.0,807.4 C900.3,809.6 895.5,811.1 890.0,813.4 C884.5,815.6 878.3,818.1 872.0,820.9 C865.7,823.8 859.0,827.1 852.0,830.6 C845.0,834.1 837.8,838.0 830.0,841.9 C822.2,845.9 813.3,850.5 805.0,854.2 C796.7,858.0 788.3,861.0 780.0,864.3 C771.7,867.5 763.3,870.7 755.0,873.7 C746.7,876.7 738.3,879.6 730.0,882.5 C721.7,885.3 713.3,888.3 705.0,890.9 C696.7,893.6 688.3,896.1 680.0,898.5 C671.7,900.8 660.2,903.6 655.0,904.9 C649.8,906.2 651.3,903.7 648.8,906.4 C646.3,909.1 642.7,915.8 640.1,921.0 C637.5,926.3 635.1,932.4 633.3,938.1 C631.5,943.8 630.1,952.4 629.4,955.2"/>
<path d="M936.0,794.0 C934.7,794.4 931.0,795.0 928.0,796.1 C925.0,797.3 921.8,798.7 918.0,800.7 C914.2,802.6 909.7,805.8 905.0,808.0 C900.3,810.3 895.5,811.8 890.0,814.2 C884.5,816.5 878.3,819.0 872.0,822.1 C865.7,825.2 859.0,828.7 852.0,832.7 C845.0,836.6 837.8,841.3 830.0,845.7 C822.2,850.1 813.3,855.5 805.0,859.1 C796.7,862.7 788.3,865.0 780.0,867.5 C771.7,870.0 763.3,872.3 755.0,874.1 C746.7,876.0 738.3,876.9 730.0,878.6 C721.7,880.4 713.3,882.0 705.0,884.4 C696.7,886.8 688.3,889.7 680.0,893.2 C671.7,896.7 663.3,901.1 655.0,905.6 C646.7,910.1 637.0,916.2 630.0,920.2 C623.0,924.2 618.2,927.7 613.1,929.8 C608.0,931.9 603.5,931.7 599.4,932.8 C595.4,933.9 591.6,935.1 588.8,936.3 C586.0,937.5 583.7,939.2 582.7,939.8"/>
<path d="M936.0,794.0 C934.7,794.4 931.0,795.1 928.0,796.3 C925.0,797.6 921.8,799.1 918.0,801.3 C914.2,803.5 909.7,807.1 905.0,809.7 C900.3,812.2 895.5,814.2 890.0,816.7 C884.5,819.2 878.3,821.8 872.0,824.8 C865.7,827.8 859.0,831.1 852.0,834.6 C845.0,838.1 837.8,842.0 830.0,845.6 C822.2,849.3 813.3,853.3 805.0,856.4 C796.7,859.6 785.1,862.8 780.0,864.4 C774.9,866.0 777.2,862.6 774.3,866.2 C771.4,869.8 766.0,878.9 762.5,886.0 C759.0,893.1 755.8,901.4 753.4,909.1 C751.0,916.7 749.0,928.3 748.2,932.1"/>
</g>
<path d="M761.4,886.4 C762.9,888.9 768.0,896.1 770.5,901.3 C773.0,906.4 775.5,910.8 776.2,917.3 C777.0,923.8 775.1,932.6 775.1,940.2 C775.1,947.8 777.2,956.6 776.2,963.1 C775.3,969.5 772.6,974.5 769.4,979.1 C766.1,983.7 760.8,987.5 756.8,990.5 C752.8,993.6 748.8,994.9 745.4,997.4 C741.9,999.9 737.7,1004.1 736.2,1005.4" stroke="#e8e070" stroke-width="1.3"/>
<path d="M688.1,878.4 C685.7,879.9 676.9,885.0 673.5,887.1 C670.1,889.2 670.2,889.6 667.8,891.3 C665.4,892.9 662.1,894.9 659.3,897.0 C656.5,899.1 653.2,902.0 650.8,904.1 C648.4,906.2 646.6,907.7 645.1,909.8 C643.6,911.9 642.7,914.3 641.6,916.9 C640.5,919.5 639.5,922.6 638.7,925.4 C637.9,928.2 637.3,930.8 636.6,933.9 C635.9,937.0 635.3,940.5 634.5,943.8 C633.7,947.1 632.7,950.2 631.6,953.8 C630.5,957.3 629.3,961.6 628.1,965.1 C626.9,968.6 625.5,972.2 624.5,975.0 C623.5,977.8 622.8,979.5 622.4,982.1 C622.0,984.7 622.5,987.8 622.4,990.6 C622.3,993.4 622.2,996.5 621.7,999.1 C621.2,1001.7 620.1,1003.8 619.6,1006.2 C619.1,1008.6 618.7,1010.9 618.9,1013.3 C619.1,1015.7 620.6,1019.2 621.0,1020.4" stroke="#ef63ef" stroke-width="4.2" stroke-linecap="butt"/>
<path d="M933.8,795.1 C931.9,795.7 925.9,798.1 922.5,798.9 C919.1,799.7 916.9,799.9 913.7,800.1 C910.6,800.3 907.4,799.6 903.6,800.1 C899.8,800.6 895.2,802.1 891.0,803.3 C886.8,804.5 881.9,806.0 878.5,807.1 C875.1,808.2 873.4,808.9 870.9,810.2 C868.4,811.6 865.8,813.5 863.3,815.2 C860.8,816.9 858.5,818.5 855.8,820.3 C853.1,822.1 850.6,824.3 847.0,825.9 C843.4,827.5 838.6,828.5 834.4,829.7 C830.2,830.9 827.0,831.5 821.8,832.9 C816.5,834.3 808.1,836.4 802.9,837.9 C797.6,839.4 794.5,840.5 790.3,841.7 C786.1,843.0 782.0,844.0 777.8,845.4 C773.6,846.8 769.4,848.5 765.2,849.9 C761.0,851.3 756.8,852.5 752.6,853.6 C748.4,854.8 744.6,855.5 740.0,856.8 C735.4,858.1 729.8,859.9 725.0,861.5 C720.2,863.1 715.6,864.6 711.0,866.5 C706.4,868.4 701.1,870.7 697.3,872.7 C693.5,874.7 689.6,877.5 688.1,878.4" stroke="#800080" stroke-width="4.2" stroke-linecap="butt"/>
<path d="M936.3,793.8 C935.0,793.3 932.1,791.5 928.8,790.7 C925.4,789.9 919.6,788.8 916.2,788.8 C912.9,788.8 911.0,789.7 908.7,790.7 C906.4,791.8 905.4,793.5 902.4,795.1 C899.4,796.7 895.0,798.5 891.0,800.1 C887.0,801.7 882.7,803.2 878.5,804.5 C874.3,805.8 870.1,806.7 865.9,807.7 C861.7,808.8 857.5,809.8 853.3,810.8 C849.1,811.8 844.9,812.3 840.7,813.4 C836.5,814.5 832.3,815.9 828.1,817.1 C823.9,818.4 819.7,819.6 815.5,820.9 C811.3,822.2 806.7,823.6 802.9,824.7 C799.1,825.9 796.0,826.6 792.9,827.8 C789.8,828.9 787.7,829.9 784.1,831.6 C780.5,833.3 775.7,835.8 771.5,837.9 C767.3,840.0 763.1,842.2 758.9,844.2 C754.7,846.2 749.7,848.5 746.3,849.9 C742.9,851.3 742.1,851.2 738.5,852.4 C734.9,853.6 729.4,855.5 724.8,857.2 C720.2,858.9 715.6,860.6 711.0,862.4 C706.4,864.2 701.5,866.1 697.3,868.1 C693.1,870.1 689.3,872.0 685.9,874.3 C682.5,876.6 679.6,878.8 676.7,881.8 C673.8,884.8 670.0,890.4 668.7,892.1" stroke="#000" stroke-width="4.2" stroke-linecap="butt"/>
</g>
<g stroke="#000" stroke-width="1.05" stroke-dasharray="1.05 1.73" fill="none">
<line x1="465.55" y1="89.5" x2="465.55" y2="1051.4"/>
<line x1="846.80" y1="89.5" x2="846.80" y2="1051.4"/>
<line x1="1228.05" y1="89.5" x2="1228.05" y2="1051.4"/>
<line x1="1609.30" y1="89.5" x2="1609.30" y2="1051.4"/>
<line x1="84.3" y1="1051.40" x2="1609.3" y2="1051.40"/>
<line x1="84.3" y1="859.80" x2="1609.3" y2="859.80"/>
<line x1="84.3" y1="662.16" x2="1609.3" y2="662.16"/>
<line x1="84.3" y1="451.45" x2="1609.3" y2="451.45"/>
<line x1="84.3" y1="218.15" x2="1609.3" y2="218.15"/>
</g>
</g>
<rect x="84.5" y="89.5" width="1525" height="962.8" fill="none" stroke="#000" stroke-width="1.15"/>
<g font-weight="bold" font-size="20.83" fill="#000">
<text x="69.5" y="1056.6" text-anchor="end">0°</text>
<text x="69.5" y="865.0" text-anchor="end">10°N</text>
<text x="69.5" y="667.4" text-anchor="end">20°N</text>
<text x="69.5" y="456.6" text-anchor="end">30°N</text>
<text x="69.5" y="223.3" text-anchor="end">40°N</text>
<text x="86.2" y="1083" text-anchor="middle">100°E</text>
<text x="466.3" y="1083" text-anchor="middle">120°E</text>
<text x="848.3" y="1083" text-anchor="middle">140°E</text>
<text x="1229.2" y="1083" text-anchor="middle">160°E</text>
<text x="1607.4" y="1083" text-anchor="middle">180°</text>
</g>
<rect x="93.9" y="97.4" width="337.1" height="169.6" rx="3" fill="#fff" stroke="#000" stroke-width="1.25"/>
<line x1="98.9" y1="110.3" x2="134.1" y2="110.3" stroke="#808080" stroke-width="1.4"/>
<text x="145.9" y="115.9" font-size="16.75">No Interception</text>
<line x1="98.9" y1="134.5" x2="134.1" y2="134.5" stroke="#ff4500" stroke-width="1.4"/>
<text x="145.9" y="139.7" font-size="16.75">Interception from Named cyclone</text>
<line x1="98.9" y1="157.4" x2="134.1" y2="157.4" stroke="#808000" stroke-width="1.4"/>
<text x="145.9" y="162.6" font-size="16.75">Interception from Trochoid</text>
<line x1="98.9" y1="180.3" x2="134.1" y2="180.3" stroke="#008000" stroke-width="1.4"/>
<text x="145.9" y="186.2" font-size="16.75">Interception from both</text>
<line x1="99" y1="204.2" x2="133" y2="204.2" stroke="#800080" stroke-width="4.2" stroke-linecap="square"/>
<text x="145.9" y="209.9" font-size="16.75">HRES</text>
<line x1="99" y1="226.9" x2="133" y2="226.9" stroke="#000" stroke-width="4.2" stroke-linecap="square"/>
<text x="145.9" y="233.4" font-size="16.75">Analysis | 136h duration</text>
<path d="M114.4,249.9 A3.6,3.6 0 1,0 120.9,252.3" fill="none" stroke="#000" stroke-width="2.5"/>
<path d="M117.3,247.9 L123,247.4 L122.8,249.8 L121.3,250.3 L121,252.3 L117.3,253.3Z" fill="#000"/>
<text x="145.9" y="257.3" font-size="16.75">TC obs. for analysis duration</text>
<rect x="1662.3" y="892.80" width="20.40" height="47.50" fill="#ddeaf7"/>
<rect x="1662.3" y="845.90" width="20.40" height="47.50" fill="#d2e3f3"/>
<rect x="1662.3" y="799.00" width="20.40" height="47.50" fill="#c7dcef"/>
<rect x="1662.3" y="752.10" width="20.40" height="47.50" fill="#b5d4e9"/>
<rect x="1662.3" y="705.20" width="20.40" height="47.50" fill="#a3cce3"/>
<rect x="1662.3" y="658.30" width="20.40" height="47.50" fill="#8cc0dd"/>
<rect x="1662.3" y="611.40" width="20.40" height="47.50" fill="#74b3d8"/>
<rect x="1662.3" y="564.50" width="20.40" height="47.50" fill="#5fa6d1"/>
<rect x="1662.3" y="517.60" width="20.40" height="47.50" fill="#4b98ca"/>
<rect x="1662.3" y="470.70" width="20.40" height="47.50" fill="#3b8bc2"/>
<rect x="1662.3" y="423.80" width="20.40" height="47.50" fill="#2c7cba"/>
<rect x="1662.3" y="376.90" width="20.40" height="47.50" fill="#1d6cb1"/>
<rect x="1662.3" y="330.00" width="20.40" height="47.50" fill="#125da6"/>
<rect x="1662.3" y="283.10" width="20.40" height="47.50" fill="#084e98"/>
<rect x="1662.3" y="236.20" width="20.40" height="47.50" fill="#083e81"/>
<rect x="1662.3" y="189.30" width="20.40" height="47.50" fill="#08306b"/>
<rect x="1662.3" y="189.3" width="20.40" height="750.40" fill="none" stroke="#000" stroke-width="1.1"/>
<g font-size="13.3" fill="#000">
<line x1="1682.7" y1="939.70" x2="1687.6000000000001" y2="939.70" stroke="#000" stroke-width="1.1"/>
<text x="1691.3" y="945.50">0</text>
<line x1="1682.7" y1="822.45" x2="1687.6000000000001" y2="822.45" stroke="#000" stroke-width="1.1"/>
<text x="1691.3" y="828.25">5</text>
<line x1="1682.7" y1="705.20" x2="1687.6000000000001" y2="705.20" stroke="#000" stroke-width="1.1"/>
<text x="1691.3" y="711.00">10</text>
<line x1="1682.7" y1="587.95" x2="1687.6000000000001" y2="587.95" stroke="#000" stroke-width="1.1"/>
<text x="1691.3" y="593.75">15</text>
<line x1="1682.7" y1="470.70" x2="1687.6000000000001" y2="470.70" stroke="#000" stroke-width="1.1"/>
<text x="1691.3" y="476.50">20</text>
<line x1="1682.7" y1="353.45" x2="1687.6000000000001" y2="353.45" stroke="#000" stroke-width="1.1"/>
<text x="1691.3" y="359.25">25</text>
<line x1="1682.7" y1="236.20" x2="1687.6000000000001" y2="236.20" stroke="#000" stroke-width="1.1"/>
<text x="1691.3" y="242.00">30</text>
</g>
<text transform="translate(1734.1,608.5) rotate(-90)" text-anchor="middle" font-weight="bold" font-size="19.44">Named cyclones forecast - Number of GEFS within 120km</text>
<text x="860.5" y="1121" text-anchor="middle" font-weight="bold" font-size="16.67">Percentage of flying ballons within a TC as a function of flight time</text>
<rect x="22.3" y="1137.4" width="1639.90" height="41.10" fill="#9e0142" stroke="#000" stroke-width="1.1"/>
<line x1="17.4" y1="1158.5" x2="22.3" y2="1158.5" stroke="#000" stroke-width="1.1"/>
<g font-weight="bold" font-size="16.3" fill="#000">
<line x1="22.30" y1="1178.5" x2="22.30" y2="1183.4" stroke="#000" stroke-width="1.1"/>
<text x="22.30" y="1200" text-anchor="middle">0h</text>
<line x1="63.30" y1="1178.5" x2="63.30" y2="1183.4" stroke="#000" stroke-width="1.1"/>
<line x1="104.30" y1="1178.5" x2="104.30" y2="1183.4" stroke="#000" stroke-width="1.1"/>
<line x1="145.29" y1="1178.5" x2="145.29" y2="1183.4" stroke="#000" stroke-width="1.1"/>
<line x1="186.29" y1="1178.5" x2="186.29" y2="1183.4" stroke="#000" stroke-width="1.1"/>
<text x="186.29" y="1200" text-anchor="middle">12h</text>
<line x1="227.29" y1="1178.5" x2="227.29" y2="1183.4" stroke="#000" stroke-width="1.1"/>
<line x1="268.29" y1="1178.5" x2="268.29" y2="1183.4" stroke="#000" stroke-width="1.1"/>
<line x1="309.28" y1="1178.5" x2="309.28" y2="1183.4" stroke="#000" stroke-width="1.1"/>
<line x1="350.28" y1="1178.5" x2="350.28" y2="1183.4" stroke="#000" stroke-width="1.1"/>
<text x="350.28" y="1200" text-anchor="middle">24h</text>
<line x1="391.28" y1="1178.5" x2="391.28" y2="1183.4" stroke="#000" stroke-width="1.1"/>
<line x1="432.28" y1="1178.5" x2="432.28" y2="1183.4" stroke="#000" stroke-width="1.1"/>
<line x1="473.27" y1="1178.5" x2="473.27" y2="1183.4" stroke="#000" stroke-width="1.1"/>
<line x1="514.27" y1="1178.5" x2="514.27" y2="1183.4" stroke="#000" stroke-width="1.1"/>
<text x="514.27" y="1200" text-anchor="middle">36h</text>
<line x1="555.27" y1="1178.5" x2="555.27" y2="1183.4" stroke="#000" stroke-width="1.1"/>
<line x1="596.26" y1="1178.5" x2="596.26" y2="1183.4" stroke="#000" stroke-width="1.1"/>
<line x1="637.26" y1="1178.5" x2="637.26" y2="1183.4" stroke="#000" stroke-width="1.1"/>
<line x1="678.26" y1="1178.5" x2="678.26" y2="1183.4" stroke="#000" stroke-width="1.1"/>
<text x="678.26" y="1200" text-anchor="middle">48h</text>
<line x1="719.26" y1="1178.5" x2="719.26" y2="1183.4" stroke="#000" stroke-width="1.1"/>
<line x1="760.25" y1="1178.5" x2="760.25" y2="1183.4" stroke="#000" stroke-width="1.1"/>
<line x1="801.25" y1="1178.5" x2="801.25" y2="1183.4" stroke="#000" stroke-width="1.1"/>
<line x1="842.25" y1="1178.5" x2="842.25" y2="1183.4" stroke="#000" stroke-width="1.1"/>
<text x="842.25" y="1200" text-anchor="middle">60h</text>
<line x1="883.25" y1="1178.5" x2="883.25" y2="1183.4" stroke="#000" stroke-width="1.1"/>
<line x1="924.25" y1="1178.5" x2="924.25" y2="1183.4" stroke="#000" stroke-width="1.1"/>
<line x1="965.24" y1="1178.5" x2="965.24" y2="1183.4" stroke="#000" stroke-width="1.1"/>
<line x1="1006.24" y1="1178.5" x2="1006.24" y2="1183.4" stroke="#000" stroke-width="1.1"/>
<text x="1006.24" y="1200" text-anchor="middle">72h</text>
<line x1="1047.24" y1="1178.5" x2="1047.24" y2="1183.4" stroke="#000" stroke-width="1.1"/>
<line x1="1088.24" y1="1178.5" x2="1088.24" y2="1183.4" stroke="#000" stroke-width="1.1"/>
<line x1="1129.23" y1="1178.5" x2="1129.23" y2="1183.4" stroke="#000" stroke-width="1.1"/>
<line x1="1170.23" y1="1178.5" x2="1170.23" y2="1183.4" stroke="#000" stroke-width="1.1"/>
<text x="1170.23" y="1200" text-anchor="middle">84h</text>
<line x1="1211.23" y1="1178.5" x2="1211.23" y2="1183.4" stroke="#000" stroke-width="1.1"/>
<line x1="1252.22" y1="1178.5" x2="1252.22" y2="1183.4" stroke="#000" stroke-width="1.1"/>
<line x1="1293.22" y1="1178.5" x2="1293.22" y2="1183.4" stroke="#000" stroke-width="1.1"/>
<line x1="1334.22" y1="1178.5" x2="1334.22" y2="1183.4" stroke="#000" stroke-width="1.1"/>
<text x="1334.22" y="1200" text-anchor="middle">96h</text>
<line x1="1375.22" y1="1178.5" x2="1375.22" y2="1183.4" stroke="#000" stroke-width="1.1"/>
<line x1="1416.22" y1="1178.5" x2="1416.22" y2="1183.4" stroke="#000" stroke-width="1.1"/>
<line x1="1457.21" y1="1178.5" x2="1457.21" y2="1183.4" stroke="#000" stroke-width="1.1"/>
<line x1="1498.21" y1="1178.5" x2="1498.21" y2="1183.4" stroke="#000" stroke-width="1.1"/>
<text x="1498.21" y="1200" text-anchor="middle">108h</text>
<line x1="1539.21" y1="1178.5" x2="1539.21" y2="1183.4" stroke="#000" stroke-width="1.1"/>
<line x1="1580.20" y1="1178.5" x2="1580.20" y2="1183.4" stroke="#000" stroke-width="1.1"/>
<line x1="1621.20" y1="1178.5" x2="1621.20" y2="1183.4" stroke="#000" stroke-width="1.1"/>
<line x1="1662.20" y1="1178.5" x2="1662.20" y2="1183.4" stroke="#000" stroke-width="1.1"/>
<text x="1662.20" y="1200" text-anchor="middle">120h</text>
</g>
</svg></body></html>
